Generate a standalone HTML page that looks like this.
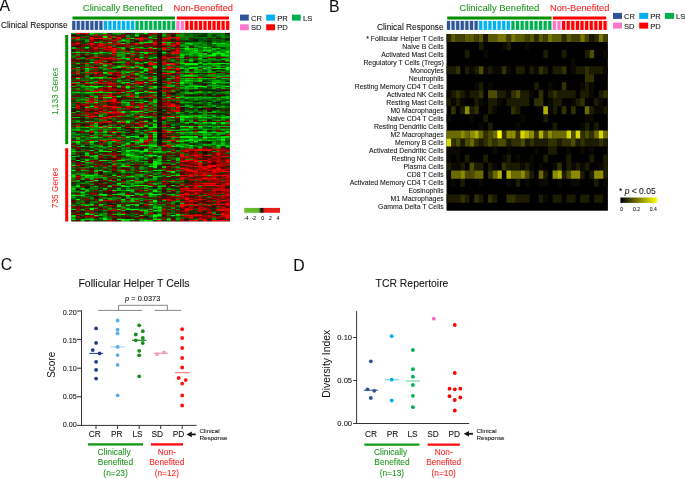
<!DOCTYPE html>
<html><head><meta charset="utf-8"><style>
html,body{margin:0;padding:0;background:#fff;width:685px;height:479px;overflow:hidden;}
svg{display:block;font-family:"Liberation Sans", sans-serif;will-change:transform;}
</style></head><body>
<svg width="685" height="479" viewBox="0 0 685 479">
<rect width="685" height="479" fill="#fff"/>
<text x="-0.6" y="10.6" font-size="15.8" fill="#111" stroke="#111" stroke-width="0.07" text-anchor="start" >A</text>
<text x="1.0" y="28.1" font-size="8.33" fill="#111" stroke="#111" stroke-width="0.07" text-anchor="start" >Clinical Response</text>
<text x="82.8" y="11.1" font-size="9.6" fill="#1E961E" stroke="#1E961E" stroke-width="0.07" text-anchor="start" textLength="80.0" lengthAdjust="spacingAndGlyphs">Clinically Benefited</text>
<text x="173.5" y="11.0" font-size="9.4" fill="#FF2222" stroke="#FF2222" stroke-width="0.07" text-anchor="start" textLength="59.5" lengthAdjust="spacingAndGlyphs">Non-Benefited</text>
<rect x="72.50" y="16.50" width="102.40" height="3.00" fill="#009000" />
<rect x="176.80" y="16.50" width="52.20" height="3.00" fill="#FF0000" />
<rect x="71.85" y="20.90" width="4.53" height="9.00" fill="#2E5597" opacity="0.2"/>
<rect x="72.20" y="20.90" width="3.10" height="9.00" fill="#2E5597" />
<rect x="76.38" y="20.90" width="4.53" height="9.00" fill="#2E5597" opacity="0.2"/>
<rect x="76.73" y="20.90" width="3.10" height="9.00" fill="#2E5597" />
<rect x="80.90" y="20.90" width="4.53" height="9.00" fill="#2E5597" opacity="0.2"/>
<rect x="81.25" y="20.90" width="3.10" height="9.00" fill="#2E5597" />
<rect x="85.43" y="20.90" width="4.53" height="9.00" fill="#2E5597" opacity="0.2"/>
<rect x="85.78" y="20.90" width="3.10" height="9.00" fill="#2E5597" />
<rect x="89.95" y="20.90" width="4.53" height="9.00" fill="#2E5597" opacity="0.2"/>
<rect x="90.30" y="20.90" width="3.10" height="9.00" fill="#2E5597" />
<rect x="94.48" y="20.90" width="4.53" height="9.00" fill="#2E5597" opacity="0.2"/>
<rect x="94.83" y="20.90" width="3.10" height="9.00" fill="#2E5597" />
<rect x="99.01" y="20.90" width="4.53" height="9.00" fill="#2E5597" opacity="0.2"/>
<rect x="99.36" y="20.90" width="3.10" height="9.00" fill="#2E5597" />
<rect x="103.53" y="20.90" width="4.53" height="9.00" fill="#00B0F0" opacity="0.2"/>
<rect x="103.88" y="20.90" width="3.10" height="9.00" fill="#00B0F0" />
<rect x="108.06" y="20.90" width="4.53" height="9.00" fill="#00B0F0" opacity="0.2"/>
<rect x="108.41" y="20.90" width="3.10" height="9.00" fill="#00B0F0" />
<rect x="112.58" y="20.90" width="4.53" height="9.00" fill="#00B0F0" opacity="0.2"/>
<rect x="112.93" y="20.90" width="3.10" height="9.00" fill="#00B0F0" />
<rect x="117.11" y="20.90" width="4.53" height="9.00" fill="#00B0F0" opacity="0.2"/>
<rect x="117.46" y="20.90" width="3.10" height="9.00" fill="#00B0F0" />
<rect x="121.64" y="20.90" width="4.53" height="9.00" fill="#00B0F0" opacity="0.2"/>
<rect x="121.99" y="20.90" width="3.10" height="9.00" fill="#00B0F0" />
<rect x="126.16" y="20.90" width="4.53" height="9.00" fill="#00B0F0" opacity="0.2"/>
<rect x="126.51" y="20.90" width="3.10" height="9.00" fill="#00B0F0" />
<rect x="130.69" y="20.90" width="4.53" height="9.00" fill="#00B0F0" opacity="0.2"/>
<rect x="131.04" y="20.90" width="3.10" height="9.00" fill="#00B0F0" />
<rect x="135.21" y="20.90" width="4.53" height="9.00" fill="#00B050" opacity="0.2"/>
<rect x="135.56" y="20.90" width="3.10" height="9.00" fill="#00B050" />
<rect x="139.74" y="20.90" width="4.53" height="9.00" fill="#00B050" opacity="0.2"/>
<rect x="140.09" y="20.90" width="3.10" height="9.00" fill="#00B050" />
<rect x="144.27" y="20.90" width="4.53" height="9.00" fill="#00B050" opacity="0.2"/>
<rect x="144.62" y="20.90" width="3.10" height="9.00" fill="#00B050" />
<rect x="148.79" y="20.90" width="4.53" height="9.00" fill="#00B050" opacity="0.2"/>
<rect x="149.14" y="20.90" width="3.10" height="9.00" fill="#00B050" />
<rect x="153.32" y="20.90" width="4.53" height="9.00" fill="#00B050" opacity="0.2"/>
<rect x="153.67" y="20.90" width="3.10" height="9.00" fill="#00B050" />
<rect x="157.84" y="20.90" width="4.53" height="9.00" fill="#00B050" opacity="0.2"/>
<rect x="158.19" y="20.90" width="3.10" height="9.00" fill="#00B050" />
<rect x="162.37" y="20.90" width="4.53" height="9.00" fill="#00B050" opacity="0.2"/>
<rect x="162.72" y="20.90" width="3.10" height="9.00" fill="#00B050" />
<rect x="166.90" y="20.90" width="4.53" height="9.00" fill="#00B050" opacity="0.2"/>
<rect x="167.25" y="20.90" width="3.10" height="9.00" fill="#00B050" />
<rect x="171.42" y="20.90" width="4.53" height="9.00" fill="#00B050" opacity="0.2"/>
<rect x="171.77" y="20.90" width="3.10" height="9.00" fill="#00B050" />
<rect x="175.95" y="20.90" width="4.53" height="9.00" fill="#FF77CC" opacity="0.2"/>
<rect x="176.30" y="20.90" width="3.10" height="9.00" fill="#FF77CC" />
<rect x="180.47" y="20.90" width="4.53" height="9.00" fill="#FF77CC" opacity="0.2"/>
<rect x="180.82" y="20.90" width="3.10" height="9.00" fill="#FF77CC" />
<rect x="185.00" y="20.90" width="4.53" height="9.00" fill="#FF0000" opacity="0.2"/>
<rect x="185.35" y="20.90" width="3.10" height="9.00" fill="#FF0000" />
<rect x="189.53" y="20.90" width="4.53" height="9.00" fill="#FF0000" opacity="0.2"/>
<rect x="189.88" y="20.90" width="3.10" height="9.00" fill="#FF0000" />
<rect x="194.05" y="20.90" width="4.53" height="9.00" fill="#FF0000" opacity="0.2"/>
<rect x="194.40" y="20.90" width="3.10" height="9.00" fill="#FF0000" />
<rect x="198.58" y="20.90" width="4.53" height="9.00" fill="#FF0000" opacity="0.2"/>
<rect x="198.93" y="20.90" width="3.10" height="9.00" fill="#FF0000" />
<rect x="203.10" y="20.90" width="4.53" height="9.00" fill="#FF0000" opacity="0.2"/>
<rect x="203.45" y="20.90" width="3.10" height="9.00" fill="#FF0000" />
<rect x="207.63" y="20.90" width="4.53" height="9.00" fill="#FF0000" opacity="0.2"/>
<rect x="207.98" y="20.90" width="3.10" height="9.00" fill="#FF0000" />
<rect x="212.16" y="20.90" width="4.53" height="9.00" fill="#FF0000" opacity="0.2"/>
<rect x="212.51" y="20.90" width="3.10" height="9.00" fill="#FF0000" />
<rect x="216.68" y="20.90" width="4.53" height="9.00" fill="#FF0000" opacity="0.2"/>
<rect x="217.03" y="20.90" width="3.10" height="9.00" fill="#FF0000" />
<rect x="221.21" y="20.90" width="4.53" height="9.00" fill="#FF0000" opacity="0.2"/>
<rect x="221.56" y="20.90" width="3.10" height="9.00" fill="#FF0000" />
<rect x="225.73" y="20.90" width="4.53" height="9.00" fill="#FF0000" opacity="0.2"/>
<rect x="226.08" y="20.90" width="3.10" height="9.00" fill="#FF0000" />
<rect x="65.20" y="35.00" width="3.00" height="109.20" fill="#009000" />
<rect x="65.20" y="148.20" width="3.00" height="73.30" fill="#FF0000" />
<text transform="translate(58.3,91.3) rotate(-90)" font-size="8.3" fill="#1E961E" text-anchor="middle">1,133 Genes</text>
<text transform="translate(58.2,187.9) rotate(-90)" font-size="8.3" fill="#FF2222" text-anchor="middle">735 Genes</text>
<rect x="71.3" y="32.9" width="158.50" height="188.40" fill="#000"/>
<path fill="#00bb00" d="M71.3 32.9h4.53v1.26h-4.53zM152.8 37.9h4.53v1.26h-4.53zM125.6 39.2h4.53v1.26h-4.53zM130.2 40.4h4.53v1.26h-4.53zM184.5 45.5h4.53v1.26h-4.53zM71.3 46.7h4.53v1.26h-4.53zM121.1 46.7h4.53v1.26h-4.53zM184.5 46.7h4.53v1.26h-4.53zM207.2 46.7h4.53v1.26h-4.53zM71.3 48.0h4.53v1.26h-4.53zM180.0 48.0h4.53v1.26h-4.53zM189.0 48.0h4.53v1.26h-4.53zM193.6 48.0h4.53v1.26h-4.53zM211.7 48.0h4.53v1.26h-4.53zM189.0 49.2h4.53v1.26h-4.53zM225.3 49.2h4.53v1.26h-4.53zM180.0 50.5h4.53v1.26h-4.53zM184.5 50.5h4.53v1.26h-4.53zM71.3 51.7h4.53v1.26h-4.53zM193.6 54.3h4.53v1.26h-4.53zM216.2 54.3h4.53v1.26h-4.53zM71.3 55.5h4.53v1.26h-4.53zM121.1 55.5h4.53v1.26h-4.53zM189.0 55.5h4.53v1.26h-4.53zM116.6 58.0h4.53v1.26h-4.53zM130.2 60.5h4.53v1.26h-4.53zM148.3 60.5h4.53v1.26h-4.53zM170.9 60.5h4.53v1.26h-4.53zM180.0 60.5h4.53v1.26h-4.53zM198.1 61.8h4.53v1.26h-4.53zM98.5 63.0h4.53v1.26h-4.53zM202.6 63.0h4.53v1.26h-4.53zM84.9 64.3h4.53v1.26h-4.53zM216.2 64.3h4.53v1.26h-4.53zM125.6 65.6h4.53v1.26h-4.53zM216.2 66.8h4.53v1.26h-4.53zM161.9 68.1h4.53v1.26h-4.53zM184.5 68.1h4.53v1.26h-4.53zM184.5 69.3h4.53v1.26h-4.53zM139.2 70.6h4.53v1.26h-4.53zM193.6 70.6h4.53v1.26h-4.53zM207.2 71.8h4.53v1.26h-4.53zM139.2 74.3h4.53v1.26h-4.53zM198.1 74.3h4.53v1.26h-4.53zM202.6 74.3h4.53v1.26h-4.53zM225.3 74.3h4.53v1.26h-4.53zM89.4 76.9h4.53v1.26h-4.53zM93.9 76.9h4.53v1.26h-4.53zM121.1 76.9h4.53v1.26h-4.53zM134.7 78.1h4.53v1.26h-4.53zM193.6 78.1h4.53v1.26h-4.53zM71.3 79.4h4.53v1.26h-4.53zM166.4 79.4h4.53v1.26h-4.53zM180.0 79.4h4.53v1.26h-4.53zM211.7 79.4h4.53v1.26h-4.53zM216.2 79.4h4.53v1.26h-4.53zM193.6 80.6h4.53v1.26h-4.53zM220.7 80.6h4.53v1.26h-4.53zM71.3 81.9h4.53v1.26h-4.53zM184.5 81.9h4.53v1.26h-4.53zM220.7 81.9h4.53v1.26h-4.53zM193.6 84.4h4.53v1.26h-4.53zM71.3 85.7h4.53v1.26h-4.53zM189.0 85.7h4.53v1.26h-4.53zM220.7 85.7h4.53v1.26h-4.53zM184.5 86.9h4.53v1.26h-4.53zM193.6 86.9h4.53v1.26h-4.53zM152.8 88.2h4.53v1.26h-4.53zM180.0 88.2h4.53v1.26h-4.53zM184.5 88.2h4.53v1.26h-4.53zM225.3 88.2h4.53v1.26h-4.53zM170.9 89.4h4.53v1.26h-4.53zM98.5 90.7h4.53v1.26h-4.53zM125.6 90.7h4.53v1.26h-4.53zM198.1 90.7h4.53v1.26h-4.53zM71.3 91.9h4.53v1.26h-4.53zM103.0 91.9h4.53v1.26h-4.53zM121.1 91.9h4.53v1.26h-4.53zM184.5 91.9h4.53v1.26h-4.53zM189.0 91.9h4.53v1.26h-4.53zM198.1 91.9h4.53v1.26h-4.53zM207.2 91.9h4.53v1.26h-4.53zM125.6 93.2h4.53v1.26h-4.53zM184.5 93.2h4.53v1.26h-4.53zM189.0 93.2h4.53v1.26h-4.53zM193.6 93.2h4.53v1.26h-4.53zM225.3 93.2h4.53v1.26h-4.53zM93.9 95.7h4.53v1.26h-4.53zM134.7 95.7h4.53v1.26h-4.53zM134.7 97.0h4.53v1.26h-4.53zM180.0 97.0h4.53v1.26h-4.53zM184.5 97.0h4.53v1.26h-4.53zM189.0 97.0h4.53v1.26h-4.53zM193.6 97.0h4.53v1.26h-4.53zM202.6 97.0h4.53v1.26h-4.53zM207.2 97.0h4.53v1.26h-4.53zM211.7 97.0h4.53v1.26h-4.53zM220.7 97.0h4.53v1.26h-4.53zM225.3 97.0h4.53v1.26h-4.53zM152.8 98.2h4.53v1.26h-4.53zM184.5 98.2h4.53v1.26h-4.53zM198.1 98.2h4.53v1.26h-4.53zM225.3 98.2h4.53v1.26h-4.53zM103.0 99.5h4.53v1.26h-4.53zM166.4 99.5h4.53v1.26h-4.53zM180.0 99.5h4.53v1.26h-4.53zM225.3 100.7h4.53v1.26h-4.53zM134.7 102.0h4.53v1.26h-4.53zM180.0 102.0h4.53v1.26h-4.53zM207.2 102.0h4.53v1.26h-4.53zM71.3 104.5h4.53v1.26h-4.53zM184.5 104.5h4.53v1.26h-4.53zM143.8 105.7h4.53v1.26h-4.53zM184.5 105.7h4.53v1.26h-4.53zM220.7 105.7h4.53v1.26h-4.53zM71.3 107.0h4.53v1.26h-4.53zM189.0 107.0h4.53v1.26h-4.53zM198.1 107.0h4.53v1.26h-4.53zM216.2 107.0h4.53v1.26h-4.53zM202.6 109.5h4.53v1.26h-4.53zM75.8 110.8h4.53v1.26h-4.53zM211.7 110.8h4.53v1.26h-4.53zM71.3 112.0h4.53v1.26h-4.53zM134.7 112.0h4.53v1.26h-4.53zM175.5 112.0h4.53v1.26h-4.53zM189.0 112.0h4.53v1.26h-4.53zM211.7 112.0h4.53v1.26h-4.53zM139.2 113.3h4.53v1.26h-4.53zM152.8 113.3h4.53v1.26h-4.53zM202.6 113.3h4.53v1.26h-4.53zM84.9 114.5h4.53v1.26h-4.53zM193.6 114.5h4.53v1.26h-4.53zM220.7 114.5h4.53v1.26h-4.53zM148.3 115.8h4.53v1.26h-4.53zM175.5 115.8h4.53v1.26h-4.53zM193.6 115.8h4.53v1.26h-4.53zM198.1 115.8h4.53v1.26h-4.53zM71.3 117.1h4.53v1.26h-4.53zM93.9 118.3h4.53v1.26h-4.53zM103.0 119.6h4.53v1.26h-4.53zM125.6 119.6h4.53v1.26h-4.53zM130.2 119.6h4.53v1.26h-4.53zM75.8 120.8h4.53v1.26h-4.53zM202.6 123.3h4.53v1.26h-4.53zM225.3 123.3h4.53v1.26h-4.53zM112.1 124.6h4.53v1.26h-4.53zM121.1 124.6h4.53v1.26h-4.53zM220.7 125.8h4.53v1.26h-4.53zM225.3 125.8h4.53v1.26h-4.53zM75.8 127.1h4.53v1.26h-4.53zM112.1 127.1h4.53v1.26h-4.53zM71.3 128.4h4.53v1.26h-4.53zM121.1 128.4h4.53v1.26h-4.53zM71.3 129.6h4.53v1.26h-4.53zM89.4 129.6h4.53v1.26h-4.53zM134.7 129.6h4.53v1.26h-4.53zM202.6 129.6h4.53v1.26h-4.53zM116.6 130.9h4.53v1.26h-4.53zM134.7 130.9h4.53v1.26h-4.53zM71.3 132.1h4.53v1.26h-4.53zM103.0 132.1h4.53v1.26h-4.53zM121.1 132.1h4.53v1.26h-4.53zM166.4 132.1h4.53v1.26h-4.53zM193.6 132.1h4.53v1.26h-4.53zM71.3 133.4h4.53v1.26h-4.53zM84.9 133.4h4.53v1.26h-4.53zM207.2 134.6h4.53v1.26h-4.53zM202.6 135.9h4.53v1.26h-4.53zM220.7 135.9h4.53v1.26h-4.53zM116.6 137.1h4.53v1.26h-4.53zM134.7 137.1h4.53v1.26h-4.53zM152.8 137.1h4.53v1.26h-4.53zM170.9 137.1h4.53v1.26h-4.53zM175.5 137.1h4.53v1.26h-4.53zM225.3 137.1h4.53v1.26h-4.53zM121.1 138.4h4.53v1.26h-4.53zM170.9 138.4h4.53v1.26h-4.53zM180.0 139.7h4.53v1.26h-4.53zM71.3 140.9h4.53v1.26h-4.53zM134.7 140.9h4.53v1.26h-4.53zM116.6 142.2h4.53v1.26h-4.53zM225.3 144.7h4.53v1.26h-4.53zM148.3 145.9h4.53v1.26h-4.53zM175.5 145.9h4.53v1.26h-4.53zM189.0 145.9h4.53v1.26h-4.53zM198.1 145.9h4.53v1.26h-4.53zM134.7 151.0h4.53v1.26h-4.53zM125.6 152.2h4.53v1.26h-4.53zM139.2 152.2h4.53v1.26h-4.53zM130.2 153.5h4.53v1.26h-4.53zM143.8 154.7h4.53v1.26h-4.53zM103.0 157.2h4.53v1.26h-4.53zM139.2 157.2h4.53v1.26h-4.53zM175.5 157.2h4.53v1.26h-4.53zM80.4 158.5h4.53v1.26h-4.53zM89.4 158.5h4.53v1.26h-4.53zM152.8 158.5h4.53v1.26h-4.53zM175.5 158.5h4.53v1.26h-4.53zM184.5 158.5h4.53v1.26h-4.53zM134.7 159.8h4.53v1.26h-4.53zM175.5 159.8h4.53v1.26h-4.53zM139.2 161.0h4.53v1.26h-4.53zM161.9 162.3h4.53v1.26h-4.53zM161.9 166.0h4.53v1.26h-4.53zM130.2 167.3h4.53v1.26h-4.53zM161.9 167.3h4.53v1.26h-4.53zM121.1 171.1h4.53v1.26h-4.53zM121.1 172.3h4.53v1.26h-4.53zM93.9 174.8h4.53v1.26h-4.53zM139.2 174.8h4.53v1.26h-4.53zM157.3 176.1h4.53v1.26h-4.53zM71.3 177.3h4.53v1.26h-4.53zM80.4 177.3h4.53v1.26h-4.53zM134.7 178.6h4.53v1.26h-4.53zM71.3 181.1h4.53v1.26h-4.53zM84.9 181.1h4.53v1.26h-4.53zM125.6 181.1h4.53v1.26h-4.53zM166.4 181.1h4.53v1.26h-4.53zM84.9 182.4h4.53v1.26h-4.53zM130.2 182.4h4.53v1.26h-4.53zM148.3 182.4h4.53v1.26h-4.53zM175.5 182.4h4.53v1.26h-4.53zM180.0 183.6h4.53v1.26h-4.53zM161.9 186.1h4.53v1.26h-4.53zM184.5 186.1h4.53v1.26h-4.53zM80.4 187.4h4.53v1.26h-4.53zM103.0 187.4h4.53v1.26h-4.53zM139.2 187.4h4.53v1.26h-4.53zM84.9 189.9h4.53v1.26h-4.53zM116.6 189.9h4.53v1.26h-4.53zM130.2 189.9h4.53v1.26h-4.53zM143.8 189.9h4.53v1.26h-4.53zM134.7 193.7h4.53v1.26h-4.53zM148.3 194.9h4.53v1.26h-4.53zM175.5 194.9h4.53v1.26h-4.53zM125.6 196.2h4.53v1.26h-4.53zM112.1 197.4h4.53v1.26h-4.53zM130.2 197.4h4.53v1.26h-4.53zM130.2 198.7h4.53v1.26h-4.53zM161.9 199.9h4.53v1.26h-4.53zM89.4 201.2h4.53v1.26h-4.53zM75.8 202.5h4.53v1.26h-4.53zM80.4 203.7h4.53v1.26h-4.53zM98.5 205.0h4.53v1.26h-4.53zM103.0 206.2h4.53v1.26h-4.53zM80.4 208.7h4.53v1.26h-4.53zM157.3 211.3h4.53v1.26h-4.53zM170.9 212.5h4.53v1.26h-4.53zM98.5 213.8h4.53v1.26h-4.53zM112.1 213.8h4.53v1.26h-4.53zM152.8 213.8h4.53v1.26h-4.53zM103.0 216.3h4.53v1.26h-4.53zM71.3 217.5h4.53v1.26h-4.53zM89.4 217.5h4.53v1.26h-4.53zM152.8 217.5h4.53v1.26h-4.53zM166.4 217.5h4.53v1.26h-4.53zM211.7 217.5h4.53v1.26h-4.53zM80.4 220.0h4.53v1.26h-4.53zM125.6 220.0h4.53v1.26h-4.53zM139.2 220.0h4.53v1.26h-4.53z"/>
<path fill="#ff0000" d="M75.8 32.9h4.53v1.26h-4.53zM93.9 34.2h4.53v1.26h-4.53zM107.5 35.4h4.53v1.26h-4.53zM112.1 35.4h4.53v1.26h-4.53zM75.8 36.7h4.53v1.26h-4.53zM89.4 36.7h4.53v1.26h-4.53zM116.6 36.7h4.53v1.26h-4.53zM75.8 37.9h4.53v1.26h-4.53zM93.9 37.9h4.53v1.26h-4.53zM98.5 37.9h4.53v1.26h-4.53zM103.0 37.9h4.53v1.26h-4.53zM116.6 37.9h4.53v1.26h-4.53zM125.6 37.9h4.53v1.26h-4.53zM134.7 37.9h4.53v1.26h-4.53zM139.2 37.9h4.53v1.26h-4.53zM161.9 37.9h4.53v1.26h-4.53zM166.4 37.9h4.53v1.26h-4.53zM175.5 37.9h4.53v1.26h-4.53zM139.2 39.2h4.53v1.26h-4.53zM175.5 41.7h4.53v1.26h-4.53zM75.8 42.9h4.53v1.26h-4.53zM89.4 42.9h4.53v1.26h-4.53zM107.5 42.9h4.53v1.26h-4.53zM116.6 42.9h4.53v1.26h-4.53zM134.7 42.9h4.53v1.26h-4.53zM152.8 42.9h4.53v1.26h-4.53zM161.9 42.9h4.53v1.26h-4.53zM89.4 44.2h4.53v1.26h-4.53zM93.9 44.2h4.53v1.26h-4.53zM98.5 44.2h4.53v1.26h-4.53zM103.0 44.2h4.53v1.26h-4.53zM112.1 44.2h4.53v1.26h-4.53zM161.9 44.2h4.53v1.26h-4.53zM170.9 44.2h4.53v1.26h-4.53zM175.5 44.2h4.53v1.26h-4.53zM98.5 45.5h4.53v1.26h-4.53zM107.5 45.5h4.53v1.26h-4.53zM170.9 45.5h4.53v1.26h-4.53zM107.5 46.7h4.53v1.26h-4.53zM93.9 48.0h4.53v1.26h-4.53zM112.1 48.0h4.53v1.26h-4.53zM148.3 48.0h4.53v1.26h-4.53zM161.9 48.0h4.53v1.26h-4.53zM103.0 49.2h4.53v1.26h-4.53zM107.5 49.2h4.53v1.26h-4.53zM112.1 49.2h4.53v1.26h-4.53zM121.1 49.2h4.53v1.26h-4.53zM161.9 49.2h4.53v1.26h-4.53zM175.5 49.2h4.53v1.26h-4.53zM112.1 50.5h4.53v1.26h-4.53zM125.6 50.5h4.53v1.26h-4.53zM175.5 50.5h4.53v1.26h-4.53zM112.1 51.7h4.53v1.26h-4.53zM170.9 51.7h4.53v1.26h-4.53zM170.9 53.0h4.53v1.26h-4.53zM112.1 54.3h4.53v1.26h-4.53zM75.8 55.5h4.53v1.26h-4.53zM161.9 55.5h4.53v1.26h-4.53zM170.9 56.8h4.53v1.26h-4.53zM107.5 58.0h4.53v1.26h-4.53zM134.7 58.0h4.53v1.26h-4.53zM98.5 59.3h4.53v1.26h-4.53zM112.1 59.3h4.53v1.26h-4.53zM116.6 59.3h4.53v1.26h-4.53zM134.7 59.3h4.53v1.26h-4.53zM139.2 59.3h4.53v1.26h-4.53zM175.5 59.3h4.53v1.26h-4.53zM93.9 60.5h4.53v1.26h-4.53zM98.5 61.8h4.53v1.26h-4.53zM84.9 63.0h4.53v1.26h-4.53zM148.3 63.0h4.53v1.26h-4.53zM166.4 63.0h4.53v1.26h-4.53zM170.9 63.0h4.53v1.26h-4.53zM148.3 64.3h4.53v1.26h-4.53zM152.8 64.3h4.53v1.26h-4.53zM161.9 64.3h4.53v1.26h-4.53zM170.9 64.3h4.53v1.26h-4.53zM89.4 66.8h4.53v1.26h-4.53zM93.9 66.8h4.53v1.26h-4.53zM121.1 66.8h4.53v1.26h-4.53zM134.7 66.8h4.53v1.26h-4.53zM166.4 66.8h4.53v1.26h-4.53zM148.3 68.1h4.53v1.26h-4.53zM166.4 68.1h4.53v1.26h-4.53zM175.5 68.1h4.53v1.26h-4.53zM175.5 69.3h4.53v1.26h-4.53zM84.9 71.8h4.53v1.26h-4.53zM107.5 73.1h4.53v1.26h-4.53zM161.9 73.1h4.53v1.26h-4.53zM166.4 73.1h4.53v1.26h-4.53zM125.6 75.6h4.53v1.26h-4.53zM75.8 76.9h4.53v1.26h-4.53zM148.3 76.9h4.53v1.26h-4.53zM75.8 79.4h4.53v1.26h-4.53zM175.5 79.4h4.53v1.26h-4.53zM148.3 80.6h4.53v1.26h-4.53zM161.9 80.6h4.53v1.26h-4.53zM93.9 81.9h4.53v1.26h-4.53zM84.9 83.1h4.53v1.26h-4.53zM98.5 83.1h4.53v1.26h-4.53zM107.5 83.1h4.53v1.26h-4.53zM134.7 83.1h4.53v1.26h-4.53zM148.3 83.1h4.53v1.26h-4.53zM166.4 83.1h4.53v1.26h-4.53zM175.5 83.1h4.53v1.26h-4.53zM89.4 84.4h4.53v1.26h-4.53zM112.1 84.4h4.53v1.26h-4.53zM148.3 86.9h4.53v1.26h-4.53zM161.9 86.9h4.53v1.26h-4.53zM166.4 86.9h4.53v1.26h-4.53zM175.5 88.2h4.53v1.26h-4.53zM98.5 89.4h4.53v1.26h-4.53zM161.9 89.4h4.53v1.26h-4.53zM148.3 90.7h4.53v1.26h-4.53zM116.6 91.9h4.53v1.26h-4.53zM98.5 94.4h4.53v1.26h-4.53zM148.3 94.4h4.53v1.26h-4.53zM89.4 95.7h4.53v1.26h-4.53zM112.1 95.7h4.53v1.26h-4.53zM130.2 95.7h4.53v1.26h-4.53zM84.9 98.2h4.53v1.26h-4.53zM89.4 98.2h4.53v1.26h-4.53zM93.9 98.2h4.53v1.26h-4.53zM103.0 98.2h4.53v1.26h-4.53zM112.1 98.2h4.53v1.26h-4.53zM161.9 98.2h4.53v1.26h-4.53zM170.9 98.2h4.53v1.26h-4.53zM175.5 98.2h4.53v1.26h-4.53zM112.1 99.5h4.53v1.26h-4.53zM103.0 100.7h4.53v1.26h-4.53zM112.1 100.7h4.53v1.26h-4.53zM116.6 102.0h4.53v1.26h-4.53zM84.9 103.2h4.53v1.26h-4.53zM98.5 103.2h4.53v1.26h-4.53zM139.2 103.2h4.53v1.26h-4.53zM161.9 103.2h4.53v1.26h-4.53zM166.4 103.2h4.53v1.26h-4.53zM170.9 103.2h4.53v1.26h-4.53zM103.0 104.5h4.53v1.26h-4.53zM170.9 104.5h4.53v1.26h-4.53zM84.9 105.7h4.53v1.26h-4.53zM103.0 105.7h4.53v1.26h-4.53zM112.1 105.7h4.53v1.26h-4.53zM125.6 105.7h4.53v1.26h-4.53zM139.2 105.7h4.53v1.26h-4.53zM166.4 105.7h4.53v1.26h-4.53zM170.9 105.7h4.53v1.26h-4.53zM93.9 107.0h4.53v1.26h-4.53zM112.1 107.0h4.53v1.26h-4.53zM116.6 107.0h4.53v1.26h-4.53zM139.2 107.0h4.53v1.26h-4.53zM175.5 107.0h4.53v1.26h-4.53zM75.8 108.3h4.53v1.26h-4.53zM89.4 108.3h4.53v1.26h-4.53zM98.5 108.3h4.53v1.26h-4.53zM125.6 108.3h4.53v1.26h-4.53zM148.3 109.5h4.53v1.26h-4.53zM175.5 109.5h4.53v1.26h-4.53zM103.0 112.0h4.53v1.26h-4.53zM107.5 112.0h4.53v1.26h-4.53zM116.6 112.0h4.53v1.26h-4.53zM84.9 113.3h4.53v1.26h-4.53zM93.9 113.3h4.53v1.26h-4.53zM98.5 113.3h4.53v1.26h-4.53zM89.4 115.8h4.53v1.26h-4.53zM93.9 115.8h4.53v1.26h-4.53zM107.5 115.8h4.53v1.26h-4.53zM112.1 115.8h4.53v1.26h-4.53zM166.4 115.8h4.53v1.26h-4.53zM103.0 117.1h4.53v1.26h-4.53zM161.9 117.1h4.53v1.26h-4.53zM98.5 118.3h4.53v1.26h-4.53zM161.9 118.3h4.53v1.26h-4.53zM107.5 120.8h4.53v1.26h-4.53zM139.2 120.8h4.53v1.26h-4.53zM93.9 122.1h4.53v1.26h-4.53zM134.7 123.3h4.53v1.26h-4.53zM139.2 124.6h4.53v1.26h-4.53zM75.8 125.8h4.53v1.26h-4.53zM89.4 125.8h4.53v1.26h-4.53zM161.9 129.6h4.53v1.26h-4.53zM112.1 130.9h4.53v1.26h-4.53zM148.3 130.9h4.53v1.26h-4.53zM166.4 130.9h4.53v1.26h-4.53zM112.1 133.4h4.53v1.26h-4.53zM170.9 135.9h4.53v1.26h-4.53zM112.1 138.4h4.53v1.26h-4.53zM148.3 138.4h4.53v1.26h-4.53zM98.5 139.7h4.53v1.26h-4.53zM112.1 139.7h4.53v1.26h-4.53zM116.6 139.7h4.53v1.26h-4.53zM166.4 139.7h4.53v1.26h-4.53zM143.8 140.9h4.53v1.26h-4.53zM84.9 142.2h4.53v1.26h-4.53zM148.3 142.2h4.53v1.26h-4.53zM161.9 144.7h4.53v1.26h-4.53zM189.0 148.5h4.53v1.26h-4.53zM198.1 148.5h4.53v1.26h-4.53zM202.6 148.5h4.53v1.26h-4.53zM216.2 148.5h4.53v1.26h-4.53zM198.1 149.7h4.53v1.26h-4.53zM207.2 149.7h4.53v1.26h-4.53zM216.2 152.2h4.53v1.26h-4.53zM180.0 153.5h4.53v1.26h-4.53zM198.1 153.5h4.53v1.26h-4.53zM216.2 153.5h4.53v1.26h-4.53zM180.0 154.7h4.53v1.26h-4.53zM193.6 154.7h4.53v1.26h-4.53zM207.2 154.7h4.53v1.26h-4.53zM225.3 156.0h4.53v1.26h-4.53zM198.1 157.2h4.53v1.26h-4.53zM211.7 157.2h4.53v1.26h-4.53zM207.2 158.5h4.53v1.26h-4.53zM184.5 159.8h4.53v1.26h-4.53zM180.0 161.0h4.53v1.26h-4.53zM193.6 161.0h4.53v1.26h-4.53zM207.2 161.0h4.53v1.26h-4.53zM216.2 161.0h4.53v1.26h-4.53zM225.3 161.0h4.53v1.26h-4.53zM198.1 162.3h4.53v1.26h-4.53zM220.7 162.3h4.53v1.26h-4.53zM198.1 163.5h4.53v1.26h-4.53zM207.2 164.8h4.53v1.26h-4.53zM211.7 164.8h4.53v1.26h-4.53zM207.2 166.0h4.53v1.26h-4.53zM211.7 166.0h4.53v1.26h-4.53zM180.0 167.3h4.53v1.26h-4.53zM198.1 167.3h4.53v1.26h-4.53zM202.6 167.3h4.53v1.26h-4.53zM207.2 167.3h4.53v1.26h-4.53zM216.2 167.3h4.53v1.26h-4.53zM180.0 168.5h4.53v1.26h-4.53zM184.5 168.5h4.53v1.26h-4.53zM193.6 168.5h4.53v1.26h-4.53zM202.6 168.5h4.53v1.26h-4.53zM211.7 168.5h4.53v1.26h-4.53zM216.2 168.5h4.53v1.26h-4.53zM220.7 168.5h4.53v1.26h-4.53zM225.3 168.5h4.53v1.26h-4.53zM184.5 169.8h4.53v1.26h-4.53zM207.2 169.8h4.53v1.26h-4.53zM216.2 169.8h4.53v1.26h-4.53zM189.0 171.1h4.53v1.26h-4.53zM193.6 171.1h4.53v1.26h-4.53zM211.7 171.1h4.53v1.26h-4.53zM220.7 171.1h4.53v1.26h-4.53zM225.3 171.1h4.53v1.26h-4.53zM198.1 172.3h4.53v1.26h-4.53zM202.6 172.3h4.53v1.26h-4.53zM193.6 173.6h4.53v1.26h-4.53zM180.0 174.8h4.53v1.26h-4.53zM189.0 174.8h4.53v1.26h-4.53zM220.7 174.8h4.53v1.26h-4.53zM180.0 177.3h4.53v1.26h-4.53zM184.5 177.3h4.53v1.26h-4.53zM202.6 177.3h4.53v1.26h-4.53zM211.7 177.3h4.53v1.26h-4.53zM225.3 177.3h4.53v1.26h-4.53zM180.0 178.6h4.53v1.26h-4.53zM189.0 178.6h4.53v1.26h-4.53zM193.6 178.6h4.53v1.26h-4.53zM198.1 178.6h4.53v1.26h-4.53zM202.6 178.6h4.53v1.26h-4.53zM207.2 178.6h4.53v1.26h-4.53zM211.7 178.6h4.53v1.26h-4.53zM216.2 178.6h4.53v1.26h-4.53zM193.6 182.4h4.53v1.26h-4.53zM198.1 182.4h4.53v1.26h-4.53zM202.6 182.4h4.53v1.26h-4.53zM207.2 182.4h4.53v1.26h-4.53zM211.7 182.4h4.53v1.26h-4.53zM225.3 182.4h4.53v1.26h-4.53zM202.6 183.6h4.53v1.26h-4.53zM207.2 183.6h4.53v1.26h-4.53zM211.7 183.6h4.53v1.26h-4.53zM220.7 183.6h4.53v1.26h-4.53zM225.3 183.6h4.53v1.26h-4.53zM189.0 184.9h4.53v1.26h-4.53zM202.6 184.9h4.53v1.26h-4.53zM207.2 184.9h4.53v1.26h-4.53zM211.7 184.9h4.53v1.26h-4.53zM216.2 184.9h4.53v1.26h-4.53zM193.6 186.1h4.53v1.26h-4.53zM220.7 186.1h4.53v1.26h-4.53zM184.5 187.4h4.53v1.26h-4.53zM189.0 187.4h4.53v1.26h-4.53zM193.6 187.4h4.53v1.26h-4.53zM207.2 187.4h4.53v1.26h-4.53zM180.0 188.6h4.53v1.26h-4.53zM184.5 188.6h4.53v1.26h-4.53zM211.7 188.6h4.53v1.26h-4.53zM216.2 188.6h4.53v1.26h-4.53zM220.7 188.6h4.53v1.26h-4.53zM225.3 188.6h4.53v1.26h-4.53zM189.0 189.9h4.53v1.26h-4.53zM193.6 189.9h4.53v1.26h-4.53zM198.1 189.9h4.53v1.26h-4.53zM220.7 189.9h4.53v1.26h-4.53zM180.0 191.2h4.53v1.26h-4.53zM184.5 192.4h4.53v1.26h-4.53zM211.7 192.4h4.53v1.26h-4.53zM220.7 192.4h4.53v1.26h-4.53zM180.0 193.7h4.53v1.26h-4.53zM184.5 193.7h4.53v1.26h-4.53zM202.6 194.9h4.53v1.26h-4.53zM225.3 194.9h4.53v1.26h-4.53zM180.0 196.2h4.53v1.26h-4.53zM198.1 196.2h4.53v1.26h-4.53zM184.5 197.4h4.53v1.26h-4.53zM189.0 197.4h4.53v1.26h-4.53zM220.7 197.4h4.53v1.26h-4.53zM184.5 198.7h4.53v1.26h-4.53zM189.0 199.9h4.53v1.26h-4.53zM220.7 199.9h4.53v1.26h-4.53zM184.5 201.2h4.53v1.26h-4.53zM216.2 201.2h4.53v1.26h-4.53zM180.0 203.7h4.53v1.26h-4.53zM189.0 203.7h4.53v1.26h-4.53zM202.6 203.7h4.53v1.26h-4.53zM220.7 203.7h4.53v1.26h-4.53zM180.0 205.0h4.53v1.26h-4.53zM193.6 205.0h4.53v1.26h-4.53zM207.2 205.0h4.53v1.26h-4.53zM180.0 206.2h4.53v1.26h-4.53zM216.2 206.2h4.53v1.26h-4.53zM184.5 207.5h4.53v1.26h-4.53zM225.3 207.5h4.53v1.26h-4.53zM189.0 208.7h4.53v1.26h-4.53zM184.5 210.0h4.53v1.26h-4.53zM220.7 212.5h4.53v1.26h-4.53zM220.7 213.8h4.53v1.26h-4.53zM180.0 215.0h4.53v1.26h-4.53zM193.6 215.0h4.53v1.26h-4.53zM225.3 215.0h4.53v1.26h-4.53zM189.0 216.3h4.53v1.26h-4.53zM207.2 216.3h4.53v1.26h-4.53zM211.7 216.3h4.53v1.26h-4.53zM220.7 216.3h4.53v1.26h-4.53zM225.3 216.3h4.53v1.26h-4.53zM189.0 217.5h4.53v1.26h-4.53zM216.2 217.5h4.53v1.26h-4.53zM225.3 217.5h4.53v1.26h-4.53zM202.6 218.8h4.53v1.26h-4.53zM193.6 220.0h4.53v1.26h-4.53zM202.6 220.0h4.53v1.26h-4.53zM211.7 220.0h4.53v1.26h-4.53zM216.2 220.0h4.53v1.26h-4.53zM220.7 220.0h4.53v1.26h-4.53z"/>
<path fill="#aa0000" d="M80.4 32.9h4.53v1.26h-4.53zM175.5 32.9h4.53v1.26h-4.53zM80.4 36.7h4.53v1.26h-4.53zM107.5 36.7h4.53v1.26h-4.53zM80.4 44.2h4.53v1.26h-4.53zM143.8 45.5h4.53v1.26h-4.53zM107.5 48.0h4.53v1.26h-4.53zM80.4 49.2h4.53v1.26h-4.53zM93.9 49.2h4.53v1.26h-4.53zM148.3 49.2h4.53v1.26h-4.53zM80.4 50.5h4.53v1.26h-4.53zM152.8 50.5h4.53v1.26h-4.53zM170.9 50.5h4.53v1.26h-4.53zM80.4 54.3h4.53v1.26h-4.53zM112.1 55.5h4.53v1.26h-4.53zM107.5 56.8h4.53v1.26h-4.53zM125.6 56.8h4.53v1.26h-4.53zM75.8 59.3h4.53v1.26h-4.53zM152.8 59.3h4.53v1.26h-4.53zM134.7 64.3h4.53v1.26h-4.53zM107.5 65.6h4.53v1.26h-4.53zM84.9 66.8h4.53v1.26h-4.53zM80.4 69.3h4.53v1.26h-4.53zM161.9 69.3h4.53v1.26h-4.53zM98.5 71.8h4.53v1.26h-4.53zM130.2 71.8h4.53v1.26h-4.53zM180.0 73.1h4.53v1.26h-4.53zM211.7 73.1h4.53v1.26h-4.53zM116.6 74.3h4.53v1.26h-4.53zM98.5 75.6h4.53v1.26h-4.53zM116.6 75.6h4.53v1.26h-4.53zM134.7 76.9h4.53v1.26h-4.53zM170.9 79.4h4.53v1.26h-4.53zM80.4 80.6h4.53v1.26h-4.53zM139.2 80.6h4.53v1.26h-4.53zM152.8 80.6h4.53v1.26h-4.53zM175.5 80.6h4.53v1.26h-4.53zM80.4 83.1h4.53v1.26h-4.53zM121.1 85.7h4.53v1.26h-4.53zM161.9 85.7h4.53v1.26h-4.53zM121.1 86.9h4.53v1.26h-4.53zM121.1 89.4h4.53v1.26h-4.53zM121.1 90.7h4.53v1.26h-4.53zM152.8 90.7h4.53v1.26h-4.53zM125.6 91.9h4.53v1.26h-4.53zM152.8 93.2h4.53v1.26h-4.53zM139.2 95.7h4.53v1.26h-4.53zM89.4 99.5h4.53v1.26h-4.53zM161.9 99.5h4.53v1.26h-4.53zM166.4 100.7h4.53v1.26h-4.53zM175.5 100.7h4.53v1.26h-4.53zM80.4 103.2h4.53v1.26h-4.53zM93.9 103.2h4.53v1.26h-4.53zM152.8 103.2h4.53v1.26h-4.53zM80.4 104.5h4.53v1.26h-4.53zM148.3 104.5h4.53v1.26h-4.53zM75.8 107.0h4.53v1.26h-4.53zM103.0 108.3h4.53v1.26h-4.53zM166.4 108.3h4.53v1.26h-4.53zM170.9 110.8h4.53v1.26h-4.53zM84.9 112.0h4.53v1.26h-4.53zM139.2 112.0h4.53v1.26h-4.53zM80.4 113.3h4.53v1.26h-4.53zM116.6 113.3h4.53v1.26h-4.53zM89.4 117.1h4.53v1.26h-4.53zM202.6 120.8h4.53v1.26h-4.53zM216.2 120.8h4.53v1.26h-4.53zM116.6 123.3h4.53v1.26h-4.53zM130.2 123.3h4.53v1.26h-4.53zM161.9 124.6h4.53v1.26h-4.53zM198.1 124.6h4.53v1.26h-4.53zM84.9 125.8h4.53v1.26h-4.53zM184.5 127.1h4.53v1.26h-4.53zM152.8 129.6h4.53v1.26h-4.53zM80.4 130.9h4.53v1.26h-4.53zM89.4 132.1h4.53v1.26h-4.53zM116.6 132.1h4.53v1.26h-4.53zM170.9 132.1h4.53v1.26h-4.53zM175.5 133.4h4.53v1.26h-4.53zM116.6 134.6h4.53v1.26h-4.53zM89.4 135.9h4.53v1.26h-4.53zM161.9 135.9h4.53v1.26h-4.53zM175.5 138.4h4.53v1.26h-4.53zM75.8 139.7h4.53v1.26h-4.53zM125.6 144.7h4.53v1.26h-4.53zM71.3 145.9h4.53v1.26h-4.53zM84.9 149.7h4.53v1.26h-4.53zM175.5 152.2h4.53v1.26h-4.53zM112.1 153.5h4.53v1.26h-4.53zM225.3 153.5h4.53v1.26h-4.53zM84.9 156.0h4.53v1.26h-4.53zM198.1 156.0h4.53v1.26h-4.53zM193.6 158.5h4.53v1.26h-4.53zM112.1 159.8h4.53v1.26h-4.53zM180.0 159.8h4.53v1.26h-4.53zM84.9 161.0h4.53v1.26h-4.53zM112.1 162.3h4.53v1.26h-4.53zM193.6 162.3h4.53v1.26h-4.53zM112.1 164.8h4.53v1.26h-4.53zM180.0 164.8h4.53v1.26h-4.53zM112.1 166.0h4.53v1.26h-4.53zM166.4 166.0h4.53v1.26h-4.53zM170.9 166.0h4.53v1.26h-4.53zM216.2 166.0h4.53v1.26h-4.53zM161.9 168.5h4.53v1.26h-4.53zM170.9 169.8h4.53v1.26h-4.53zM193.6 169.8h4.53v1.26h-4.53zM93.9 172.3h4.53v1.26h-4.53zM198.1 173.6h4.53v1.26h-4.53zM166.4 174.8h4.53v1.26h-4.53zM103.0 176.1h4.53v1.26h-4.53zM211.7 176.1h4.53v1.26h-4.53zM107.5 178.6h4.53v1.26h-4.53zM198.1 179.9h4.53v1.26h-4.53zM207.2 179.9h4.53v1.26h-4.53zM216.2 181.1h4.53v1.26h-4.53zM225.3 181.1h4.53v1.26h-4.53zM143.8 182.4h4.53v1.26h-4.53zM180.0 182.4h4.53v1.26h-4.53zM161.9 183.6h4.53v1.26h-4.53zM184.5 183.6h4.53v1.26h-4.53zM198.1 183.6h4.53v1.26h-4.53zM148.3 184.9h4.53v1.26h-4.53zM107.5 187.4h4.53v1.26h-4.53zM143.8 188.6h4.53v1.26h-4.53zM107.5 189.9h4.53v1.26h-4.53zM193.6 191.2h4.53v1.26h-4.53zM198.1 192.4h4.53v1.26h-4.53zM93.9 193.7h4.53v1.26h-4.53zM175.5 193.7h4.53v1.26h-4.53zM116.6 199.9h4.53v1.26h-4.53zM166.4 199.9h4.53v1.26h-4.53zM207.2 199.9h4.53v1.26h-4.53zM216.2 199.9h4.53v1.26h-4.53zM80.4 202.5h4.53v1.26h-4.53zM161.9 202.5h4.53v1.26h-4.53zM189.0 202.5h4.53v1.26h-4.53zM93.9 205.0h4.53v1.26h-4.53zM170.9 206.2h4.53v1.26h-4.53zM148.3 207.5h4.53v1.26h-4.53zM180.0 207.5h4.53v1.26h-4.53zM189.0 207.5h4.53v1.26h-4.53zM75.8 208.7h4.53v1.26h-4.53zM103.0 208.7h4.53v1.26h-4.53zM112.1 210.0h4.53v1.26h-4.53zM198.1 210.0h4.53v1.26h-4.53zM89.4 211.3h4.53v1.26h-4.53zM161.9 211.3h4.53v1.26h-4.53zM89.4 212.5h4.53v1.26h-4.53zM184.5 212.5h4.53v1.26h-4.53zM198.1 213.8h4.53v1.26h-4.53zM207.2 215.0h4.53v1.26h-4.53zM116.6 217.5h4.53v1.26h-4.53zM180.0 218.8h4.53v1.26h-4.53zM170.9 220.0h4.53v1.26h-4.53z"/>
<path fill="#ee0000" d="M84.9 32.9h4.53v1.26h-4.53zM175.5 36.7h4.53v1.26h-4.53zM148.3 39.2h4.53v1.26h-4.53zM152.8 41.7h4.53v1.26h-4.53zM98.5 42.9h4.53v1.26h-4.53zM84.9 44.2h4.53v1.26h-4.53zM125.6 45.5h4.53v1.26h-4.53zM93.9 46.7h4.53v1.26h-4.53zM175.5 53.0h4.53v1.26h-4.53zM175.5 55.5h4.53v1.26h-4.53zM103.0 58.0h4.53v1.26h-4.53zM143.8 59.3h4.53v1.26h-4.53zM93.9 61.8h4.53v1.26h-4.53zM166.4 65.6h4.53v1.26h-4.53zM107.5 68.1h4.53v1.26h-4.53zM134.7 70.6h4.53v1.26h-4.53zM93.9 71.8h4.53v1.26h-4.53zM107.5 71.8h4.53v1.26h-4.53zM116.6 71.8h4.53v1.26h-4.53zM75.8 74.3h4.53v1.26h-4.53zM84.9 74.3h4.53v1.26h-4.53zM107.5 76.9h4.53v1.26h-4.53zM116.6 76.9h4.53v1.26h-4.53zM175.5 76.9h4.53v1.26h-4.53zM112.1 79.4h4.53v1.26h-4.53zM166.4 81.9h4.53v1.26h-4.53zM139.2 83.1h4.53v1.26h-4.53zM125.6 84.4h4.53v1.26h-4.53zM98.5 88.2h4.53v1.26h-4.53zM75.8 89.4h4.53v1.26h-4.53zM84.9 89.4h4.53v1.26h-4.53zM107.5 89.4h4.53v1.26h-4.53zM112.1 89.4h4.53v1.26h-4.53zM89.4 90.7h4.53v1.26h-4.53zM93.9 90.7h4.53v1.26h-4.53zM112.1 93.2h4.53v1.26h-4.53zM107.5 94.4h4.53v1.26h-4.53zM107.5 95.7h4.53v1.26h-4.53zM107.5 100.7h4.53v1.26h-4.53zM75.8 102.0h4.53v1.26h-4.53zM134.7 104.5h4.53v1.26h-4.53zM175.5 104.5h4.53v1.26h-4.53zM75.8 105.7h4.53v1.26h-4.53zM93.9 105.7h4.53v1.26h-4.53zM130.2 105.7h4.53v1.26h-4.53zM84.9 109.5h4.53v1.26h-4.53zM170.9 109.5h4.53v1.26h-4.53zM175.5 110.8h4.53v1.26h-4.53zM93.9 112.0h4.53v1.26h-4.53zM166.4 112.0h4.53v1.26h-4.53zM139.2 114.5h4.53v1.26h-4.53zM121.1 122.1h4.53v1.26h-4.53zM103.0 127.1h4.53v1.26h-4.53zM152.8 130.9h4.53v1.26h-4.53zM98.5 134.6h4.53v1.26h-4.53zM121.1 137.1h4.53v1.26h-4.53zM170.9 139.7h4.53v1.26h-4.53zM98.5 143.4h4.53v1.26h-4.53zM116.6 143.4h4.53v1.26h-4.53zM130.2 143.4h4.53v1.26h-4.53zM184.5 149.7h4.53v1.26h-4.53zM193.6 149.7h4.53v1.26h-4.53zM202.6 149.7h4.53v1.26h-4.53zM216.2 149.7h4.53v1.26h-4.53zM184.5 151.0h4.53v1.26h-4.53zM193.6 152.2h4.53v1.26h-4.53zM216.2 154.7h4.53v1.26h-4.53zM180.0 157.2h4.53v1.26h-4.53zM193.6 159.8h4.53v1.26h-4.53zM202.6 159.8h4.53v1.26h-4.53zM225.3 159.8h4.53v1.26h-4.53zM207.2 162.3h4.53v1.26h-4.53zM225.3 162.3h4.53v1.26h-4.53zM193.6 166.0h4.53v1.26h-4.53zM184.5 167.3h4.53v1.26h-4.53zM189.0 169.8h4.53v1.26h-4.53zM211.7 169.8h4.53v1.26h-4.53zM193.6 172.3h4.53v1.26h-4.53zM211.7 172.3h4.53v1.26h-4.53zM216.2 172.3h4.53v1.26h-4.53zM202.6 173.6h4.53v1.26h-4.53zM202.6 174.8h4.53v1.26h-4.53zM211.7 174.8h4.53v1.26h-4.53zM216.2 174.8h4.53v1.26h-4.53zM225.3 174.8h4.53v1.26h-4.53zM189.0 176.1h4.53v1.26h-4.53zM207.2 177.3h4.53v1.26h-4.53zM220.7 181.1h4.53v1.26h-4.53zM198.1 184.9h4.53v1.26h-4.53zM198.1 187.4h4.53v1.26h-4.53zM202.6 187.4h4.53v1.26h-4.53zM220.7 187.4h4.53v1.26h-4.53zM189.0 191.2h4.53v1.26h-4.53zM202.6 192.4h4.53v1.26h-4.53zM216.2 192.4h4.53v1.26h-4.53zM225.3 193.7h4.53v1.26h-4.53zM180.0 197.4h4.53v1.26h-4.53zM207.2 197.4h4.53v1.26h-4.53zM198.1 198.7h4.53v1.26h-4.53zM189.0 201.2h4.53v1.26h-4.53zM193.6 201.2h4.53v1.26h-4.53zM225.3 202.5h4.53v1.26h-4.53zM225.3 203.7h4.53v1.26h-4.53zM184.5 205.0h4.53v1.26h-4.53zM189.0 206.2h4.53v1.26h-4.53zM198.1 206.2h4.53v1.26h-4.53zM202.6 207.5h4.53v1.26h-4.53zM216.2 208.7h4.53v1.26h-4.53zM220.7 208.7h4.53v1.26h-4.53zM225.3 208.7h4.53v1.26h-4.53zM216.2 210.0h4.53v1.26h-4.53zM220.7 210.0h4.53v1.26h-4.53zM225.3 210.0h4.53v1.26h-4.53zM198.1 211.3h4.53v1.26h-4.53zM225.3 213.8h4.53v1.26h-4.53zM189.0 215.0h4.53v1.26h-4.53zM198.1 215.0h4.53v1.26h-4.53zM184.5 216.3h4.53v1.26h-4.53zM198.1 217.5h4.53v1.26h-4.53z"/>
<path fill="#00ee00" d="M89.4 32.9h4.53v1.26h-4.53zM143.8 32.9h4.53v1.26h-4.53zM134.7 34.2h4.53v1.26h-4.53zM103.0 35.4h4.53v1.26h-4.53zM125.6 35.4h4.53v1.26h-4.53zM134.7 35.4h4.53v1.26h-4.53zM161.9 35.4h4.53v1.26h-4.53zM103.0 36.7h4.53v1.26h-4.53zM130.2 37.9h4.53v1.26h-4.53zM121.1 39.2h4.53v1.26h-4.53zM84.9 40.4h4.53v1.26h-4.53zM116.6 40.4h4.53v1.26h-4.53zM121.1 40.4h4.53v1.26h-4.53zM148.3 40.4h4.53v1.26h-4.53zM143.8 41.7h4.53v1.26h-4.53zM121.1 42.9h4.53v1.26h-4.53zM184.5 42.9h4.53v1.26h-4.53zM211.7 42.9h4.53v1.26h-4.53zM220.7 42.9h4.53v1.26h-4.53zM189.0 44.2h4.53v1.26h-4.53zM202.6 44.2h4.53v1.26h-4.53zM180.0 45.5h4.53v1.26h-4.53zM216.2 45.5h4.53v1.26h-4.53zM220.7 45.5h4.53v1.26h-4.53zM225.3 45.5h4.53v1.26h-4.53zM84.9 46.7h4.53v1.26h-4.53zM202.6 46.7h4.53v1.26h-4.53zM121.1 48.0h4.53v1.26h-4.53zM130.2 48.0h4.53v1.26h-4.53zM152.8 48.0h4.53v1.26h-4.53zM184.5 48.0h4.53v1.26h-4.53zM184.5 49.2h4.53v1.26h-4.53zM193.6 49.2h4.53v1.26h-4.53zM202.6 49.2h4.53v1.26h-4.53zM207.2 49.2h4.53v1.26h-4.53zM130.2 50.5h4.53v1.26h-4.53zM193.6 50.5h4.53v1.26h-4.53zM198.1 50.5h4.53v1.26h-4.53zM202.6 50.5h4.53v1.26h-4.53zM207.2 50.5h4.53v1.26h-4.53zM216.2 50.5h4.53v1.26h-4.53zM225.3 50.5h4.53v1.26h-4.53zM75.8 51.7h4.53v1.26h-4.53zM98.5 51.7h4.53v1.26h-4.53zM139.2 51.7h4.53v1.26h-4.53zM161.9 51.7h4.53v1.26h-4.53zM225.3 51.7h4.53v1.26h-4.53zM143.8 53.0h4.53v1.26h-4.53zM211.7 53.0h4.53v1.26h-4.53zM216.2 53.0h4.53v1.26h-4.53zM220.7 53.0h4.53v1.26h-4.53zM84.9 54.3h4.53v1.26h-4.53zM116.6 54.3h4.53v1.26h-4.53zM130.2 54.3h4.53v1.26h-4.53zM139.2 54.3h4.53v1.26h-4.53zM180.0 54.3h4.53v1.26h-4.53zM184.5 54.3h4.53v1.26h-4.53zM189.0 54.3h4.53v1.26h-4.53zM198.1 54.3h4.53v1.26h-4.53zM207.2 54.3h4.53v1.26h-4.53zM211.7 54.3h4.53v1.26h-4.53zM220.7 54.3h4.53v1.26h-4.53zM225.3 54.3h4.53v1.26h-4.53zM180.0 55.5h4.53v1.26h-4.53zM198.1 55.5h4.53v1.26h-4.53zM202.6 55.5h4.53v1.26h-4.53zM207.2 55.5h4.53v1.26h-4.53zM211.7 55.5h4.53v1.26h-4.53zM220.7 55.5h4.53v1.26h-4.53zM225.3 55.5h4.53v1.26h-4.53zM125.6 59.3h4.53v1.26h-4.53zM184.5 59.3h4.53v1.26h-4.53zM189.0 59.3h4.53v1.26h-4.53zM198.1 59.3h4.53v1.26h-4.53zM207.2 59.3h4.53v1.26h-4.53zM103.0 60.5h4.53v1.26h-4.53zM121.1 60.5h4.53v1.26h-4.53zM189.0 60.5h4.53v1.26h-4.53zM202.6 60.5h4.53v1.26h-4.53zM89.4 61.8h4.53v1.26h-4.53zM143.8 61.8h4.53v1.26h-4.53zM180.0 63.0h4.53v1.26h-4.53zM184.5 63.0h4.53v1.26h-4.53zM189.0 63.0h4.53v1.26h-4.53zM193.6 63.0h4.53v1.26h-4.53zM207.2 63.0h4.53v1.26h-4.53zM216.2 63.0h4.53v1.26h-4.53zM220.7 63.0h4.53v1.26h-4.53zM225.3 63.0h4.53v1.26h-4.53zM103.0 64.3h4.53v1.26h-4.53zM166.4 64.3h4.53v1.26h-4.53zM184.5 64.3h4.53v1.26h-4.53zM189.0 64.3h4.53v1.26h-4.53zM193.6 64.3h4.53v1.26h-4.53zM202.6 64.3h4.53v1.26h-4.53zM211.7 64.3h4.53v1.26h-4.53zM103.0 65.6h4.53v1.26h-4.53zM116.6 65.6h4.53v1.26h-4.53zM121.1 65.6h4.53v1.26h-4.53zM134.7 65.6h4.53v1.26h-4.53zM152.8 65.6h4.53v1.26h-4.53zM216.2 65.6h4.53v1.26h-4.53zM220.7 65.6h4.53v1.26h-4.53zM116.6 66.8h4.53v1.26h-4.53zM130.2 66.8h4.53v1.26h-4.53zM139.2 66.8h4.53v1.26h-4.53zM152.8 66.8h4.53v1.26h-4.53zM189.0 66.8h4.53v1.26h-4.53zM193.6 66.8h4.53v1.26h-4.53zM225.3 66.8h4.53v1.26h-4.53zM84.9 68.1h4.53v1.26h-4.53zM139.2 68.1h4.53v1.26h-4.53zM189.0 68.1h4.53v1.26h-4.53zM202.6 68.1h4.53v1.26h-4.53zM211.7 68.1h4.53v1.26h-4.53zM216.2 68.1h4.53v1.26h-4.53zM225.3 68.1h4.53v1.26h-4.53zM75.8 69.3h4.53v1.26h-4.53zM143.8 69.3h4.53v1.26h-4.53zM198.1 69.3h4.53v1.26h-4.53zM225.3 69.3h4.53v1.26h-4.53zM84.9 70.6h4.53v1.26h-4.53zM143.8 70.6h4.53v1.26h-4.53zM161.9 70.6h4.53v1.26h-4.53zM166.4 70.6h4.53v1.26h-4.53zM184.5 70.6h4.53v1.26h-4.53zM207.2 70.6h4.53v1.26h-4.53zM220.7 70.6h4.53v1.26h-4.53zM103.0 71.8h4.53v1.26h-4.53zM125.6 71.8h4.53v1.26h-4.53zM184.5 74.3h4.53v1.26h-4.53zM189.0 74.3h4.53v1.26h-4.53zM207.2 74.3h4.53v1.26h-4.53zM121.1 75.6h4.53v1.26h-4.53zM152.8 75.6h4.53v1.26h-4.53zM180.0 75.6h4.53v1.26h-4.53zM184.5 75.6h4.53v1.26h-4.53zM189.0 75.6h4.53v1.26h-4.53zM193.6 75.6h4.53v1.26h-4.53zM216.2 75.6h4.53v1.26h-4.53zM220.7 75.6h4.53v1.26h-4.53zM225.3 75.6h4.53v1.26h-4.53zM98.5 76.9h4.53v1.26h-4.53zM75.8 78.1h4.53v1.26h-4.53zM89.4 78.1h4.53v1.26h-4.53zM152.8 78.1h4.53v1.26h-4.53zM184.5 78.1h4.53v1.26h-4.53zM189.0 78.1h4.53v1.26h-4.53zM198.1 78.1h4.53v1.26h-4.53zM207.2 78.1h4.53v1.26h-4.53zM220.7 78.1h4.53v1.26h-4.53zM225.3 78.1h4.53v1.26h-4.53zM84.9 79.4h4.53v1.26h-4.53zM125.6 79.4h4.53v1.26h-4.53zM134.7 79.4h4.53v1.26h-4.53zM148.3 79.4h4.53v1.26h-4.53zM152.8 79.4h4.53v1.26h-4.53zM184.5 79.4h4.53v1.26h-4.53zM198.1 79.4h4.53v1.26h-4.53zM184.5 80.6h4.53v1.26h-4.53zM198.1 80.6h4.53v1.26h-4.53zM216.2 80.6h4.53v1.26h-4.53zM125.6 81.9h4.53v1.26h-4.53zM143.8 81.9h4.53v1.26h-4.53zM152.8 81.9h4.53v1.26h-4.53zM180.0 81.9h4.53v1.26h-4.53zM130.2 83.1h4.53v1.26h-4.53zM180.0 83.1h4.53v1.26h-4.53zM211.7 83.1h4.53v1.26h-4.53zM75.8 84.4h4.53v1.26h-4.53zM189.0 84.4h4.53v1.26h-4.53zM207.2 84.4h4.53v1.26h-4.53zM216.2 84.4h4.53v1.26h-4.53zM89.4 85.7h4.53v1.26h-4.53zM93.9 85.7h4.53v1.26h-4.53zM98.5 85.7h4.53v1.26h-4.53zM107.5 85.7h4.53v1.26h-4.53zM116.6 85.7h4.53v1.26h-4.53zM125.6 85.7h4.53v1.26h-4.53zM139.2 85.7h4.53v1.26h-4.53zM152.8 85.7h4.53v1.26h-4.53zM193.6 85.7h4.53v1.26h-4.53zM198.1 85.7h4.53v1.26h-4.53zM202.6 85.7h4.53v1.26h-4.53zM225.3 85.7h4.53v1.26h-4.53zM93.9 86.9h4.53v1.26h-4.53zM125.6 86.9h4.53v1.26h-4.53zM152.8 86.9h4.53v1.26h-4.53zM75.8 88.2h4.53v1.26h-4.53zM84.9 88.2h4.53v1.26h-4.53zM148.3 88.2h4.53v1.26h-4.53zM189.0 88.2h4.53v1.26h-4.53zM193.6 88.2h4.53v1.26h-4.53zM211.7 88.2h4.53v1.26h-4.53zM143.8 90.7h4.53v1.26h-4.53zM84.9 91.9h4.53v1.26h-4.53zM89.4 91.9h4.53v1.26h-4.53zM98.5 91.9h4.53v1.26h-4.53zM107.5 91.9h4.53v1.26h-4.53zM134.7 91.9h4.53v1.26h-4.53zM139.2 91.9h4.53v1.26h-4.53zM148.3 91.9h4.53v1.26h-4.53zM152.8 91.9h4.53v1.26h-4.53zM134.7 93.2h4.53v1.26h-4.53zM103.0 94.4h4.53v1.26h-4.53zM125.6 94.4h4.53v1.26h-4.53zM152.8 94.4h4.53v1.26h-4.53zM116.6 95.7h4.53v1.26h-4.53zM103.0 97.0h4.53v1.26h-4.53zM107.5 97.0h4.53v1.26h-4.53zM166.4 97.0h4.53v1.26h-4.53zM175.5 97.0h4.53v1.26h-4.53zM75.8 99.5h4.53v1.26h-4.53zM84.9 99.5h4.53v1.26h-4.53zM93.9 99.5h4.53v1.26h-4.53zM125.6 99.5h4.53v1.26h-4.53zM130.2 99.5h4.53v1.26h-4.53zM139.2 99.5h4.53v1.26h-4.53zM143.8 100.7h4.53v1.26h-4.53zM93.9 102.0h4.53v1.26h-4.53zM152.8 102.0h4.53v1.26h-4.53zM152.8 104.5h4.53v1.26h-4.53zM84.9 107.0h4.53v1.26h-4.53zM152.8 108.3h4.53v1.26h-4.53zM143.8 109.5h4.53v1.26h-4.53zM121.1 110.8h4.53v1.26h-4.53zM130.2 110.8h4.53v1.26h-4.53zM134.7 110.8h4.53v1.26h-4.53zM139.2 110.8h4.53v1.26h-4.53zM121.1 112.0h4.53v1.26h-4.53zM98.5 114.5h4.53v1.26h-4.53zM125.6 114.5h4.53v1.26h-4.53zM198.1 114.5h4.53v1.26h-4.53zM139.2 115.8h4.53v1.26h-4.53zM180.0 115.8h4.53v1.26h-4.53zM184.5 115.8h4.53v1.26h-4.53zM143.8 117.1h4.53v1.26h-4.53zM170.9 117.1h4.53v1.26h-4.53zM184.5 117.1h4.53v1.26h-4.53zM198.1 117.1h4.53v1.26h-4.53zM220.7 117.1h4.53v1.26h-4.53zM180.0 118.3h4.53v1.26h-4.53zM152.8 119.6h4.53v1.26h-4.53zM166.4 119.6h4.53v1.26h-4.53zM170.9 119.6h4.53v1.26h-4.53zM180.0 119.6h4.53v1.26h-4.53zM198.1 119.6h4.53v1.26h-4.53zM202.6 119.6h4.53v1.26h-4.53zM211.7 119.6h4.53v1.26h-4.53zM116.6 120.8h4.53v1.26h-4.53zM125.6 120.8h4.53v1.26h-4.53zM143.8 120.8h4.53v1.26h-4.53zM125.6 122.1h4.53v1.26h-4.53zM184.5 122.1h4.53v1.26h-4.53zM202.6 122.1h4.53v1.26h-4.53zM211.7 122.1h4.53v1.26h-4.53zM220.7 122.1h4.53v1.26h-4.53zM93.9 123.3h4.53v1.26h-4.53zM148.3 123.3h4.53v1.26h-4.53zM211.7 123.3h4.53v1.26h-4.53zM220.7 123.3h4.53v1.26h-4.53zM107.5 124.6h4.53v1.26h-4.53zM170.9 124.6h4.53v1.26h-4.53zM143.8 125.8h4.53v1.26h-4.53zM152.8 125.8h4.53v1.26h-4.53zM180.0 125.8h4.53v1.26h-4.53zM184.5 125.8h4.53v1.26h-4.53zM198.1 125.8h4.53v1.26h-4.53zM98.5 127.1h4.53v1.26h-4.53zM107.5 127.1h4.53v1.26h-4.53zM116.6 127.1h4.53v1.26h-4.53zM134.7 127.1h4.53v1.26h-4.53zM148.3 127.1h4.53v1.26h-4.53zM152.8 127.1h4.53v1.26h-4.53zM170.9 127.1h4.53v1.26h-4.53zM89.4 128.4h4.53v1.26h-4.53zM180.0 128.4h4.53v1.26h-4.53zM184.5 128.4h4.53v1.26h-4.53zM189.0 128.4h4.53v1.26h-4.53zM193.6 128.4h4.53v1.26h-4.53zM198.1 128.4h4.53v1.26h-4.53zM202.6 128.4h4.53v1.26h-4.53zM207.2 128.4h4.53v1.26h-4.53zM216.2 128.4h4.53v1.26h-4.53zM225.3 128.4h4.53v1.26h-4.53zM75.8 129.6h4.53v1.26h-4.53zM84.9 129.6h4.53v1.26h-4.53zM143.8 129.6h4.53v1.26h-4.53zM166.4 129.6h4.53v1.26h-4.53zM170.9 129.6h4.53v1.26h-4.53zM175.5 129.6h4.53v1.26h-4.53zM103.0 130.9h4.53v1.26h-4.53zM112.1 132.1h4.53v1.26h-4.53zM152.8 132.1h4.53v1.26h-4.53zM175.5 132.1h4.53v1.26h-4.53zM180.0 132.1h4.53v1.26h-4.53zM184.5 132.1h4.53v1.26h-4.53zM189.0 132.1h4.53v1.26h-4.53zM198.1 132.1h4.53v1.26h-4.53zM202.6 132.1h4.53v1.26h-4.53zM207.2 132.1h4.53v1.26h-4.53zM211.7 132.1h4.53v1.26h-4.53zM216.2 132.1h4.53v1.26h-4.53zM220.7 132.1h4.53v1.26h-4.53zM225.3 132.1h4.53v1.26h-4.53zM143.8 133.4h4.53v1.26h-4.53zM152.8 133.4h4.53v1.26h-4.53zM180.0 133.4h4.53v1.26h-4.53zM193.6 133.4h4.53v1.26h-4.53zM202.6 133.4h4.53v1.26h-4.53zM216.2 133.4h4.53v1.26h-4.53zM220.7 133.4h4.53v1.26h-4.53zM103.0 134.6h4.53v1.26h-4.53zM107.5 134.6h4.53v1.26h-4.53zM121.1 134.6h4.53v1.26h-4.53zM152.8 134.6h4.53v1.26h-4.53zM130.2 135.9h4.53v1.26h-4.53zM134.7 135.9h4.53v1.26h-4.53zM152.8 135.9h4.53v1.26h-4.53zM180.0 135.9h4.53v1.26h-4.53zM184.5 135.9h4.53v1.26h-4.53zM193.6 135.9h4.53v1.26h-4.53zM225.3 135.9h4.53v1.26h-4.53zM75.8 137.1h4.53v1.26h-4.53zM93.9 137.1h4.53v1.26h-4.53zM125.6 137.1h4.53v1.26h-4.53zM180.0 137.1h4.53v1.26h-4.53zM184.5 137.1h4.53v1.26h-4.53zM189.0 137.1h4.53v1.26h-4.53zM202.6 137.1h4.53v1.26h-4.53zM207.2 137.1h4.53v1.26h-4.53zM211.7 137.1h4.53v1.26h-4.53zM220.7 137.1h4.53v1.26h-4.53zM75.8 138.4h4.53v1.26h-4.53zM84.9 138.4h4.53v1.26h-4.53zM139.2 138.4h4.53v1.26h-4.53zM143.8 138.4h4.53v1.26h-4.53zM152.8 138.4h4.53v1.26h-4.53zM189.0 138.4h4.53v1.26h-4.53zM193.6 138.4h4.53v1.26h-4.53zM202.6 138.4h4.53v1.26h-4.53zM216.2 138.4h4.53v1.26h-4.53zM220.7 138.4h4.53v1.26h-4.53zM139.2 139.7h4.53v1.26h-4.53zM184.5 139.7h4.53v1.26h-4.53zM189.0 139.7h4.53v1.26h-4.53zM198.1 139.7h4.53v1.26h-4.53zM220.7 139.7h4.53v1.26h-4.53zM75.8 140.9h4.53v1.26h-4.53zM89.4 140.9h4.53v1.26h-4.53zM130.2 140.9h4.53v1.26h-4.53zM139.2 140.9h4.53v1.26h-4.53zM175.5 140.9h4.53v1.26h-4.53zM193.6 140.9h4.53v1.26h-4.53zM75.8 142.2h4.53v1.26h-4.53zM89.4 142.2h4.53v1.26h-4.53zM125.6 142.2h4.53v1.26h-4.53zM134.7 142.2h4.53v1.26h-4.53zM189.0 142.2h4.53v1.26h-4.53zM107.5 143.4h4.53v1.26h-4.53zM125.6 143.4h4.53v1.26h-4.53zM166.4 143.4h4.53v1.26h-4.53zM180.0 143.4h4.53v1.26h-4.53zM202.6 143.4h4.53v1.26h-4.53zM211.7 143.4h4.53v1.26h-4.53zM139.2 144.7h4.53v1.26h-4.53zM148.3 144.7h4.53v1.26h-4.53zM152.8 144.7h4.53v1.26h-4.53zM175.5 144.7h4.53v1.26h-4.53zM189.0 144.7h4.53v1.26h-4.53zM216.2 144.7h4.53v1.26h-4.53zM107.5 145.9h4.53v1.26h-4.53zM152.8 145.9h4.53v1.26h-4.53zM170.9 145.9h4.53v1.26h-4.53zM225.3 145.9h4.53v1.26h-4.53zM103.0 147.2h4.53v1.26h-4.53zM125.6 147.2h4.53v1.26h-4.53zM216.2 147.2h4.53v1.26h-4.53zM107.5 148.5h4.53v1.26h-4.53zM143.8 148.5h4.53v1.26h-4.53zM152.8 148.5h4.53v1.26h-4.53zM157.3 148.5h4.53v1.26h-4.53zM89.4 149.7h4.53v1.26h-4.53zM125.6 149.7h4.53v1.26h-4.53zM130.2 149.7h4.53v1.26h-4.53zM143.8 149.7h4.53v1.26h-4.53zM71.3 151.0h4.53v1.26h-4.53zM103.0 151.0h4.53v1.26h-4.53zM107.5 151.0h4.53v1.26h-4.53zM116.6 151.0h4.53v1.26h-4.53zM125.6 151.0h4.53v1.26h-4.53zM139.2 151.0h4.53v1.26h-4.53zM143.8 151.0h4.53v1.26h-4.53zM152.8 151.0h4.53v1.26h-4.53zM157.3 151.0h4.53v1.26h-4.53zM84.9 152.2h4.53v1.26h-4.53zM93.9 152.2h4.53v1.26h-4.53zM170.9 152.2h4.53v1.26h-4.53zM71.3 153.5h4.53v1.26h-4.53zM84.9 153.5h4.53v1.26h-4.53zM125.6 153.5h4.53v1.26h-4.53zM93.9 154.7h4.53v1.26h-4.53zM125.6 154.7h4.53v1.26h-4.53zM130.2 154.7h4.53v1.26h-4.53zM148.3 154.7h4.53v1.26h-4.53zM152.8 154.7h4.53v1.26h-4.53zM139.2 156.0h4.53v1.26h-4.53zM157.3 156.0h4.53v1.26h-4.53zM93.9 157.2h4.53v1.26h-4.53zM134.7 157.2h4.53v1.26h-4.53zM84.9 158.5h4.53v1.26h-4.53zM125.6 158.5h4.53v1.26h-4.53zM130.2 158.5h4.53v1.26h-4.53zM143.8 158.5h4.53v1.26h-4.53zM157.3 158.5h4.53v1.26h-4.53zM103.0 159.8h4.53v1.26h-4.53zM116.6 159.8h4.53v1.26h-4.53zM121.1 159.8h4.53v1.26h-4.53zM80.4 161.0h4.53v1.26h-4.53zM152.8 161.0h4.53v1.26h-4.53zM84.9 162.3h4.53v1.26h-4.53zM89.4 162.3h4.53v1.26h-4.53zM107.5 162.3h4.53v1.26h-4.53zM152.8 162.3h4.53v1.26h-4.53zM157.3 162.3h4.53v1.26h-4.53zM112.1 163.5h4.53v1.26h-4.53zM121.1 163.5h4.53v1.26h-4.53zM130.2 163.5h4.53v1.26h-4.53zM152.8 163.5h4.53v1.26h-4.53zM157.3 163.5h4.53v1.26h-4.53zM71.3 164.8h4.53v1.26h-4.53zM152.8 164.8h4.53v1.26h-4.53zM121.1 166.0h4.53v1.26h-4.53zM125.6 166.0h4.53v1.26h-4.53zM148.3 166.0h4.53v1.26h-4.53zM152.8 166.0h4.53v1.26h-4.53zM80.4 167.3h4.53v1.26h-4.53zM84.9 167.3h4.53v1.26h-4.53zM103.0 167.3h4.53v1.26h-4.53zM152.8 167.3h4.53v1.26h-4.53zM175.5 167.3h4.53v1.26h-4.53zM71.3 169.8h4.53v1.26h-4.53zM121.1 169.8h4.53v1.26h-4.53zM152.8 169.8h4.53v1.26h-4.53zM103.0 171.1h4.53v1.26h-4.53zM139.2 171.1h4.53v1.26h-4.53zM170.9 171.1h4.53v1.26h-4.53zM130.2 172.3h4.53v1.26h-4.53zM170.9 172.3h4.53v1.26h-4.53zM75.8 173.6h4.53v1.26h-4.53zM93.9 173.6h4.53v1.26h-4.53zM152.8 173.6h4.53v1.26h-4.53zM84.9 174.8h4.53v1.26h-4.53zM89.4 174.8h4.53v1.26h-4.53zM112.1 174.8h4.53v1.26h-4.53zM175.5 174.8h4.53v1.26h-4.53zM116.6 176.1h4.53v1.26h-4.53zM130.2 176.1h4.53v1.26h-4.53zM152.8 176.1h4.53v1.26h-4.53zM166.4 176.1h4.53v1.26h-4.53zM84.9 177.3h4.53v1.26h-4.53zM93.9 177.3h4.53v1.26h-4.53zM103.0 177.3h4.53v1.26h-4.53zM80.4 178.6h4.53v1.26h-4.53zM116.6 178.6h4.53v1.26h-4.53zM93.9 179.9h4.53v1.26h-4.53zM130.2 179.9h4.53v1.26h-4.53zM143.8 179.9h4.53v1.26h-4.53zM89.4 181.1h4.53v1.26h-4.53zM134.7 181.1h4.53v1.26h-4.53zM139.2 181.1h4.53v1.26h-4.53zM103.0 182.4h4.53v1.26h-4.53zM116.6 182.4h4.53v1.26h-4.53zM121.1 182.4h4.53v1.26h-4.53zM134.7 182.4h4.53v1.26h-4.53zM139.2 182.4h4.53v1.26h-4.53zM157.3 182.4h4.53v1.26h-4.53zM116.6 183.6h4.53v1.26h-4.53zM152.8 183.6h4.53v1.26h-4.53zM134.7 184.9h4.53v1.26h-4.53zM139.2 184.9h4.53v1.26h-4.53zM143.8 184.9h4.53v1.26h-4.53zM170.9 184.9h4.53v1.26h-4.53zM75.8 186.1h4.53v1.26h-4.53zM93.9 186.1h4.53v1.26h-4.53zM121.1 186.1h4.53v1.26h-4.53zM125.6 186.1h4.53v1.26h-4.53zM148.3 186.1h4.53v1.26h-4.53zM157.3 186.1h4.53v1.26h-4.53zM71.3 187.4h4.53v1.26h-4.53zM116.6 187.4h4.53v1.26h-4.53zM143.8 187.4h4.53v1.26h-4.53zM71.3 188.6h4.53v1.26h-4.53zM80.4 188.6h4.53v1.26h-4.53zM84.9 188.6h4.53v1.26h-4.53zM103.0 188.6h4.53v1.26h-4.53zM112.1 189.9h4.53v1.26h-4.53zM125.6 189.9h4.53v1.26h-4.53zM152.8 189.9h4.53v1.26h-4.53zM75.8 191.2h4.53v1.26h-4.53zM80.4 191.2h4.53v1.26h-4.53zM130.2 191.2h4.53v1.26h-4.53zM152.8 191.2h4.53v1.26h-4.53zM175.5 191.2h4.53v1.26h-4.53zM80.4 192.4h4.53v1.26h-4.53zM121.1 192.4h4.53v1.26h-4.53zM134.7 192.4h4.53v1.26h-4.53zM148.3 192.4h4.53v1.26h-4.53zM98.5 193.7h4.53v1.26h-4.53zM103.0 193.7h4.53v1.26h-4.53zM116.6 193.7h4.53v1.26h-4.53zM148.3 193.7h4.53v1.26h-4.53zM152.8 193.7h4.53v1.26h-4.53zM71.3 194.9h4.53v1.26h-4.53zM80.4 194.9h4.53v1.26h-4.53zM125.6 194.9h4.53v1.26h-4.53zM130.2 194.9h4.53v1.26h-4.53zM89.4 197.4h4.53v1.26h-4.53zM103.0 197.4h4.53v1.26h-4.53zM116.6 197.4h4.53v1.26h-4.53zM75.8 198.7h4.53v1.26h-4.53zM121.1 198.7h4.53v1.26h-4.53zM98.5 199.9h4.53v1.26h-4.53zM152.8 199.9h4.53v1.26h-4.53zM130.2 201.2h4.53v1.26h-4.53zM152.8 201.2h4.53v1.26h-4.53zM175.5 201.2h4.53v1.26h-4.53zM180.0 202.5h4.53v1.26h-4.53zM89.4 203.7h4.53v1.26h-4.53zM148.3 203.7h4.53v1.26h-4.53zM84.9 205.0h4.53v1.26h-4.53zM125.6 205.0h4.53v1.26h-4.53zM134.7 205.0h4.53v1.26h-4.53zM157.3 206.2h4.53v1.26h-4.53zM89.4 207.5h4.53v1.26h-4.53zM93.9 207.5h4.53v1.26h-4.53zM121.1 207.5h4.53v1.26h-4.53zM157.3 207.5h4.53v1.26h-4.53zM170.9 207.5h4.53v1.26h-4.53zM71.3 208.7h4.53v1.26h-4.53zM89.4 208.7h4.53v1.26h-4.53zM116.6 208.7h4.53v1.26h-4.53zM125.6 208.7h4.53v1.26h-4.53zM130.2 208.7h4.53v1.26h-4.53zM134.7 208.7h4.53v1.26h-4.53zM143.8 210.0h4.53v1.26h-4.53zM152.8 210.0h4.53v1.26h-4.53zM148.3 211.3h4.53v1.26h-4.53zM84.9 212.5h4.53v1.26h-4.53zM103.0 212.5h4.53v1.26h-4.53zM143.8 212.5h4.53v1.26h-4.53zM84.9 213.8h4.53v1.26h-4.53zM121.1 213.8h4.53v1.26h-4.53zM157.3 213.8h4.53v1.26h-4.53zM175.5 213.8h4.53v1.26h-4.53zM71.3 215.0h4.53v1.26h-4.53zM93.9 215.0h4.53v1.26h-4.53zM139.2 215.0h4.53v1.26h-4.53zM152.8 215.0h4.53v1.26h-4.53zM157.3 215.0h4.53v1.26h-4.53zM170.9 215.0h4.53v1.26h-4.53zM71.3 216.3h4.53v1.26h-4.53zM134.7 216.3h4.53v1.26h-4.53zM152.8 216.3h4.53v1.26h-4.53zM98.5 217.5h4.53v1.26h-4.53zM103.0 217.5h4.53v1.26h-4.53zM71.3 218.8h4.53v1.26h-4.53zM103.0 218.8h4.53v1.26h-4.53zM116.6 218.8h4.53v1.26h-4.53zM121.1 218.8h4.53v1.26h-4.53zM152.8 218.8h4.53v1.26h-4.53zM166.4 218.8h4.53v1.26h-4.53zM143.8 220.0h4.53v1.26h-4.53z"/>
<path fill="#00aa00" d="M93.9 32.9h4.53v1.26h-4.53zM84.9 35.4h4.53v1.26h-4.53zM175.5 35.4h4.53v1.26h-4.53zM98.5 40.4h4.53v1.26h-4.53zM198.1 42.9h4.53v1.26h-4.53zM225.3 42.9h4.53v1.26h-4.53zM184.5 44.2h4.53v1.26h-4.53zM193.6 44.2h4.53v1.26h-4.53zM112.1 45.5h4.53v1.26h-4.53zM80.4 51.7h4.53v1.26h-4.53zM103.0 51.7h4.53v1.26h-4.53zM116.6 51.7h4.53v1.26h-4.53zM121.1 51.7h4.53v1.26h-4.53zM189.0 51.7h4.53v1.26h-4.53zM107.5 53.0h4.53v1.26h-4.53zM180.0 53.0h4.53v1.26h-4.53zM193.6 53.0h4.53v1.26h-4.53zM193.6 55.5h4.53v1.26h-4.53zM121.1 56.8h4.53v1.26h-4.53zM220.7 58.0h4.53v1.26h-4.53zM112.1 61.8h4.53v1.26h-4.53zM134.7 63.0h4.53v1.26h-4.53zM139.2 63.0h4.53v1.26h-4.53zM207.2 64.3h4.53v1.26h-4.53zM225.3 64.3h4.53v1.26h-4.53zM84.9 65.6h4.53v1.26h-4.53zM175.5 65.6h4.53v1.26h-4.53zM184.5 65.6h4.53v1.26h-4.53zM98.5 66.8h4.53v1.26h-4.53zM112.1 66.8h4.53v1.26h-4.53zM180.0 66.8h4.53v1.26h-4.53zM89.4 69.3h4.53v1.26h-4.53zM125.6 70.6h4.53v1.26h-4.53zM198.1 70.6h4.53v1.26h-4.53zM121.1 71.8h4.53v1.26h-4.53zM121.1 73.1h4.53v1.26h-4.53zM216.2 74.3h4.53v1.26h-4.53zM103.0 75.6h4.53v1.26h-4.53zM216.2 76.9h4.53v1.26h-4.53zM170.9 78.1h4.53v1.26h-4.53zM80.4 79.4h4.53v1.26h-4.53zM116.6 79.4h4.53v1.26h-4.53zM193.6 79.4h4.53v1.26h-4.53zM103.0 80.6h4.53v1.26h-4.53zM121.1 83.1h4.53v1.26h-4.53zM189.0 83.1h4.53v1.26h-4.53zM80.4 84.4h4.53v1.26h-4.53zM134.7 84.4h4.53v1.26h-4.53zM143.8 84.4h4.53v1.26h-4.53zM80.4 85.7h4.53v1.26h-4.53zM148.3 85.7h4.53v1.26h-4.53zM166.4 85.7h4.53v1.26h-4.53zM170.9 85.7h4.53v1.26h-4.53zM211.7 85.7h4.53v1.26h-4.53zM180.0 86.9h4.53v1.26h-4.53zM202.6 86.9h4.53v1.26h-4.53zM211.7 86.9h4.53v1.26h-4.53zM125.6 88.2h4.53v1.26h-4.53zM139.2 88.2h4.53v1.26h-4.53zM134.7 89.4h4.53v1.26h-4.53zM193.6 91.9h4.53v1.26h-4.53zM84.9 93.2h4.53v1.26h-4.53zM202.6 93.2h4.53v1.26h-4.53zM89.4 94.4h4.53v1.26h-4.53zM180.0 95.7h4.53v1.26h-4.53zM225.3 95.7h4.53v1.26h-4.53zM84.9 97.0h4.53v1.26h-4.53zM198.1 97.0h4.53v1.26h-4.53zM80.4 98.2h4.53v1.26h-4.53zM193.6 98.2h4.53v1.26h-4.53zM202.6 98.2h4.53v1.26h-4.53zM207.2 98.2h4.53v1.26h-4.53zM216.2 98.2h4.53v1.26h-4.53zM80.4 99.5h4.53v1.26h-4.53zM134.7 99.5h4.53v1.26h-4.53zM193.6 99.5h4.53v1.26h-4.53zM216.2 99.5h4.53v1.26h-4.53zM84.9 102.0h4.53v1.26h-4.53zM184.5 102.0h4.53v1.26h-4.53zM220.7 102.0h4.53v1.26h-4.53zM89.4 103.2h4.53v1.26h-4.53zM198.1 103.2h4.53v1.26h-4.53zM121.1 104.5h4.53v1.26h-4.53zM189.0 104.5h4.53v1.26h-4.53zM211.7 104.5h4.53v1.26h-4.53zM180.0 105.7h4.53v1.26h-4.53zM211.7 105.7h4.53v1.26h-4.53zM93.9 108.3h4.53v1.26h-4.53zM143.8 108.3h4.53v1.26h-4.53zM148.3 110.8h4.53v1.26h-4.53zM152.8 110.8h4.53v1.26h-4.53zM184.5 110.8h4.53v1.26h-4.53zM198.1 112.0h4.53v1.26h-4.53zM207.2 112.0h4.53v1.26h-4.53zM103.0 113.3h4.53v1.26h-4.53zM130.2 113.3h4.53v1.26h-4.53zM80.4 114.5h4.53v1.26h-4.53zM130.2 114.5h4.53v1.26h-4.53zM116.6 115.8h4.53v1.26h-4.53zM139.2 117.1h4.53v1.26h-4.53zM148.3 117.1h4.53v1.26h-4.53zM189.0 117.1h4.53v1.26h-4.53zM216.2 117.1h4.53v1.26h-4.53zM107.5 118.3h4.53v1.26h-4.53zM220.7 118.3h4.53v1.26h-4.53zM71.3 119.6h4.53v1.26h-4.53zM184.5 119.6h4.53v1.26h-4.53zM189.0 119.6h4.53v1.26h-4.53zM89.4 120.8h4.53v1.26h-4.53zM189.0 120.8h4.53v1.26h-4.53zM189.0 122.1h4.53v1.26h-4.53zM225.3 122.1h4.53v1.26h-4.53zM161.9 123.3h4.53v1.26h-4.53zM184.5 123.3h4.53v1.26h-4.53zM193.6 123.3h4.53v1.26h-4.53zM71.3 124.6h4.53v1.26h-4.53zM80.4 127.1h4.53v1.26h-4.53zM130.2 127.1h4.53v1.26h-4.53zM211.7 127.1h4.53v1.26h-4.53zM98.5 132.1h4.53v1.26h-4.53zM125.6 132.1h4.53v1.26h-4.53zM148.3 132.1h4.53v1.26h-4.53zM80.4 133.4h4.53v1.26h-4.53zM103.0 133.4h4.53v1.26h-4.53zM130.2 133.4h4.53v1.26h-4.53zM134.7 134.6h4.53v1.26h-4.53zM143.8 134.6h4.53v1.26h-4.53zM80.4 135.9h4.53v1.26h-4.53zM93.9 135.9h4.53v1.26h-4.53zM180.0 138.4h4.53v1.26h-4.53zM211.7 138.4h4.53v1.26h-4.53zM225.3 138.4h4.53v1.26h-4.53zM80.4 139.7h4.53v1.26h-4.53zM193.6 139.7h4.53v1.26h-4.53zM107.5 140.9h4.53v1.26h-4.53zM161.9 140.9h4.53v1.26h-4.53zM193.6 142.2h4.53v1.26h-4.53zM225.3 142.2h4.53v1.26h-4.53zM121.1 143.4h4.53v1.26h-4.53zM175.5 143.4h4.53v1.26h-4.53zM198.1 143.4h4.53v1.26h-4.53zM216.2 143.4h4.53v1.26h-4.53zM184.5 144.7h4.53v1.26h-4.53zM202.6 144.7h4.53v1.26h-4.53zM211.7 147.2h4.53v1.26h-4.53zM148.3 148.5h4.53v1.26h-4.53zM148.3 151.0h4.53v1.26h-4.53zM121.1 152.2h4.53v1.26h-4.53zM180.0 152.2h4.53v1.26h-4.53zM225.3 152.2h4.53v1.26h-4.53zM103.0 154.7h4.53v1.26h-4.53zM130.2 156.0h4.53v1.26h-4.53zM130.2 157.2h4.53v1.26h-4.53zM166.4 157.2h4.53v1.26h-4.53zM170.9 158.5h4.53v1.26h-4.53zM130.2 161.0h4.53v1.26h-4.53zM143.8 161.0h4.53v1.26h-4.53zM157.3 161.0h4.53v1.26h-4.53zM198.1 161.0h4.53v1.26h-4.53zM80.4 163.5h4.53v1.26h-4.53zM93.9 163.5h4.53v1.26h-4.53zM71.3 167.3h4.53v1.26h-4.53zM93.9 167.3h4.53v1.26h-4.53zM143.8 167.3h4.53v1.26h-4.53zM107.5 168.5h4.53v1.26h-4.53zM130.2 168.5h4.53v1.26h-4.53zM93.9 169.8h4.53v1.26h-4.53zM125.6 172.3h4.53v1.26h-4.53zM71.3 173.6h4.53v1.26h-4.53zM84.9 173.6h4.53v1.26h-4.53zM143.8 173.6h4.53v1.26h-4.53zM89.4 176.1h4.53v1.26h-4.53zM139.2 176.1h4.53v1.26h-4.53zM112.1 177.3h4.53v1.26h-4.53zM130.2 177.3h4.53v1.26h-4.53zM134.7 177.3h4.53v1.26h-4.53zM175.5 178.6h4.53v1.26h-4.53zM75.8 179.9h4.53v1.26h-4.53zM107.5 184.9h4.53v1.26h-4.53zM116.6 184.9h4.53v1.26h-4.53zM130.2 184.9h4.53v1.26h-4.53zM130.2 186.1h4.53v1.26h-4.53zM75.8 187.4h4.53v1.26h-4.53zM98.5 187.4h4.53v1.26h-4.53zM125.6 188.6h4.53v1.26h-4.53zM84.9 193.7h4.53v1.26h-4.53zM166.4 193.7h4.53v1.26h-4.53zM121.1 194.9h4.53v1.26h-4.53zM170.9 194.9h4.53v1.26h-4.53zM71.3 196.2h4.53v1.26h-4.53zM80.4 196.2h4.53v1.26h-4.53zM152.8 196.2h4.53v1.26h-4.53zM207.2 196.2h4.53v1.26h-4.53zM71.3 197.4h4.53v1.26h-4.53zM107.5 198.7h4.53v1.26h-4.53zM134.7 198.7h4.53v1.26h-4.53zM121.1 199.9h4.53v1.26h-4.53zM139.2 199.9h4.53v1.26h-4.53zM93.9 201.2h4.53v1.26h-4.53zM152.8 202.5h4.53v1.26h-4.53zM116.6 203.7h4.53v1.26h-4.53zM89.4 205.0h4.53v1.26h-4.53zM152.8 205.0h4.53v1.26h-4.53zM166.4 206.2h4.53v1.26h-4.53zM84.9 207.5h4.53v1.26h-4.53zM93.9 212.5h4.53v1.26h-4.53zM98.5 215.0h4.53v1.26h-4.53zM139.2 218.8h4.53v1.26h-4.53zM175.5 218.8h4.53v1.26h-4.53z"/>
<path fill="#009900" d="M98.5 32.9h4.53v1.26h-4.53zM112.1 32.9h4.53v1.26h-4.53zM116.6 32.9h4.53v1.26h-4.53zM134.7 32.9h4.53v1.26h-4.53zM116.6 34.2h4.53v1.26h-4.53zM112.1 36.7h4.53v1.26h-4.53zM134.7 39.2h4.53v1.26h-4.53zM98.5 41.7h4.53v1.26h-4.53zM125.6 41.7h4.53v1.26h-4.53zM193.6 42.9h4.53v1.26h-4.53zM207.2 44.2h4.53v1.26h-4.53zM211.7 45.5h4.53v1.26h-4.53zM116.6 46.7h4.53v1.26h-4.53zM134.7 46.7h4.53v1.26h-4.53zM166.4 46.7h4.53v1.26h-4.53zM84.9 48.0h4.53v1.26h-4.53zM170.9 48.0h4.53v1.26h-4.53zM202.6 48.0h4.53v1.26h-4.53zM211.7 50.5h4.53v1.26h-4.53zM93.9 51.7h4.53v1.26h-4.53zM130.2 51.7h4.53v1.26h-4.53zM148.3 51.7h4.53v1.26h-4.53zM207.2 51.7h4.53v1.26h-4.53zM89.4 53.0h4.53v1.26h-4.53zM161.9 53.0h4.53v1.26h-4.53zM184.5 53.0h4.53v1.26h-4.53zM225.3 53.0h4.53v1.26h-4.53zM80.4 56.8h4.53v1.26h-4.53zM75.8 58.0h4.53v1.26h-4.53zM80.4 58.0h4.53v1.26h-4.53zM225.3 58.0h4.53v1.26h-4.53zM121.1 61.8h4.53v1.26h-4.53zM180.0 61.8h4.53v1.26h-4.53zM89.4 65.6h4.53v1.26h-4.53zM130.2 65.6h4.53v1.26h-4.53zM161.9 65.6h4.53v1.26h-4.53zM170.9 65.6h4.53v1.26h-4.53zM180.0 65.6h4.53v1.26h-4.53zM207.2 65.6h4.53v1.26h-4.53zM198.1 66.8h4.53v1.26h-4.53zM103.0 68.1h4.53v1.26h-4.53zM112.1 68.1h4.53v1.26h-4.53zM152.8 68.1h4.53v1.26h-4.53zM170.9 68.1h4.53v1.26h-4.53zM207.2 68.1h4.53v1.26h-4.53zM107.5 70.6h4.53v1.26h-4.53zM180.0 70.6h4.53v1.26h-4.53zM202.6 71.8h4.53v1.26h-4.53zM143.8 73.1h4.53v1.26h-4.53zM220.7 74.3h4.53v1.26h-4.53zM143.8 75.6h4.53v1.26h-4.53zM103.0 76.9h4.53v1.26h-4.53zM139.2 76.9h4.53v1.26h-4.53zM107.5 78.1h4.53v1.26h-4.53zM121.1 79.4h4.53v1.26h-4.53zM207.2 79.4h4.53v1.26h-4.53zM225.3 79.4h4.53v1.26h-4.53zM84.9 81.9h4.53v1.26h-4.53zM202.6 81.9h4.53v1.26h-4.53zM207.2 81.9h4.53v1.26h-4.53zM220.7 84.4h4.53v1.26h-4.53zM89.4 86.9h4.53v1.26h-4.53zM220.7 86.9h4.53v1.26h-4.53zM71.3 88.2h4.53v1.26h-4.53zM89.4 88.2h4.53v1.26h-4.53zM80.4 89.4h4.53v1.26h-4.53zM184.5 89.4h4.53v1.26h-4.53zM130.2 90.7h4.53v1.26h-4.53zM225.3 90.7h4.53v1.26h-4.53zM80.4 91.9h4.53v1.26h-4.53zM161.9 91.9h4.53v1.26h-4.53zM220.7 91.9h4.53v1.26h-4.53zM225.3 91.9h4.53v1.26h-4.53zM89.4 93.2h4.53v1.26h-4.53zM180.0 93.2h4.53v1.26h-4.53zM134.7 94.4h4.53v1.26h-4.53zM170.9 95.7h4.53v1.26h-4.53zM148.3 97.0h4.53v1.26h-4.53zM220.7 98.2h4.53v1.26h-4.53zM175.5 99.5h4.53v1.26h-4.53zM189.0 99.5h4.53v1.26h-4.53zM207.2 99.5h4.53v1.26h-4.53zM211.7 99.5h4.53v1.26h-4.53zM80.4 102.0h4.53v1.26h-4.53zM189.0 102.0h4.53v1.26h-4.53zM198.1 102.0h4.53v1.26h-4.53zM225.3 102.0h4.53v1.26h-4.53zM193.6 103.2h4.53v1.26h-4.53zM207.2 103.2h4.53v1.26h-4.53zM143.8 104.5h4.53v1.26h-4.53zM207.2 104.5h4.53v1.26h-4.53zM152.8 105.7h4.53v1.26h-4.53zM189.0 105.7h4.53v1.26h-4.53zM198.1 105.7h4.53v1.26h-4.53zM202.6 105.7h4.53v1.26h-4.53zM116.6 108.3h4.53v1.26h-4.53zM170.9 108.3h4.53v1.26h-4.53zM216.2 109.5h4.53v1.26h-4.53zM107.5 110.8h4.53v1.26h-4.53zM202.6 112.0h4.53v1.26h-4.53zM166.4 113.3h4.53v1.26h-4.53zM103.0 114.5h4.53v1.26h-4.53zM189.0 114.5h4.53v1.26h-4.53zM125.6 115.8h4.53v1.26h-4.53zM202.6 115.8h4.53v1.26h-4.53zM220.7 115.8h4.53v1.26h-4.53zM84.9 117.1h4.53v1.26h-4.53zM152.8 117.1h4.53v1.26h-4.53zM166.4 117.1h4.53v1.26h-4.53zM189.0 118.3h4.53v1.26h-4.53zM207.2 118.3h4.53v1.26h-4.53zM225.3 118.3h4.53v1.26h-4.53zM75.8 119.6h4.53v1.26h-4.53zM112.1 119.6h4.53v1.26h-4.53zM161.9 120.8h4.53v1.26h-4.53zM180.0 120.8h4.53v1.26h-4.53zM216.2 122.1h4.53v1.26h-4.53zM166.4 123.3h4.53v1.26h-4.53zM193.6 125.8h4.53v1.26h-4.53zM202.6 125.8h4.53v1.26h-4.53zM93.9 127.1h4.53v1.26h-4.53zM98.5 128.4h4.53v1.26h-4.53zM107.5 128.4h4.53v1.26h-4.53zM80.4 129.6h4.53v1.26h-4.53zM103.0 129.6h4.53v1.26h-4.53zM139.2 129.6h4.53v1.26h-4.53zM211.7 130.9h4.53v1.26h-4.53zM184.5 133.4h4.53v1.26h-4.53zM198.1 133.4h4.53v1.26h-4.53zM216.2 134.6h4.53v1.26h-4.53zM211.7 135.9h4.53v1.26h-4.53zM71.3 137.1h4.53v1.26h-4.53zM130.2 138.4h4.53v1.26h-4.53zM184.5 138.4h4.53v1.26h-4.53zM211.7 139.7h4.53v1.26h-4.53zM220.7 140.9h4.53v1.26h-4.53zM71.3 142.2h4.53v1.26h-4.53zM103.0 142.2h4.53v1.26h-4.53zM166.4 142.2h4.53v1.26h-4.53zM80.4 144.7h4.53v1.26h-4.53zM93.9 144.7h4.53v1.26h-4.53zM98.5 144.7h4.53v1.26h-4.53zM180.0 144.7h4.53v1.26h-4.53zM193.6 144.7h4.53v1.26h-4.53zM207.2 144.7h4.53v1.26h-4.53zM89.4 145.9h4.53v1.26h-4.53zM134.7 145.9h4.53v1.26h-4.53zM89.4 147.2h4.53v1.26h-4.53zM112.1 147.2h4.53v1.26h-4.53zM121.1 147.2h4.53v1.26h-4.53zM180.0 147.2h4.53v1.26h-4.53zM80.4 148.5h4.53v1.26h-4.53zM98.5 148.5h4.53v1.26h-4.53zM121.1 148.5h4.53v1.26h-4.53zM130.2 148.5h4.53v1.26h-4.53zM71.3 149.7h4.53v1.26h-4.53zM175.5 149.7h4.53v1.26h-4.53zM211.7 151.0h4.53v1.26h-4.53zM71.3 152.2h4.53v1.26h-4.53zM134.7 153.5h4.53v1.26h-4.53zM139.2 153.5h4.53v1.26h-4.53zM148.3 153.5h4.53v1.26h-4.53zM75.8 156.0h4.53v1.26h-4.53zM112.1 156.0h4.53v1.26h-4.53zM170.9 157.2h4.53v1.26h-4.53zM139.2 158.5h4.53v1.26h-4.53zM107.5 159.8h4.53v1.26h-4.53zM103.0 162.3h4.53v1.26h-4.53zM116.6 162.3h4.53v1.26h-4.53zM143.8 162.3h4.53v1.26h-4.53zM71.3 163.5h4.53v1.26h-4.53zM116.6 163.5h4.53v1.26h-4.53zM116.6 167.3h4.53v1.26h-4.53zM84.9 169.8h4.53v1.26h-4.53zM116.6 169.8h4.53v1.26h-4.53zM161.9 169.8h4.53v1.26h-4.53zM175.5 169.8h4.53v1.26h-4.53zM107.5 171.1h4.53v1.26h-4.53zM80.4 172.3h4.53v1.26h-4.53zM112.1 173.6h4.53v1.26h-4.53zM98.5 174.8h4.53v1.26h-4.53zM93.9 176.1h4.53v1.26h-4.53zM71.3 178.6h4.53v1.26h-4.53zM107.5 179.9h4.53v1.26h-4.53zM116.6 179.9h4.53v1.26h-4.53zM75.8 181.1h4.53v1.26h-4.53zM112.1 181.1h4.53v1.26h-4.53zM143.8 181.1h4.53v1.26h-4.53zM175.5 181.1h4.53v1.26h-4.53zM180.0 181.1h4.53v1.26h-4.53zM75.8 183.6h4.53v1.26h-4.53zM161.9 184.9h4.53v1.26h-4.53zM143.8 186.1h4.53v1.26h-4.53zM125.6 187.4h4.53v1.26h-4.53zM93.9 188.6h4.53v1.26h-4.53zM157.3 188.6h4.53v1.26h-4.53zM170.9 188.6h4.53v1.26h-4.53zM71.3 189.9h4.53v1.26h-4.53zM98.5 189.9h4.53v1.26h-4.53zM121.1 189.9h4.53v1.26h-4.53zM116.6 192.4h4.53v1.26h-4.53zM161.9 192.4h4.53v1.26h-4.53zM80.4 193.7h4.53v1.26h-4.53zM98.5 194.9h4.53v1.26h-4.53zM139.2 194.9h4.53v1.26h-4.53zM152.8 194.9h4.53v1.26h-4.53zM112.1 196.2h4.53v1.26h-4.53zM134.7 197.4h4.53v1.26h-4.53zM148.3 198.7h4.53v1.26h-4.53zM125.6 201.2h4.53v1.26h-4.53zM157.3 201.2h4.53v1.26h-4.53zM170.9 201.2h4.53v1.26h-4.53zM125.6 203.7h4.53v1.26h-4.53zM71.3 205.0h4.53v1.26h-4.53zM175.5 206.2h4.53v1.26h-4.53zM112.1 207.5h4.53v1.26h-4.53zM103.0 210.0h4.53v1.26h-4.53zM75.8 211.3h4.53v1.26h-4.53zM152.8 211.3h4.53v1.26h-4.53zM116.6 212.5h4.53v1.26h-4.53zM216.2 213.8h4.53v1.26h-4.53zM157.3 216.3h4.53v1.26h-4.53zM107.5 217.5h4.53v1.26h-4.53z"/>
<path fill="#00dd00" d="M103.0 32.9h4.53v1.26h-4.53zM161.9 34.2h4.53v1.26h-4.53zM75.8 39.2h4.53v1.26h-4.53zM125.6 40.4h4.53v1.26h-4.53zM148.3 41.7h4.53v1.26h-4.53zM166.4 41.7h4.53v1.26h-4.53zM139.2 42.9h4.53v1.26h-4.53zM189.0 42.9h4.53v1.26h-4.53zM180.0 44.2h4.53v1.26h-4.53zM216.2 44.2h4.53v1.26h-4.53zM220.7 44.2h4.53v1.26h-4.53zM225.3 44.2h4.53v1.26h-4.53zM130.2 45.5h4.53v1.26h-4.53zM166.4 49.2h4.53v1.26h-4.53zM211.7 49.2h4.53v1.26h-4.53zM220.7 49.2h4.53v1.26h-4.53zM189.0 50.5h4.53v1.26h-4.53zM143.8 51.7h4.53v1.26h-4.53zM193.6 51.7h4.53v1.26h-4.53zM216.2 51.7h4.53v1.26h-4.53zM93.9 53.0h4.53v1.26h-4.53zM121.1 54.3h4.53v1.26h-4.53zM139.2 56.8h4.53v1.26h-4.53zM152.8 56.8h4.53v1.26h-4.53zM125.6 58.0h4.53v1.26h-4.53zM148.3 58.0h4.53v1.26h-4.53zM198.1 58.0h4.53v1.26h-4.53zM170.9 59.3h4.53v1.26h-4.53zM180.0 59.3h4.53v1.26h-4.53zM211.7 59.3h4.53v1.26h-4.53zM216.2 59.3h4.53v1.26h-4.53zM220.7 59.3h4.53v1.26h-4.53zM225.3 59.3h4.53v1.26h-4.53zM225.3 60.5h4.53v1.26h-4.53zM134.7 61.8h4.53v1.26h-4.53zM198.1 63.0h4.53v1.26h-4.53zM198.1 65.6h4.53v1.26h-4.53zM207.2 66.8h4.53v1.26h-4.53zM143.8 68.1h4.53v1.26h-4.53zM180.0 68.1h4.53v1.26h-4.53zM220.7 68.1h4.53v1.26h-4.53zM84.9 69.3h4.53v1.26h-4.53zM103.0 69.3h4.53v1.26h-4.53zM193.6 69.3h4.53v1.26h-4.53zM130.2 70.6h4.53v1.26h-4.53zM139.2 71.8h4.53v1.26h-4.53zM103.0 73.1h4.53v1.26h-4.53zM152.8 73.1h4.53v1.26h-4.53zM193.6 74.3h4.53v1.26h-4.53zM211.7 74.3h4.53v1.26h-4.53zM139.2 75.6h4.53v1.26h-4.53zM170.9 75.6h4.53v1.26h-4.53zM180.0 78.1h4.53v1.26h-4.53zM93.9 80.6h4.53v1.26h-4.53zM116.6 80.6h4.53v1.26h-4.53zM130.2 80.6h4.53v1.26h-4.53zM121.1 81.9h4.53v1.26h-4.53zM166.4 84.4h4.53v1.26h-4.53zM170.9 84.4h4.53v1.26h-4.53zM84.9 85.7h4.53v1.26h-4.53zM220.7 88.2h4.53v1.26h-4.53zM89.4 89.4h4.53v1.26h-4.53zM130.2 89.4h4.53v1.26h-4.53zM75.8 91.9h4.53v1.26h-4.53zM93.9 91.9h4.53v1.26h-4.53zM121.1 102.0h4.53v1.26h-4.53zM125.6 102.0h4.53v1.26h-4.53zM89.4 105.7h4.53v1.26h-4.53zM134.7 107.0h4.53v1.26h-4.53zM189.0 115.8h4.53v1.26h-4.53zM211.7 115.8h4.53v1.26h-4.53zM225.3 115.8h4.53v1.26h-4.53zM180.0 117.1h4.53v1.26h-4.53zM202.6 117.1h4.53v1.26h-4.53zM134.7 118.3h4.53v1.26h-4.53zM216.2 119.6h4.53v1.26h-4.53zM220.7 119.6h4.53v1.26h-4.53zM84.9 120.8h4.53v1.26h-4.53zM152.8 120.8h4.53v1.26h-4.53zM193.6 122.1h4.53v1.26h-4.53zM152.8 123.3h4.53v1.26h-4.53zM198.1 123.3h4.53v1.26h-4.53zM93.9 124.6h4.53v1.26h-4.53zM143.8 124.6h4.53v1.26h-4.53zM152.8 124.6h4.53v1.26h-4.53zM189.0 125.8h4.53v1.26h-4.53zM207.2 125.8h4.53v1.26h-4.53zM216.2 125.8h4.53v1.26h-4.53zM189.0 127.1h4.53v1.26h-4.53zM75.8 128.4h4.53v1.26h-4.53zM93.9 128.4h4.53v1.26h-4.53zM211.7 128.4h4.53v1.26h-4.53zM220.7 128.4h4.53v1.26h-4.53zM184.5 129.6h4.53v1.26h-4.53zM84.9 130.9h4.53v1.26h-4.53zM198.1 130.9h4.53v1.26h-4.53zM202.6 130.9h4.53v1.26h-4.53zM93.9 132.1h4.53v1.26h-4.53zM139.2 132.1h4.53v1.26h-4.53zM189.0 133.4h4.53v1.26h-4.53zM207.2 133.4h4.53v1.26h-4.53zM89.4 134.6h4.53v1.26h-4.53zM143.8 135.9h4.53v1.26h-4.53zM189.0 135.9h4.53v1.26h-4.53zM139.2 137.1h4.53v1.26h-4.53zM193.6 137.1h4.53v1.26h-4.53zM216.2 137.1h4.53v1.26h-4.53zM152.8 139.7h4.53v1.26h-4.53zM207.2 139.7h4.53v1.26h-4.53zM93.9 140.9h4.53v1.26h-4.53zM112.1 140.9h4.53v1.26h-4.53zM139.2 142.2h4.53v1.26h-4.53zM211.7 142.2h4.53v1.26h-4.53zM75.8 143.4h4.53v1.26h-4.53zM184.5 143.4h4.53v1.26h-4.53zM207.2 143.4h4.53v1.26h-4.53zM143.8 144.7h4.53v1.26h-4.53zM116.6 145.9h4.53v1.26h-4.53zM180.0 145.9h4.53v1.26h-4.53zM148.3 147.2h4.53v1.26h-4.53zM184.5 147.2h4.53v1.26h-4.53zM189.0 147.2h4.53v1.26h-4.53zM71.3 148.5h4.53v1.26h-4.53zM93.9 148.5h4.53v1.26h-4.53zM98.5 149.7h4.53v1.26h-4.53zM98.5 151.0h4.53v1.26h-4.53zM157.3 152.2h4.53v1.26h-4.53zM98.5 153.5h4.53v1.26h-4.53zM121.1 153.5h4.53v1.26h-4.53zM71.3 156.0h4.53v1.26h-4.53zM134.7 156.0h4.53v1.26h-4.53zM148.3 156.0h4.53v1.26h-4.53zM143.8 157.2h4.53v1.26h-4.53zM71.3 158.5h4.53v1.26h-4.53zM93.9 158.5h4.53v1.26h-4.53zM121.1 158.5h4.53v1.26h-4.53zM189.0 158.5h4.53v1.26h-4.53zM75.8 159.8h4.53v1.26h-4.53zM84.9 159.8h4.53v1.26h-4.53zM98.5 159.8h4.53v1.26h-4.53zM175.5 162.3h4.53v1.26h-4.53zM143.8 163.5h4.53v1.26h-4.53zM139.2 168.5h4.53v1.26h-4.53zM80.4 173.6h4.53v1.26h-4.53zM134.7 173.6h4.53v1.26h-4.53zM139.2 173.6h4.53v1.26h-4.53zM71.3 174.8h4.53v1.26h-4.53zM148.3 174.8h4.53v1.26h-4.53zM71.3 176.1h4.53v1.26h-4.53zM98.5 177.3h4.53v1.26h-4.53zM143.8 178.6h4.53v1.26h-4.53zM170.9 181.1h4.53v1.26h-4.53zM125.6 182.4h4.53v1.26h-4.53zM152.8 182.4h4.53v1.26h-4.53zM121.1 184.9h4.53v1.26h-4.53zM89.4 187.4h4.53v1.26h-4.53zM116.6 188.6h4.53v1.26h-4.53zM130.2 188.6h4.53v1.26h-4.53zM148.3 188.6h4.53v1.26h-4.53zM84.9 191.2h4.53v1.26h-4.53zM157.3 191.2h4.53v1.26h-4.53zM143.8 192.4h4.53v1.26h-4.53zM112.1 193.7h4.53v1.26h-4.53zM139.2 193.7h4.53v1.26h-4.53zM157.3 193.7h4.53v1.26h-4.53zM103.0 194.9h4.53v1.26h-4.53zM84.9 196.2h4.53v1.26h-4.53zM148.3 196.2h4.53v1.26h-4.53zM107.5 197.4h4.53v1.26h-4.53zM125.6 197.4h4.53v1.26h-4.53zM98.5 198.7h4.53v1.26h-4.53zM134.7 201.2h4.53v1.26h-4.53zM170.9 202.5h4.53v1.26h-4.53zM98.5 203.7h4.53v1.26h-4.53zM130.2 203.7h4.53v1.26h-4.53zM116.6 205.0h4.53v1.26h-4.53zM116.6 206.2h4.53v1.26h-4.53zM125.6 207.5h4.53v1.26h-4.53zM121.1 210.0h4.53v1.26h-4.53zM139.2 210.0h4.53v1.26h-4.53zM157.3 210.0h4.53v1.26h-4.53zM143.8 211.3h4.53v1.26h-4.53zM89.4 213.8h4.53v1.26h-4.53zM130.2 218.8h4.53v1.26h-4.53zM157.3 218.8h4.53v1.26h-4.53zM121.1 220.0h4.53v1.26h-4.53zM148.3 220.0h4.53v1.26h-4.53z"/>
<path fill="#223300" d="M107.5 32.9h4.53v1.26h-4.53zM180.0 42.9h4.53v1.26h-4.53zM170.9 46.7h4.53v1.26h-4.53zM84.9 49.2h4.53v1.26h-4.53zM84.9 56.8h4.53v1.26h-4.53zM71.3 58.0h4.53v1.26h-4.53zM143.8 60.5h4.53v1.26h-4.53zM116.6 63.0h4.53v1.26h-4.53zM130.2 63.0h4.53v1.26h-4.53zM220.7 66.8h4.53v1.26h-4.53zM198.1 73.1h4.53v1.26h-4.53zM103.0 74.3h4.53v1.26h-4.53zM180.0 76.9h4.53v1.26h-4.53zM71.3 78.1h4.53v1.26h-4.53zM148.3 81.9h4.53v1.26h-4.53zM225.3 83.1h4.53v1.26h-4.53zM152.8 84.4h4.53v1.26h-4.53zM170.9 100.7h4.53v1.26h-4.53zM75.8 103.2h4.53v1.26h-4.53zM121.1 105.7h4.53v1.26h-4.53zM170.9 112.0h4.53v1.26h-4.53zM75.8 113.3h4.53v1.26h-4.53zM216.2 113.3h4.53v1.26h-4.53zM93.9 114.5h4.53v1.26h-4.53zM134.7 114.5h4.53v1.26h-4.53zM207.2 115.8h4.53v1.26h-4.53zM175.5 122.1h4.53v1.26h-4.53zM180.0 123.3h4.53v1.26h-4.53zM143.8 128.4h4.53v1.26h-4.53zM112.1 129.6h4.53v1.26h-4.53zM84.9 132.1h4.53v1.26h-4.53zM166.4 134.6h4.53v1.26h-4.53zM112.1 135.9h4.53v1.26h-4.53zM198.1 140.9h4.53v1.26h-4.53zM225.3 140.9h4.53v1.26h-4.53zM202.6 145.9h4.53v1.26h-4.53zM98.5 152.2h4.53v1.26h-4.53zM139.2 159.8h4.53v1.26h-4.53zM130.2 162.3h4.53v1.26h-4.53zM139.2 164.8h4.53v1.26h-4.53zM175.5 164.8h4.53v1.26h-4.53zM143.8 166.0h4.53v1.26h-4.53zM175.5 172.3h4.53v1.26h-4.53zM130.2 173.6h4.53v1.26h-4.53zM189.0 177.3h4.53v1.26h-4.53zM98.5 179.9h4.53v1.26h-4.53zM166.4 179.9h4.53v1.26h-4.53zM189.0 181.1h4.53v1.26h-4.53zM184.5 182.4h4.53v1.26h-4.53zM161.9 188.6h4.53v1.26h-4.53zM103.0 189.9h4.53v1.26h-4.53zM71.3 192.4h4.53v1.26h-4.53zM84.9 192.4h4.53v1.26h-4.53zM143.8 194.9h4.53v1.26h-4.53zM134.7 196.2h4.53v1.26h-4.53zM116.6 198.7h4.53v1.26h-4.53zM71.3 202.5h4.53v1.26h-4.53zM84.9 202.5h4.53v1.26h-4.53zM152.8 208.7h4.53v1.26h-4.53zM166.4 210.0h4.53v1.26h-4.53zM139.2 212.5h4.53v1.26h-4.53zM202.6 213.8h4.53v1.26h-4.53zM121.1 215.0h4.53v1.26h-4.53zM193.6 217.5h4.53v1.26h-4.53zM93.9 220.0h4.53v1.26h-4.53z"/>
<path fill="#008800" d="M121.1 32.9h4.53v1.26h-4.53zM180.0 32.9h4.53v1.26h-4.53zM207.2 32.9h4.53v1.26h-4.53zM211.7 32.9h4.53v1.26h-4.53zM220.7 32.9h4.53v1.26h-4.53zM98.5 34.2h4.53v1.26h-4.53zM125.6 34.2h4.53v1.26h-4.53zM180.0 34.2h4.53v1.26h-4.53zM184.5 34.2h4.53v1.26h-4.53zM189.0 34.2h4.53v1.26h-4.53zM193.6 34.2h4.53v1.26h-4.53zM198.1 34.2h4.53v1.26h-4.53zM207.2 34.2h4.53v1.26h-4.53zM216.2 34.2h4.53v1.26h-4.53zM220.7 34.2h4.53v1.26h-4.53zM148.3 35.4h4.53v1.26h-4.53zM180.0 35.4h4.53v1.26h-4.53zM189.0 35.4h4.53v1.26h-4.53zM207.2 35.4h4.53v1.26h-4.53zM216.2 35.4h4.53v1.26h-4.53zM220.7 35.4h4.53v1.26h-4.53zM71.3 36.7h4.53v1.26h-4.53zM180.0 36.7h4.53v1.26h-4.53zM198.1 36.7h4.53v1.26h-4.53zM202.6 36.7h4.53v1.26h-4.53zM207.2 36.7h4.53v1.26h-4.53zM211.7 36.7h4.53v1.26h-4.53zM220.7 36.7h4.53v1.26h-4.53zM184.5 37.9h4.53v1.26h-4.53zM80.4 39.2h4.53v1.26h-4.53zM180.0 39.2h4.53v1.26h-4.53zM184.5 39.2h4.53v1.26h-4.53zM198.1 39.2h4.53v1.26h-4.53zM202.6 39.2h4.53v1.26h-4.53zM207.2 39.2h4.53v1.26h-4.53zM211.7 39.2h4.53v1.26h-4.53zM216.2 39.2h4.53v1.26h-4.53zM225.3 40.4h4.53v1.26h-4.53zM184.5 41.7h4.53v1.26h-4.53zM193.6 41.7h4.53v1.26h-4.53zM198.1 41.7h4.53v1.26h-4.53zM220.7 41.7h4.53v1.26h-4.53zM225.3 41.7h4.53v1.26h-4.53zM202.6 45.5h4.53v1.26h-4.53zM198.1 46.7h4.53v1.26h-4.53zM225.3 46.7h4.53v1.26h-4.53zM98.5 48.0h4.53v1.26h-4.53zM139.2 48.0h4.53v1.26h-4.53zM143.8 48.0h4.53v1.26h-4.53zM207.2 48.0h4.53v1.26h-4.53zM225.3 48.0h4.53v1.26h-4.53zM107.5 51.7h4.53v1.26h-4.53zM184.5 51.7h4.53v1.26h-4.53zM198.1 51.7h4.53v1.26h-4.53zM211.7 51.7h4.53v1.26h-4.53zM170.9 54.3h4.53v1.26h-4.53zM139.2 55.5h4.53v1.26h-4.53zM148.3 55.5h4.53v1.26h-4.53zM198.1 56.8h4.53v1.26h-4.53zM202.6 56.8h4.53v1.26h-4.53zM139.2 58.0h4.53v1.26h-4.53zM207.2 58.0h4.53v1.26h-4.53zM211.7 58.0h4.53v1.26h-4.53zM84.9 59.3h4.53v1.26h-4.53zM216.2 60.5h4.53v1.26h-4.53zM180.0 64.3h4.53v1.26h-4.53zM71.3 65.6h4.53v1.26h-4.53zM139.2 65.6h4.53v1.26h-4.53zM202.6 65.6h4.53v1.26h-4.53zM225.3 65.6h4.53v1.26h-4.53zM202.6 66.8h4.53v1.26h-4.53zM98.5 68.1h4.53v1.26h-4.53zM71.3 69.3h4.53v1.26h-4.53zM202.6 69.3h4.53v1.26h-4.53zM211.7 70.6h4.53v1.26h-4.53zM225.3 70.6h4.53v1.26h-4.53zM80.4 71.8h4.53v1.26h-4.53zM180.0 71.8h4.53v1.26h-4.53zM189.0 71.8h4.53v1.26h-4.53zM198.1 71.8h4.53v1.26h-4.53zM211.7 71.8h4.53v1.26h-4.53zM220.7 73.1h4.53v1.26h-4.53zM202.6 75.6h4.53v1.26h-4.53zM84.9 76.9h4.53v1.26h-4.53zM152.8 76.9h4.53v1.26h-4.53zM116.6 78.1h4.53v1.26h-4.53zM139.2 78.1h4.53v1.26h-4.53zM202.6 79.4h4.53v1.26h-4.53zM220.7 79.4h4.53v1.26h-4.53zM189.0 81.9h4.53v1.26h-4.53zM184.5 83.1h4.53v1.26h-4.53zM220.7 83.1h4.53v1.26h-4.53zM198.1 84.4h4.53v1.26h-4.53zM134.7 85.7h4.53v1.26h-4.53zM80.4 86.9h4.53v1.26h-4.53zM198.1 88.2h4.53v1.26h-4.53zM207.2 88.2h4.53v1.26h-4.53zM175.5 89.4h4.53v1.26h-4.53zM193.6 90.7h4.53v1.26h-4.53zM112.1 91.9h4.53v1.26h-4.53zM180.0 91.9h4.53v1.26h-4.53zM216.2 91.9h4.53v1.26h-4.53zM71.3 93.2h4.53v1.26h-4.53zM80.4 93.2h4.53v1.26h-4.53zM198.1 93.2h4.53v1.26h-4.53zM220.7 93.2h4.53v1.26h-4.53zM93.9 94.4h4.53v1.26h-4.53zM180.0 94.4h4.53v1.26h-4.53zM198.1 95.7h4.53v1.26h-4.53zM220.7 95.7h4.53v1.26h-4.53zM216.2 97.0h4.53v1.26h-4.53zM75.8 98.2h4.53v1.26h-4.53zM189.0 98.2h4.53v1.26h-4.53zM71.3 99.5h4.53v1.26h-4.53zM121.1 99.5h4.53v1.26h-4.53zM170.9 99.5h4.53v1.26h-4.53zM198.1 99.5h4.53v1.26h-4.53zM121.1 100.7h4.53v1.26h-4.53zM180.0 100.7h4.53v1.26h-4.53zM211.7 100.7h4.53v1.26h-4.53zM148.3 102.0h4.53v1.26h-4.53zM180.0 103.2h4.53v1.26h-4.53zM220.7 103.2h4.53v1.26h-4.53zM134.7 105.7h4.53v1.26h-4.53zM207.2 105.7h4.53v1.26h-4.53zM220.7 107.0h4.53v1.26h-4.53zM189.0 109.5h4.53v1.26h-4.53zM202.6 110.8h4.53v1.26h-4.53zM216.2 110.8h4.53v1.26h-4.53zM180.0 112.0h4.53v1.26h-4.53zM170.9 114.5h4.53v1.26h-4.53zM184.5 114.5h4.53v1.26h-4.53zM211.7 117.1h4.53v1.26h-4.53zM152.8 118.3h4.53v1.26h-4.53zM193.6 118.3h4.53v1.26h-4.53zM198.1 118.3h4.53v1.26h-4.53zM202.6 118.3h4.53v1.26h-4.53zM143.8 119.6h4.53v1.26h-4.53zM80.4 122.1h4.53v1.26h-4.53zM161.9 122.1h4.53v1.26h-4.53zM180.0 122.1h4.53v1.26h-4.53zM198.1 122.1h4.53v1.26h-4.53zM170.9 123.3h4.53v1.26h-4.53zM175.5 123.3h4.53v1.26h-4.53zM207.2 123.3h4.53v1.26h-4.53zM202.6 124.6h4.53v1.26h-4.53zM211.7 125.8h4.53v1.26h-4.53zM161.9 127.1h4.53v1.26h-4.53zM216.2 127.1h4.53v1.26h-4.53zM93.9 129.6h4.53v1.26h-4.53zM107.5 129.6h4.53v1.26h-4.53zM148.3 129.6h4.53v1.26h-4.53zM225.3 129.6h4.53v1.26h-4.53zM93.9 130.9h4.53v1.26h-4.53zM189.0 130.9h4.53v1.26h-4.53zM211.7 133.4h4.53v1.26h-4.53zM71.3 134.6h4.53v1.26h-4.53zM75.8 134.6h4.53v1.26h-4.53zM93.9 134.6h4.53v1.26h-4.53zM198.1 134.6h4.53v1.26h-4.53zM216.2 135.9h4.53v1.26h-4.53zM84.9 137.1h4.53v1.26h-4.53zM89.4 138.4h4.53v1.26h-4.53zM98.5 138.4h4.53v1.26h-4.53zM116.6 138.4h4.53v1.26h-4.53zM207.2 138.4h4.53v1.26h-4.53zM202.6 139.7h4.53v1.26h-4.53zM216.2 139.7h4.53v1.26h-4.53zM80.4 140.9h4.53v1.26h-4.53zM121.1 140.9h4.53v1.26h-4.53zM152.8 140.9h4.53v1.26h-4.53zM184.5 140.9h4.53v1.26h-4.53zM211.7 140.9h4.53v1.26h-4.53zM152.8 142.2h4.53v1.26h-4.53zM216.2 142.2h4.53v1.26h-4.53zM80.4 143.4h4.53v1.26h-4.53zM134.7 148.5h4.53v1.26h-4.53zM121.1 149.7h4.53v1.26h-4.53zM157.3 149.7h4.53v1.26h-4.53zM75.8 151.0h4.53v1.26h-4.53zM161.9 151.0h4.53v1.26h-4.53zM143.8 153.5h4.53v1.26h-4.53zM207.2 153.5h4.53v1.26h-4.53zM107.5 154.7h4.53v1.26h-4.53zM134.7 154.7h4.53v1.26h-4.53zM170.9 154.7h4.53v1.26h-4.53zM125.6 156.0h4.53v1.26h-4.53zM152.8 159.8h4.53v1.26h-4.53zM71.3 162.3h4.53v1.26h-4.53zM84.9 163.5h4.53v1.26h-4.53zM148.3 164.8h4.53v1.26h-4.53zM107.5 166.0h4.53v1.26h-4.53zM175.5 166.0h4.53v1.26h-4.53zM170.9 167.3h4.53v1.26h-4.53zM103.0 172.3h4.53v1.26h-4.53zM107.5 172.3h4.53v1.26h-4.53zM116.6 172.3h4.53v1.26h-4.53zM152.8 172.3h4.53v1.26h-4.53zM161.9 174.8h4.53v1.26h-4.53zM152.8 179.9h4.53v1.26h-4.53zM170.9 182.4h4.53v1.26h-4.53zM112.1 183.6h4.53v1.26h-4.53zM157.3 184.9h4.53v1.26h-4.53zM89.4 186.1h4.53v1.26h-4.53zM198.1 186.1h4.53v1.26h-4.53zM148.3 191.2h4.53v1.26h-4.53zM98.5 192.4h4.53v1.26h-4.53zM139.2 192.4h4.53v1.26h-4.53zM175.5 192.4h4.53v1.26h-4.53zM216.2 194.9h4.53v1.26h-4.53zM89.4 196.2h4.53v1.26h-4.53zM175.5 199.9h4.53v1.26h-4.53zM89.4 202.5h4.53v1.26h-4.53zM93.9 202.5h4.53v1.26h-4.53zM143.8 202.5h4.53v1.26h-4.53zM161.9 203.7h4.53v1.26h-4.53zM161.9 207.5h4.53v1.26h-4.53zM139.2 208.7h4.53v1.26h-4.53zM175.5 208.7h4.53v1.26h-4.53zM71.3 212.5h4.53v1.26h-4.53zM157.3 212.5h4.53v1.26h-4.53zM180.0 213.8h4.53v1.26h-4.53zM103.0 215.0h4.53v1.26h-4.53zM84.9 217.5h4.53v1.26h-4.53zM107.5 218.8h4.53v1.26h-4.53zM211.7 218.8h4.53v1.26h-4.53zM89.4 220.0h4.53v1.26h-4.53z"/>
<path fill="#440000" d="M125.6 32.9h4.53v1.26h-4.53zM139.2 35.4h4.53v1.26h-4.53zM157.3 35.4h4.53v1.26h-4.53zM121.1 36.7h4.53v1.26h-4.53zM207.2 37.9h4.53v1.26h-4.53zM121.1 41.7h4.53v1.26h-4.53zM157.3 42.9h4.53v1.26h-4.53zM71.3 45.5h4.53v1.26h-4.53zM166.4 50.5h4.53v1.26h-4.53zM80.4 55.5h4.53v1.26h-4.53zM157.3 56.8h4.53v1.26h-4.53zM121.1 59.3h4.53v1.26h-4.53zM193.6 60.5h4.53v1.26h-4.53zM166.4 61.8h4.53v1.26h-4.53zM211.7 61.8h4.53v1.26h-4.53zM80.4 64.3h4.53v1.26h-4.53zM112.1 64.3h4.53v1.26h-4.53zM211.7 69.3h4.53v1.26h-4.53zM143.8 71.8h4.53v1.26h-4.53zM157.3 73.1h4.53v1.26h-4.53zM207.2 76.9h4.53v1.26h-4.53zM161.9 81.9h4.53v1.26h-4.53zM116.6 88.2h4.53v1.26h-4.53zM157.3 89.4h4.53v1.26h-4.53zM216.2 90.7h4.53v1.26h-4.53zM157.3 94.4h4.53v1.26h-4.53zM170.9 97.0h4.53v1.26h-4.53zM157.3 100.7h4.53v1.26h-4.53zM157.3 103.2h4.53v1.26h-4.53zM157.3 104.5h4.53v1.26h-4.53zM198.1 104.5h4.53v1.26h-4.53zM80.4 105.7h4.53v1.26h-4.53zM157.3 110.8h4.53v1.26h-4.53zM161.9 114.5h4.53v1.26h-4.53zM166.4 114.5h4.53v1.26h-4.53zM75.8 115.8h4.53v1.26h-4.53zM211.7 120.8h4.53v1.26h-4.53zM121.1 123.3h4.53v1.26h-4.53zM139.2 128.4h4.53v1.26h-4.53zM103.0 144.7h4.53v1.26h-4.53zM84.9 147.2h4.53v1.26h-4.53zM103.0 152.2h4.53v1.26h-4.53zM89.4 153.5h4.53v1.26h-4.53zM202.6 153.5h4.53v1.26h-4.53zM71.3 154.7h4.53v1.26h-4.53zM152.8 157.2h4.53v1.26h-4.53zM75.8 158.5h4.53v1.26h-4.53zM107.5 158.5h4.53v1.26h-4.53zM202.6 158.5h4.53v1.26h-4.53zM148.3 162.3h4.53v1.26h-4.53zM130.2 164.8h4.53v1.26h-4.53zM193.6 164.8h4.53v1.26h-4.53zM80.4 166.0h4.53v1.26h-4.53zM157.3 167.3h4.53v1.26h-4.53zM98.5 172.3h4.53v1.26h-4.53zM98.5 173.6h4.53v1.26h-4.53zM121.1 179.9h4.53v1.26h-4.53zM98.5 181.1h4.53v1.26h-4.53zM166.4 183.6h4.53v1.26h-4.53zM170.9 183.6h4.53v1.26h-4.53zM103.0 186.1h4.53v1.26h-4.53zM180.0 186.1h4.53v1.26h-4.53zM98.5 188.6h4.53v1.26h-4.53zM161.9 191.2h4.53v1.26h-4.53zM112.1 192.4h4.53v1.26h-4.53zM161.9 194.9h4.53v1.26h-4.53zM189.0 196.2h4.53v1.26h-4.53zM71.3 199.9h4.53v1.26h-4.53zM89.4 206.2h4.53v1.26h-4.53zM225.3 206.2h4.53v1.26h-4.53zM98.5 207.5h4.53v1.26h-4.53zM180.0 208.7h4.53v1.26h-4.53zM125.6 211.3h4.53v1.26h-4.53zM125.6 212.5h4.53v1.26h-4.53zM152.8 212.5h4.53v1.26h-4.53zM207.2 213.8h4.53v1.26h-4.53zM134.7 215.0h4.53v1.26h-4.53zM93.9 217.5h4.53v1.26h-4.53zM184.5 218.8h4.53v1.26h-4.53z"/>
<path fill="#114400" d="M130.2 32.9h4.53v1.26h-4.53zM84.9 36.7h4.53v1.26h-4.53zM148.3 54.3h4.53v1.26h-4.53zM180.0 85.7h4.53v1.26h-4.53zM180.0 90.7h4.53v1.26h-4.53zM211.7 90.7h4.53v1.26h-4.53zM220.7 104.5h4.53v1.26h-4.53zM84.9 128.4h4.53v1.26h-4.53zM71.3 147.2h4.53v1.26h-4.53zM93.9 147.2h4.53v1.26h-4.53zM93.9 151.0h4.53v1.26h-4.53zM80.4 152.2h4.53v1.26h-4.53zM116.6 161.0h4.53v1.26h-4.53zM139.2 162.3h4.53v1.26h-4.53zM75.8 166.0h4.53v1.26h-4.53zM103.0 169.8h4.53v1.26h-4.53zM75.8 171.1h4.53v1.26h-4.53zM152.8 186.1h4.53v1.26h-4.53zM103.0 211.3h4.53v1.26h-4.53zM125.6 215.0h4.53v1.26h-4.53zM134.7 218.8h4.53v1.26h-4.53z"/>
<path fill="#007700" d="M139.2 32.9h4.53v1.26h-4.53zM216.2 32.9h4.53v1.26h-4.53zM75.8 34.2h4.53v1.26h-4.53zM184.5 35.4h4.53v1.26h-4.53zM193.6 35.4h4.53v1.26h-4.53zM225.3 35.4h4.53v1.26h-4.53zM125.6 36.7h4.53v1.26h-4.53zM184.5 36.7h4.53v1.26h-4.53zM225.3 36.7h4.53v1.26h-4.53zM71.3 39.2h4.53v1.26h-4.53zM189.0 39.2h4.53v1.26h-4.53zM220.7 39.2h4.53v1.26h-4.53zM198.1 40.4h4.53v1.26h-4.53zM211.7 40.4h4.53v1.26h-4.53zM216.2 40.4h4.53v1.26h-4.53zM220.7 40.4h4.53v1.26h-4.53zM170.9 41.7h4.53v1.26h-4.53zM180.0 41.7h4.53v1.26h-4.53zM189.0 41.7h4.53v1.26h-4.53zM202.6 41.7h4.53v1.26h-4.53zM211.7 41.7h4.53v1.26h-4.53zM202.6 42.9h4.53v1.26h-4.53zM198.1 44.2h4.53v1.26h-4.53zM211.7 44.2h4.53v1.26h-4.53zM198.1 48.0h4.53v1.26h-4.53zM198.1 49.2h4.53v1.26h-4.53zM116.6 50.5h4.53v1.26h-4.53zM152.8 51.7h4.53v1.26h-4.53zM180.0 51.7h4.53v1.26h-4.53zM220.7 51.7h4.53v1.26h-4.53zM71.3 54.3h4.53v1.26h-4.53zM175.5 54.3h4.53v1.26h-4.53zM216.2 55.5h4.53v1.26h-4.53zM148.3 56.8h4.53v1.26h-4.53zM225.3 56.8h4.53v1.26h-4.53zM180.0 58.0h4.53v1.26h-4.53zM189.0 58.0h4.53v1.26h-4.53zM193.6 59.3h4.53v1.26h-4.53zM198.1 60.5h4.53v1.26h-4.53zM207.2 60.5h4.53v1.26h-4.53zM71.3 61.8h4.53v1.26h-4.53zM207.2 61.8h4.53v1.26h-4.53zM121.1 63.0h4.53v1.26h-4.53zM80.4 65.6h4.53v1.26h-4.53zM107.5 69.3h4.53v1.26h-4.53zM152.8 70.6h4.53v1.26h-4.53zM225.3 71.8h4.53v1.26h-4.53zM84.9 73.1h4.53v1.26h-4.53zM89.4 73.1h4.53v1.26h-4.53zM216.2 73.1h4.53v1.26h-4.53zM71.3 74.3h4.53v1.26h-4.53zM175.5 74.3h4.53v1.26h-4.53zM148.3 75.6h4.53v1.26h-4.53zM166.4 75.6h4.53v1.26h-4.53zM89.4 79.4h4.53v1.26h-4.53zM161.9 83.1h4.53v1.26h-4.53zM184.5 84.4h4.53v1.26h-4.53zM130.2 85.7h4.53v1.26h-4.53zM207.2 85.7h4.53v1.26h-4.53zM216.2 85.7h4.53v1.26h-4.53zM116.6 86.9h4.53v1.26h-4.53zM175.5 86.9h4.53v1.26h-4.53zM189.0 86.9h4.53v1.26h-4.53zM184.5 90.7h4.53v1.26h-4.53zM207.2 90.7h4.53v1.26h-4.53zM175.5 93.2h4.53v1.26h-4.53zM211.7 93.2h4.53v1.26h-4.53zM216.2 93.2h4.53v1.26h-4.53zM71.3 94.4h4.53v1.26h-4.53zM175.5 94.4h4.53v1.26h-4.53zM211.7 94.4h4.53v1.26h-4.53zM71.3 97.0h4.53v1.26h-4.53zM75.8 97.0h4.53v1.26h-4.53zM161.9 97.0h4.53v1.26h-4.53zM220.7 99.5h4.53v1.26h-4.53zM184.5 100.7h4.53v1.26h-4.53zM184.5 103.2h4.53v1.26h-4.53zM216.2 103.2h4.53v1.26h-4.53zM89.4 104.5h4.53v1.26h-4.53zM130.2 104.5h4.53v1.26h-4.53zM225.3 105.7h4.53v1.26h-4.53zM225.3 107.0h4.53v1.26h-4.53zM193.6 108.3h4.53v1.26h-4.53zM184.5 109.5h4.53v1.26h-4.53zM193.6 109.5h4.53v1.26h-4.53zM125.6 110.8h4.53v1.26h-4.53zM189.0 110.8h4.53v1.26h-4.53zM193.6 110.8h4.53v1.26h-4.53zM130.2 112.0h4.53v1.26h-4.53zM216.2 112.0h4.53v1.26h-4.53zM220.7 112.0h4.53v1.26h-4.53zM225.3 113.3h4.53v1.26h-4.53zM121.1 118.3h4.53v1.26h-4.53zM184.5 118.3h4.53v1.26h-4.53zM93.9 119.6h4.53v1.26h-4.53zM71.3 122.1h4.53v1.26h-4.53zM75.8 122.1h4.53v1.26h-4.53zM125.6 123.3h4.53v1.26h-4.53zM216.2 123.3h4.53v1.26h-4.53zM130.2 124.6h4.53v1.26h-4.53zM175.5 124.6h4.53v1.26h-4.53zM180.0 124.6h4.53v1.26h-4.53zM211.7 124.6h4.53v1.26h-4.53zM220.7 124.6h4.53v1.26h-4.53zM180.0 127.1h4.53v1.26h-4.53zM152.8 128.4h4.53v1.26h-4.53zM116.6 129.6h4.53v1.26h-4.53zM189.0 129.6h4.53v1.26h-4.53zM211.7 129.6h4.53v1.26h-4.53zM134.7 132.1h4.53v1.26h-4.53zM98.5 133.4h4.53v1.26h-4.53zM121.1 133.4h4.53v1.26h-4.53zM170.9 133.4h4.53v1.26h-4.53zM80.4 134.6h4.53v1.26h-4.53zM112.1 134.6h4.53v1.26h-4.53zM184.5 134.6h4.53v1.26h-4.53zM189.0 134.6h4.53v1.26h-4.53zM211.7 134.6h4.53v1.26h-4.53zM71.3 135.9h4.53v1.26h-4.53zM107.5 137.1h4.53v1.26h-4.53zM112.1 137.1h4.53v1.26h-4.53zM198.1 137.1h4.53v1.26h-4.53zM80.4 138.4h4.53v1.26h-4.53zM93.9 138.4h4.53v1.26h-4.53zM134.7 138.4h4.53v1.26h-4.53zM125.6 139.7h4.53v1.26h-4.53zM148.3 140.9h4.53v1.26h-4.53zM189.0 140.9h4.53v1.26h-4.53zM170.9 142.2h4.53v1.26h-4.53zM180.0 142.2h4.53v1.26h-4.53zM225.3 143.4h4.53v1.26h-4.53zM71.3 144.7h4.53v1.26h-4.53zM75.8 145.9h4.53v1.26h-4.53zM84.9 145.9h4.53v1.26h-4.53zM161.9 145.9h4.53v1.26h-4.53zM193.6 145.9h4.53v1.26h-4.53zM207.2 145.9h4.53v1.26h-4.53zM225.3 147.2h4.53v1.26h-4.53zM125.6 148.5h4.53v1.26h-4.53zM112.1 149.7h4.53v1.26h-4.53zM139.2 149.7h4.53v1.26h-4.53zM121.1 151.0h4.53v1.26h-4.53zM216.2 151.0h4.53v1.26h-4.53zM134.7 152.2h4.53v1.26h-4.53zM89.4 154.7h4.53v1.26h-4.53zM157.3 154.7h4.53v1.26h-4.53zM71.3 157.2h4.53v1.26h-4.53zM134.7 161.0h4.53v1.26h-4.53zM84.9 164.8h4.53v1.26h-4.53zM116.6 166.0h4.53v1.26h-4.53zM71.3 168.5h4.53v1.26h-4.53zM143.8 169.8h4.53v1.26h-4.53zM71.3 172.3h4.53v1.26h-4.53zM143.8 172.3h4.53v1.26h-4.53zM89.4 173.6h4.53v1.26h-4.53zM157.3 173.6h4.53v1.26h-4.53zM98.5 176.1h4.53v1.26h-4.53zM107.5 176.1h4.53v1.26h-4.53zM134.7 176.1h4.53v1.26h-4.53zM170.9 178.6h4.53v1.26h-4.53zM193.6 179.9h4.53v1.26h-4.53zM75.8 182.4h4.53v1.26h-4.53zM125.6 183.6h4.53v1.26h-4.53zM89.4 188.6h4.53v1.26h-4.53zM175.5 188.6h4.53v1.26h-4.53zM198.1 194.9h4.53v1.26h-4.53zM103.0 203.7h4.53v1.26h-4.53zM152.8 203.7h4.53v1.26h-4.53zM207.2 203.7h4.53v1.26h-4.53zM148.3 206.2h4.53v1.26h-4.53zM107.5 208.7h4.53v1.26h-4.53zM166.4 208.7h4.53v1.26h-4.53zM80.4 210.0h4.53v1.26h-4.53zM116.6 211.3h4.53v1.26h-4.53zM170.9 211.3h4.53v1.26h-4.53zM211.7 211.3h4.53v1.26h-4.53zM98.5 212.5h4.53v1.26h-4.53zM134.7 213.8h4.53v1.26h-4.53zM116.6 215.0h4.53v1.26h-4.53zM130.2 215.0h4.53v1.26h-4.53zM148.3 215.0h4.53v1.26h-4.53zM148.3 216.3h4.53v1.26h-4.53zM161.9 217.5h4.53v1.26h-4.53zM93.9 218.8h4.53v1.26h-4.53zM166.4 220.0h4.53v1.26h-4.53z"/>
<path fill="#770000" d="M148.3 32.9h4.53v1.26h-4.53zM84.9 34.2h4.53v1.26h-4.53zM71.3 35.4h4.53v1.26h-4.53zM98.5 39.2h4.53v1.26h-4.53zM170.9 40.4h4.53v1.26h-4.53zM148.3 42.9h4.53v1.26h-4.53zM112.1 46.7h4.53v1.26h-4.53zM143.8 49.2h4.53v1.26h-4.53zM103.0 50.5h4.53v1.26h-4.53zM125.6 54.3h4.53v1.26h-4.53zM75.8 56.8h4.53v1.26h-4.53zM103.0 56.8h4.53v1.26h-4.53zM107.5 60.5h4.53v1.26h-4.53zM139.2 60.5h4.53v1.26h-4.53zM112.1 63.0h4.53v1.26h-4.53zM125.6 63.0h4.53v1.26h-4.53zM143.8 66.8h4.53v1.26h-4.53zM152.8 71.8h4.53v1.26h-4.53zM161.9 71.8h4.53v1.26h-4.53zM71.3 73.1h4.53v1.26h-4.53zM116.6 73.1h4.53v1.26h-4.53zM89.4 74.3h4.53v1.26h-4.53zM170.9 74.3h4.53v1.26h-4.53zM80.4 75.6h4.53v1.26h-4.53zM112.1 75.6h4.53v1.26h-4.53zM125.6 76.9h4.53v1.26h-4.53zM184.5 76.9h4.53v1.26h-4.53zM225.3 76.9h4.53v1.26h-4.53zM75.8 80.6h4.53v1.26h-4.53zM84.9 84.4h4.53v1.26h-4.53zM103.0 88.2h4.53v1.26h-4.53zM143.8 88.2h4.53v1.26h-4.53zM98.5 93.2h4.53v1.26h-4.53zM75.8 94.4h4.53v1.26h-4.53zM84.9 94.4h4.53v1.26h-4.53zM75.8 95.7h4.53v1.26h-4.53zM98.5 98.2h4.53v1.26h-4.53zM130.2 98.2h4.53v1.26h-4.53zM134.7 103.2h4.53v1.26h-4.53zM161.9 104.5h4.53v1.26h-4.53zM161.9 107.0h4.53v1.26h-4.53zM207.2 108.3h4.53v1.26h-4.53zM89.4 109.5h4.53v1.26h-4.53zM112.1 109.5h4.53v1.26h-4.53zM220.7 109.5h4.53v1.26h-4.53zM225.3 109.5h4.53v1.26h-4.53zM143.8 110.8h4.53v1.26h-4.53zM112.1 114.5h4.53v1.26h-4.53zM148.3 114.5h4.53v1.26h-4.53zM98.5 117.1h4.53v1.26h-4.53zM134.7 119.6h4.53v1.26h-4.53zM193.6 119.6h4.53v1.26h-4.53zM98.5 123.3h4.53v1.26h-4.53zM148.3 124.6h4.53v1.26h-4.53zM116.6 125.8h4.53v1.26h-4.53zM134.7 125.8h4.53v1.26h-4.53zM220.7 127.1h4.53v1.26h-4.53zM75.8 130.9h4.53v1.26h-4.53zM80.4 132.1h4.53v1.26h-4.53zM193.6 134.6h4.53v1.26h-4.53zM71.3 139.7h4.53v1.26h-4.53zM84.9 139.7h4.53v1.26h-4.53zM170.9 140.9h4.53v1.26h-4.53zM116.6 147.2h4.53v1.26h-4.53zM139.2 147.2h4.53v1.26h-4.53zM75.8 148.5h4.53v1.26h-4.53zM161.9 148.5h4.53v1.26h-4.53zM161.9 149.7h4.53v1.26h-4.53zM225.3 149.7h4.53v1.26h-4.53zM89.4 151.0h4.53v1.26h-4.53zM184.5 152.2h4.53v1.26h-4.53zM207.2 152.2h4.53v1.26h-4.53zM170.9 153.5h4.53v1.26h-4.53zM170.9 156.0h4.53v1.26h-4.53zM216.2 156.0h4.53v1.26h-4.53zM84.9 157.2h4.53v1.26h-4.53zM116.6 157.2h4.53v1.26h-4.53zM166.4 158.5h4.53v1.26h-4.53zM189.0 161.0h4.53v1.26h-4.53zM80.4 162.3h4.53v1.26h-4.53zM211.7 162.3h4.53v1.26h-4.53zM184.5 163.5h4.53v1.26h-4.53zM80.4 164.8h4.53v1.26h-4.53zM170.9 164.8h4.53v1.26h-4.53zM211.7 167.3h4.53v1.26h-4.53zM125.6 169.8h4.53v1.26h-4.53zM139.2 169.8h4.53v1.26h-4.53zM198.1 171.1h4.53v1.26h-4.53zM139.2 172.3h4.53v1.26h-4.53zM166.4 172.3h4.53v1.26h-4.53zM116.6 174.8h4.53v1.26h-4.53zM184.5 176.1h4.53v1.26h-4.53zM112.1 178.6h4.53v1.26h-4.53zM112.1 179.9h4.53v1.26h-4.53zM175.5 179.9h4.53v1.26h-4.53zM211.7 179.9h4.53v1.26h-4.53zM152.8 181.1h4.53v1.26h-4.53zM89.4 182.4h4.53v1.26h-4.53zM80.4 183.6h4.53v1.26h-4.53zM121.1 183.6h4.53v1.26h-4.53zM175.5 183.6h4.53v1.26h-4.53zM89.4 184.9h4.53v1.26h-4.53zM184.5 184.9h4.53v1.26h-4.53zM211.7 186.1h4.53v1.26h-4.53zM161.9 187.4h4.53v1.26h-4.53zM225.3 187.4h4.53v1.26h-4.53zM93.9 189.9h4.53v1.26h-4.53zM166.4 189.9h4.53v1.26h-4.53zM216.2 193.7h4.53v1.26h-4.53zM134.7 194.9h4.53v1.26h-4.53zM207.2 194.9h4.53v1.26h-4.53zM116.6 202.5h4.53v1.26h-4.53zM121.1 202.5h4.53v1.26h-4.53zM166.4 203.7h4.53v1.26h-4.53zM166.4 205.0h4.53v1.26h-4.53zM75.8 206.2h4.53v1.26h-4.53zM202.6 206.2h4.53v1.26h-4.53zM166.4 207.5h4.53v1.26h-4.53zM93.9 208.7h4.53v1.26h-4.53zM93.9 210.0h4.53v1.26h-4.53zM148.3 210.0h4.53v1.26h-4.53zM121.1 211.3h4.53v1.26h-4.53zM220.7 211.3h4.53v1.26h-4.53zM202.6 212.5h4.53v1.26h-4.53zM93.9 213.8h4.53v1.26h-4.53zM139.2 213.8h4.53v1.26h-4.53zM89.4 215.0h4.53v1.26h-4.53zM107.5 215.0h4.53v1.26h-4.53zM80.4 216.3h4.53v1.26h-4.53zM161.9 216.3h4.53v1.26h-4.53zM166.4 216.3h4.53v1.26h-4.53z"/>
<path fill="#bb0000" d="M152.8 32.9h4.53v1.26h-4.53zM121.1 35.4h4.53v1.26h-4.53zM139.2 36.7h4.53v1.26h-4.53zM89.4 40.4h4.53v1.26h-4.53zM152.8 40.4h4.53v1.26h-4.53zM143.8 42.9h4.53v1.26h-4.53zM166.4 45.5h4.53v1.26h-4.53zM161.9 46.7h4.53v1.26h-4.53zM103.0 48.0h4.53v1.26h-4.53zM116.6 48.0h4.53v1.26h-4.53zM89.4 49.2h4.53v1.26h-4.53zM139.2 49.2h4.53v1.26h-4.53zM107.5 50.5h4.53v1.26h-4.53zM148.3 53.0h4.53v1.26h-4.53zM143.8 55.5h4.53v1.26h-4.53zM98.5 56.8h4.53v1.26h-4.53zM161.9 56.8h4.53v1.26h-4.53zM166.4 56.8h4.53v1.26h-4.53zM98.5 60.5h4.53v1.26h-4.53zM93.9 63.0h4.53v1.26h-4.53zM152.8 63.0h4.53v1.26h-4.53zM125.6 64.3h4.53v1.26h-4.53zM148.3 66.8h4.53v1.26h-4.53zM125.6 69.3h4.53v1.26h-4.53zM166.4 69.3h4.53v1.26h-4.53zM175.5 71.8h4.53v1.26h-4.53zM130.2 74.3h4.53v1.26h-4.53zM175.5 78.1h4.53v1.26h-4.53zM98.5 80.6h4.53v1.26h-4.53zM107.5 80.6h4.53v1.26h-4.53zM134.7 80.6h4.53v1.26h-4.53zM107.5 81.9h4.53v1.26h-4.53zM134.7 81.9h4.53v1.26h-4.53zM139.2 81.9h4.53v1.26h-4.53zM75.8 83.1h4.53v1.26h-4.53zM125.6 83.1h4.53v1.26h-4.53zM107.5 88.2h4.53v1.26h-4.53zM116.6 89.4h4.53v1.26h-4.53zM161.9 90.7h4.53v1.26h-4.53zM103.0 95.7h4.53v1.26h-4.53zM175.5 95.7h4.53v1.26h-4.53zM152.8 97.0h4.53v1.26h-4.53zM130.2 103.2h4.53v1.26h-4.53zM166.4 104.5h4.53v1.26h-4.53zM175.5 105.7h4.53v1.26h-4.53zM112.1 110.8h4.53v1.26h-4.53zM71.3 113.3h4.53v1.26h-4.53zM75.8 114.5h4.53v1.26h-4.53zM139.2 118.3h4.53v1.26h-4.53zM103.0 120.8h4.53v1.26h-4.53zM84.9 122.1h4.53v1.26h-4.53zM98.5 122.1h4.53v1.26h-4.53zM103.0 122.1h4.53v1.26h-4.53zM161.9 125.8h4.53v1.26h-4.53zM125.6 127.1h4.53v1.26h-4.53zM112.1 128.4h4.53v1.26h-4.53zM216.2 129.6h4.53v1.26h-4.53zM107.5 130.9h4.53v1.26h-4.53zM166.4 133.4h4.53v1.26h-4.53zM148.3 139.7h4.53v1.26h-4.53zM98.5 142.2h4.53v1.26h-4.53zM143.8 143.4h4.53v1.26h-4.53zM75.8 147.2h4.53v1.26h-4.53zM184.5 148.5h4.53v1.26h-4.53zM170.9 149.7h4.53v1.26h-4.53zM180.0 149.7h4.53v1.26h-4.53zM220.7 149.7h4.53v1.26h-4.53zM225.3 151.0h4.53v1.26h-4.53zM166.4 152.2h4.53v1.26h-4.53zM103.0 153.5h4.53v1.26h-4.53zM107.5 153.5h4.53v1.26h-4.53zM211.7 156.0h4.53v1.26h-4.53zM184.5 157.2h4.53v1.26h-4.53zM193.6 157.2h4.53v1.26h-4.53zM220.7 157.2h4.53v1.26h-4.53zM116.6 158.5h4.53v1.26h-4.53zM216.2 158.5h4.53v1.26h-4.53zM216.2 159.8h4.53v1.26h-4.53zM89.4 161.0h4.53v1.26h-4.53zM98.5 163.5h4.53v1.26h-4.53zM134.7 163.5h4.53v1.26h-4.53zM166.4 163.5h4.53v1.26h-4.53zM180.0 163.5h4.53v1.26h-4.53zM216.2 163.5h4.53v1.26h-4.53zM220.7 163.5h4.53v1.26h-4.53zM220.7 164.8h4.53v1.26h-4.53zM80.4 168.5h4.53v1.26h-4.53zM148.3 168.5h4.53v1.26h-4.53zM175.5 168.5h4.53v1.26h-4.53zM207.2 168.5h4.53v1.26h-4.53zM166.4 169.8h4.53v1.26h-4.53zM198.1 169.8h4.53v1.26h-4.53zM84.9 172.3h4.53v1.26h-4.53zM225.3 173.6h4.53v1.26h-4.53zM198.1 177.3h4.53v1.26h-4.53zM75.8 178.6h4.53v1.26h-4.53zM93.9 178.6h4.53v1.26h-4.53zM161.9 178.6h4.53v1.26h-4.53zM134.7 179.9h4.53v1.26h-4.53zM121.1 181.1h4.53v1.26h-4.53zM112.1 184.9h4.53v1.26h-4.53zM220.7 184.9h4.53v1.26h-4.53zM225.3 184.9h4.53v1.26h-4.53zM80.4 186.1h4.53v1.26h-4.53zM112.1 187.4h4.53v1.26h-4.53zM198.1 188.6h4.53v1.26h-4.53zM216.2 189.9h4.53v1.26h-4.53zM225.3 192.4h4.53v1.26h-4.53zM207.2 193.7h4.53v1.26h-4.53zM107.5 194.9h4.53v1.26h-4.53zM220.7 194.9h4.53v1.26h-4.53zM116.6 196.2h4.53v1.26h-4.53zM184.5 196.2h4.53v1.26h-4.53zM216.2 196.2h4.53v1.26h-4.53zM220.7 196.2h4.53v1.26h-4.53zM198.1 197.4h4.53v1.26h-4.53zM193.6 198.7h4.53v1.26h-4.53zM225.3 198.7h4.53v1.26h-4.53zM170.9 199.9h4.53v1.26h-4.53zM225.3 199.9h4.53v1.26h-4.53zM148.3 202.5h4.53v1.26h-4.53zM143.8 203.7h4.53v1.26h-4.53zM170.9 205.0h4.53v1.26h-4.53zM139.2 206.2h4.53v1.26h-4.53zM75.8 207.5h4.53v1.26h-4.53zM193.6 207.5h4.53v1.26h-4.53zM161.9 208.7h4.53v1.26h-4.53zM139.2 211.3h4.53v1.26h-4.53zM184.5 211.3h4.53v1.26h-4.53zM225.3 211.3h4.53v1.26h-4.53zM112.1 212.5h4.53v1.26h-4.53zM175.5 212.5h4.53v1.26h-4.53zM225.3 212.5h4.53v1.26h-4.53zM89.4 216.3h4.53v1.26h-4.53zM139.2 217.5h4.53v1.26h-4.53zM180.0 220.0h4.53v1.26h-4.53z"/>
<path fill="#330000" d="M157.3 32.9h4.53v1.26h-4.53zM225.3 32.9h4.53v1.26h-4.53zM71.3 34.2h4.53v1.26h-4.53zM157.3 39.2h4.53v1.26h-4.53zM157.3 50.5h4.53v1.26h-4.53zM202.6 58.0h4.53v1.26h-4.53zM157.3 60.5h4.53v1.26h-4.53zM152.8 74.3h4.53v1.26h-4.53zM157.3 84.4h4.53v1.26h-4.53zM225.3 89.4h4.53v1.26h-4.53zM157.3 102.0h4.53v1.26h-4.53zM180.0 107.0h4.53v1.26h-4.53zM157.3 108.3h4.53v1.26h-4.53zM71.3 110.8h4.53v1.26h-4.53zM157.3 113.3h4.53v1.26h-4.53zM211.7 113.3h4.53v1.26h-4.53zM157.3 119.6h4.53v1.26h-4.53zM130.2 132.1h4.53v1.26h-4.53zM157.3 135.9h4.53v1.26h-4.53zM207.2 142.2h4.53v1.26h-4.53zM84.9 144.7h4.53v1.26h-4.53zM116.6 149.7h4.53v1.26h-4.53zM161.9 158.5h4.53v1.26h-4.53zM75.8 161.0h4.53v1.26h-4.53zM161.9 161.0h4.53v1.26h-4.53zM161.9 171.1h4.53v1.26h-4.53zM98.5 178.6h4.53v1.26h-4.53zM84.9 186.1h4.53v1.26h-4.53zM75.8 188.6h4.53v1.26h-4.53zM107.5 191.2h4.53v1.26h-4.53zM170.9 192.4h4.53v1.26h-4.53zM93.9 196.2h4.53v1.26h-4.53zM112.1 203.7h4.53v1.26h-4.53zM71.3 210.0h4.53v1.26h-4.53zM161.9 215.0h4.53v1.26h-4.53zM143.8 216.3h4.53v1.26h-4.53zM170.9 217.5h4.53v1.26h-4.53zM84.9 220.0h4.53v1.26h-4.53z"/>
<path fill="#227700" d="M161.9 32.9h4.53v1.26h-4.53zM116.6 53.0h4.53v1.26h-4.53zM152.8 54.3h4.53v1.26h-4.53zM93.9 59.3h4.53v1.26h-4.53zM116.6 60.5h4.53v1.26h-4.53zM166.4 71.8h4.53v1.26h-4.53zM103.0 78.1h4.53v1.26h-4.53zM89.4 83.1h4.53v1.26h-4.53zM93.9 83.1h4.53v1.26h-4.53zM98.5 100.7h4.53v1.26h-4.53zM103.0 103.2h4.53v1.26h-4.53zM161.9 115.8h4.53v1.26h-4.53zM166.4 118.3h4.53v1.26h-4.53zM161.9 128.4h4.53v1.26h-4.53zM93.9 145.9h4.53v1.26h-4.53zM121.1 162.3h4.53v1.26h-4.53zM139.2 166.0h4.53v1.26h-4.53zM130.2 169.8h4.53v1.26h-4.53zM148.3 171.1h4.53v1.26h-4.53zM166.4 173.6h4.53v1.26h-4.53zM125.6 179.9h4.53v1.26h-4.53zM134.7 183.6h4.53v1.26h-4.53zM134.7 187.4h4.53v1.26h-4.53zM157.3 192.4h4.53v1.26h-4.53zM112.1 198.7h4.53v1.26h-4.53zM112.1 202.5h4.53v1.26h-4.53zM166.4 202.5h4.53v1.26h-4.53zM130.2 210.0h4.53v1.26h-4.53zM166.4 215.0h4.53v1.26h-4.53z"/>
<path fill="#224400" d="M166.4 32.9h4.53v1.26h-4.53zM130.2 49.2h4.53v1.26h-4.53zM89.4 55.5h4.53v1.26h-4.53zM75.8 61.8h4.53v1.26h-4.53zM189.0 61.8h4.53v1.26h-4.53zM116.6 64.3h4.53v1.26h-4.53zM103.0 70.6h4.53v1.26h-4.53zM134.7 71.8h4.53v1.26h-4.53zM93.9 79.4h4.53v1.26h-4.53zM112.1 80.6h4.53v1.26h-4.53zM198.1 83.1h4.53v1.26h-4.53zM103.0 85.7h4.53v1.26h-4.53zM134.7 86.9h4.53v1.26h-4.53zM134.7 90.7h4.53v1.26h-4.53zM148.3 93.2h4.53v1.26h-4.53zM161.9 95.7h4.53v1.26h-4.53zM89.4 97.0h4.53v1.26h-4.53zM112.1 117.1h4.53v1.26h-4.53zM216.2 118.3h4.53v1.26h-4.53zM225.3 119.6h4.53v1.26h-4.53zM93.9 120.8h4.53v1.26h-4.53zM152.8 122.1h4.53v1.26h-4.53zM189.0 124.6h4.53v1.26h-4.53zM225.3 127.1h4.53v1.26h-4.53zM148.3 133.4h4.53v1.26h-4.53zM84.9 134.6h4.53v1.26h-4.53zM180.0 134.6h4.53v1.26h-4.53zM193.6 143.4h4.53v1.26h-4.53zM143.8 145.9h4.53v1.26h-4.53zM193.6 147.2h4.53v1.26h-4.53zM152.8 149.7h4.53v1.26h-4.53zM166.4 156.0h4.53v1.26h-4.53zM125.6 157.2h4.53v1.26h-4.53zM170.9 162.3h4.53v1.26h-4.53zM193.6 167.3h4.53v1.26h-4.53zM157.3 168.5h4.53v1.26h-4.53zM71.3 171.1h4.53v1.26h-4.53zM143.8 176.1h4.53v1.26h-4.53zM98.5 182.4h4.53v1.26h-4.53zM84.9 183.6h4.53v1.26h-4.53zM170.9 187.4h4.53v1.26h-4.53zM75.8 189.9h4.53v1.26h-4.53zM157.3 197.4h4.53v1.26h-4.53zM103.0 201.2h4.53v1.26h-4.53zM139.2 203.7h4.53v1.26h-4.53zM130.2 205.0h4.53v1.26h-4.53zM134.7 206.2h4.53v1.26h-4.53zM93.9 211.3h4.53v1.26h-4.53zM80.4 213.8h4.53v1.26h-4.53zM75.8 217.5h4.53v1.26h-4.53z"/>
<path fill="#660000" d="M170.9 32.9h4.53v1.26h-4.53zM80.4 34.2h4.53v1.26h-4.53zM89.4 35.4h4.53v1.26h-4.53zM134.7 36.7h4.53v1.26h-4.53zM130.2 39.2h4.53v1.26h-4.53zM71.3 41.7h4.53v1.26h-4.53zM93.9 42.9h4.53v1.26h-4.53zM175.5 45.5h4.53v1.26h-4.53zM89.4 48.0h4.53v1.26h-4.53zM98.5 49.2h4.53v1.26h-4.53zM202.6 51.7h4.53v1.26h-4.53zM166.4 55.5h4.53v1.26h-4.53zM116.6 56.8h4.53v1.26h-4.53zM220.7 56.8h4.53v1.26h-4.53zM184.5 58.0h4.53v1.26h-4.53zM112.1 60.5h4.53v1.26h-4.53zM225.3 61.8h4.53v1.26h-4.53zM130.2 64.3h4.53v1.26h-4.53zM112.1 69.3h4.53v1.26h-4.53zM116.6 69.3h4.53v1.26h-4.53zM189.0 69.3h4.53v1.26h-4.53zM175.5 70.6h4.53v1.26h-4.53zM112.1 73.1h4.53v1.26h-4.53zM175.5 73.1h4.53v1.26h-4.53zM225.3 73.1h4.53v1.26h-4.53zM71.3 76.9h4.53v1.26h-4.53zM112.1 76.9h4.53v1.26h-4.53zM166.4 76.9h4.53v1.26h-4.53zM193.6 76.9h4.53v1.26h-4.53zM202.6 84.4h4.53v1.26h-4.53zM71.3 86.9h4.53v1.26h-4.53zM216.2 88.2h4.53v1.26h-4.53zM198.1 89.4h4.53v1.26h-4.53zM107.5 90.7h4.53v1.26h-4.53zM130.2 91.9h4.53v1.26h-4.53zM166.4 91.9h4.53v1.26h-4.53zM166.4 93.2h4.53v1.26h-4.53zM184.5 94.4h4.53v1.26h-4.53zM130.2 100.7h4.53v1.26h-4.53zM161.9 102.0h4.53v1.26h-4.53zM143.8 107.0h4.53v1.26h-4.53zM98.5 109.5h4.53v1.26h-4.53zM107.5 109.5h4.53v1.26h-4.53zM198.1 109.5h4.53v1.26h-4.53zM207.2 109.5h4.53v1.26h-4.53zM84.9 110.8h4.53v1.26h-4.53zM193.6 113.3h4.53v1.26h-4.53zM71.3 115.8h4.53v1.26h-4.53zM80.4 115.8h4.53v1.26h-4.53zM143.8 118.3h4.53v1.26h-4.53zM80.4 120.8h4.53v1.26h-4.53zM193.6 120.8h4.53v1.26h-4.53zM189.0 123.3h4.53v1.26h-4.53zM71.3 125.8h4.53v1.26h-4.53zM193.6 127.1h4.53v1.26h-4.53zM130.2 128.4h4.53v1.26h-4.53zM170.9 130.9h4.53v1.26h-4.53zM161.9 137.1h4.53v1.26h-4.53zM75.8 144.7h4.53v1.26h-4.53zM130.2 147.2h4.53v1.26h-4.53zM93.9 149.7h4.53v1.26h-4.53zM211.7 149.7h4.53v1.26h-4.53zM93.9 153.5h4.53v1.26h-4.53zM175.5 154.7h4.53v1.26h-4.53zM80.4 156.0h4.53v1.26h-4.53zM107.5 157.2h4.53v1.26h-4.53zM220.7 158.5h4.53v1.26h-4.53zM93.9 159.8h4.53v1.26h-4.53zM103.0 161.0h4.53v1.26h-4.53zM211.7 161.0h4.53v1.26h-4.53zM184.5 162.3h4.53v1.26h-4.53zM75.8 163.5h4.53v1.26h-4.53zM202.6 163.5h4.53v1.26h-4.53zM93.9 164.8h4.53v1.26h-4.53zM134.7 166.0h4.53v1.26h-4.53zM112.1 167.3h4.53v1.26h-4.53zM166.4 167.3h4.53v1.26h-4.53zM125.6 168.5h4.53v1.26h-4.53zM225.3 169.8h4.53v1.26h-4.53zM180.0 172.3h4.53v1.26h-4.53zM189.0 172.3h4.53v1.26h-4.53zM116.6 173.6h4.53v1.26h-4.53zM148.3 173.6h4.53v1.26h-4.53zM170.9 173.6h4.53v1.26h-4.53zM75.8 174.8h4.53v1.26h-4.53zM170.9 176.1h4.53v1.26h-4.53zM71.3 182.4h4.53v1.26h-4.53zM103.0 183.6h4.53v1.26h-4.53zM202.6 186.1h4.53v1.26h-4.53zM148.3 189.9h4.53v1.26h-4.53zM134.7 191.2h4.53v1.26h-4.53zM216.2 191.2h4.53v1.26h-4.53zM107.5 192.4h4.53v1.26h-4.53zM189.0 192.4h4.53v1.26h-4.53zM198.1 193.7h4.53v1.26h-4.53zM170.9 198.7h4.53v1.26h-4.53zM189.0 198.7h4.53v1.26h-4.53zM211.7 198.7h4.53v1.26h-4.53zM84.9 201.2h4.53v1.26h-4.53zM139.2 201.2h4.53v1.26h-4.53zM198.1 201.2h4.53v1.26h-4.53zM220.7 201.2h4.53v1.26h-4.53zM130.2 202.5h4.53v1.26h-4.53zM184.5 202.5h4.53v1.26h-4.53zM93.9 206.2h4.53v1.26h-4.53zM184.5 206.2h4.53v1.26h-4.53zM84.9 208.7h4.53v1.26h-4.53zM180.0 210.0h4.53v1.26h-4.53zM193.6 210.0h4.53v1.26h-4.53zM107.5 211.3h4.53v1.26h-4.53zM130.2 211.3h4.53v1.26h-4.53zM134.7 217.5h4.53v1.26h-4.53zM170.9 218.8h4.53v1.26h-4.53zM75.8 220.0h4.53v1.26h-4.53zM116.6 220.0h4.53v1.26h-4.53zM184.5 220.0h4.53v1.26h-4.53zM207.2 220.0h4.53v1.26h-4.53z"/>
<path fill="#006600" d="M184.5 32.9h4.53v1.26h-4.53zM189.0 32.9h4.53v1.26h-4.53zM112.1 34.2h4.53v1.26h-4.53zM225.3 34.2h4.53v1.26h-4.53zM80.4 35.4h4.53v1.26h-4.53zM189.0 36.7h4.53v1.26h-4.53zM193.6 36.7h4.53v1.26h-4.53zM80.4 37.9h4.53v1.26h-4.53zM121.1 37.9h4.53v1.26h-4.53zM180.0 37.9h4.53v1.26h-4.53zM193.6 37.9h4.53v1.26h-4.53zM216.2 41.7h4.53v1.26h-4.53zM207.2 45.5h4.53v1.26h-4.53zM75.8 48.0h4.53v1.26h-4.53zM216.2 49.2h4.53v1.26h-4.53zM152.8 55.5h4.53v1.26h-4.53zM130.2 56.8h4.53v1.26h-4.53zM175.5 60.5h4.53v1.26h-4.53zM84.9 61.8h4.53v1.26h-4.53zM71.3 64.3h4.53v1.26h-4.53zM148.3 65.6h4.53v1.26h-4.53zM189.0 65.6h4.53v1.26h-4.53zM193.6 65.6h4.53v1.26h-4.53zM89.4 68.1h4.53v1.26h-4.53zM93.9 70.6h4.53v1.26h-4.53zM202.6 70.6h4.53v1.26h-4.53zM80.4 74.3h4.53v1.26h-4.53zM198.1 75.6h4.53v1.26h-4.53zM161.9 79.4h4.53v1.26h-4.53zM207.2 80.6h4.53v1.26h-4.53zM116.6 81.9h4.53v1.26h-4.53zM161.9 84.4h4.53v1.26h-4.53zM225.3 84.4h4.53v1.26h-4.53zM80.4 88.2h4.53v1.26h-4.53zM202.6 88.2h4.53v1.26h-4.53zM216.2 89.4h4.53v1.26h-4.53zM75.8 90.7h4.53v1.26h-4.53zM202.6 91.9h4.53v1.26h-4.53zM211.7 91.9h4.53v1.26h-4.53zM143.8 93.2h4.53v1.26h-4.53zM80.4 94.4h4.53v1.26h-4.53zM170.9 94.4h4.53v1.26h-4.53zM202.6 95.7h4.53v1.26h-4.53zM116.6 97.0h4.53v1.26h-4.53zM125.6 97.0h4.53v1.26h-4.53zM107.5 98.2h4.53v1.26h-4.53zM139.2 98.2h4.53v1.26h-4.53zM211.7 98.2h4.53v1.26h-4.53zM98.5 99.5h4.53v1.26h-4.53zM143.8 99.5h4.53v1.26h-4.53zM75.8 100.7h4.53v1.26h-4.53zM202.6 100.7h4.53v1.26h-4.53zM193.6 102.0h4.53v1.26h-4.53zM189.0 103.2h4.53v1.26h-4.53zM225.3 103.2h4.53v1.26h-4.53zM193.6 105.7h4.53v1.26h-4.53zM193.6 107.0h4.53v1.26h-4.53zM184.5 108.3h4.53v1.26h-4.53zM220.7 108.3h4.53v1.26h-4.53zM198.1 110.8h4.53v1.26h-4.53zM220.7 110.8h4.53v1.26h-4.53zM80.4 112.0h4.53v1.26h-4.53zM125.6 112.0h4.53v1.26h-4.53zM180.0 113.3h4.53v1.26h-4.53zM71.3 114.5h4.53v1.26h-4.53zM130.2 117.1h4.53v1.26h-4.53zM211.7 118.3h4.53v1.26h-4.53zM84.9 123.3h4.53v1.26h-4.53zM207.2 124.6h4.53v1.26h-4.53zM80.4 125.8h4.53v1.26h-4.53zM80.4 128.4h4.53v1.26h-4.53zM121.1 129.6h4.53v1.26h-4.53zM175.5 134.6h4.53v1.26h-4.53zM207.2 135.9h4.53v1.26h-4.53zM80.4 137.1h4.53v1.26h-4.53zM225.3 139.7h4.53v1.26h-4.53zM198.1 142.2h4.53v1.26h-4.53zM93.9 143.4h4.53v1.26h-4.53zM89.4 144.7h4.53v1.26h-4.53zM107.5 144.7h4.53v1.26h-4.53zM198.1 144.7h4.53v1.26h-4.53zM211.7 144.7h4.53v1.26h-4.53zM103.0 145.9h4.53v1.26h-4.53zM121.1 145.9h4.53v1.26h-4.53zM130.2 145.9h4.53v1.26h-4.53zM139.2 145.9h4.53v1.26h-4.53zM184.5 145.9h4.53v1.26h-4.53zM75.8 154.7h4.53v1.26h-4.53zM184.5 154.7h4.53v1.26h-4.53zM98.5 167.3h4.53v1.26h-4.53zM143.8 168.5h4.53v1.26h-4.53zM84.9 171.1h4.53v1.26h-4.53zM125.6 171.1h4.53v1.26h-4.53zM112.1 172.3h4.53v1.26h-4.53zM220.7 172.3h4.53v1.26h-4.53zM107.5 173.6h4.53v1.26h-4.53zM121.1 173.6h4.53v1.26h-4.53zM125.6 177.3h4.53v1.26h-4.53zM157.3 178.6h4.53v1.26h-4.53zM148.3 179.9h4.53v1.26h-4.53zM125.6 184.9h4.53v1.26h-4.53zM93.9 187.4h4.53v1.26h-4.53zM166.4 187.4h4.53v1.26h-4.53zM207.2 189.9h4.53v1.26h-4.53zM93.9 191.2h4.53v1.26h-4.53zM121.1 191.2h4.53v1.26h-4.53zM75.8 197.4h4.53v1.26h-4.53zM139.2 198.7h4.53v1.26h-4.53zM211.7 199.9h4.53v1.26h-4.53zM161.9 201.2h4.53v1.26h-4.53zM103.0 202.5h4.53v1.26h-4.53zM161.9 205.0h4.53v1.26h-4.53zM189.0 205.0h4.53v1.26h-4.53zM134.7 207.5h4.53v1.26h-4.53zM139.2 207.5h4.53v1.26h-4.53zM170.9 210.0h4.53v1.26h-4.53zM84.9 211.3h4.53v1.26h-4.53zM112.1 211.3h4.53v1.26h-4.53zM193.6 211.3h4.53v1.26h-4.53zM125.6 213.8h4.53v1.26h-4.53zM80.4 215.0h4.53v1.26h-4.53zM143.8 215.0h4.53v1.26h-4.53zM175.5 216.3h4.53v1.26h-4.53zM143.8 218.8h4.53v1.26h-4.53z"/>
<path fill="#003300" d="M193.6 32.9h4.53v1.26h-4.53zM198.1 35.4h4.53v1.26h-4.53zM202.6 35.4h4.53v1.26h-4.53zM198.1 37.9h4.53v1.26h-4.53zM225.3 37.9h4.53v1.26h-4.53zM184.5 40.4h4.53v1.26h-4.53zM193.6 40.4h4.53v1.26h-4.53zM207.2 42.9h4.53v1.26h-4.53zM71.3 66.8h4.53v1.26h-4.53zM116.6 68.1h4.53v1.26h-4.53zM80.4 70.6h4.53v1.26h-4.53zM157.3 74.3h4.53v1.26h-4.53zM202.6 76.9h4.53v1.26h-4.53zM193.6 83.1h4.53v1.26h-4.53zM157.3 86.9h4.53v1.26h-4.53zM180.0 89.4h4.53v1.26h-4.53zM157.3 99.5h4.53v1.26h-4.53zM148.3 112.0h4.53v1.26h-4.53zM207.2 127.1h4.53v1.26h-4.53zM157.3 132.1h4.53v1.26h-4.53zM130.2 142.2h4.53v1.26h-4.53zM80.4 153.5h4.53v1.26h-4.53zM161.9 156.0h4.53v1.26h-4.53zM175.5 156.0h4.53v1.26h-4.53zM180.0 166.0h4.53v1.26h-4.53zM225.3 186.1h4.53v1.26h-4.53zM84.9 194.9h4.53v1.26h-4.53zM180.0 199.9h4.53v1.26h-4.53zM189.0 212.5h4.53v1.26h-4.53zM75.8 215.0h4.53v1.26h-4.53zM207.2 218.8h4.53v1.26h-4.53z"/>
<path fill="#005500" d="M198.1 32.9h4.53v1.26h-4.53zM202.6 34.2h4.53v1.26h-4.53zM211.7 34.2h4.53v1.26h-4.53zM130.2 35.4h4.53v1.26h-4.53zM130.2 36.7h4.53v1.26h-4.53zM202.6 37.9h4.53v1.26h-4.53zM211.7 37.9h4.53v1.26h-4.53zM220.7 37.9h4.53v1.26h-4.53zM202.6 40.4h4.53v1.26h-4.53zM84.9 41.7h4.53v1.26h-4.53zM207.2 41.7h4.53v1.26h-4.53zM84.9 45.5h4.53v1.26h-4.53zM152.8 45.5h4.53v1.26h-4.53zM80.4 46.7h4.53v1.26h-4.53zM193.6 46.7h4.53v1.26h-4.53zM216.2 46.7h4.53v1.26h-4.53zM220.7 46.7h4.53v1.26h-4.53zM157.3 48.0h4.53v1.26h-4.53zM157.3 49.2h4.53v1.26h-4.53zM180.0 49.2h4.53v1.26h-4.53zM139.2 50.5h4.53v1.26h-4.53zM89.4 51.7h4.53v1.26h-4.53zM103.0 53.0h4.53v1.26h-4.53zM166.4 53.0h4.53v1.26h-4.53zM161.9 54.3h4.53v1.26h-4.53zM139.2 61.8h4.53v1.26h-4.53zM220.7 61.8h4.53v1.26h-4.53zM89.4 63.0h4.53v1.26h-4.53zM198.1 64.3h4.53v1.26h-4.53zM184.5 66.8h4.53v1.26h-4.53zM80.4 68.1h4.53v1.26h-4.53zM71.3 70.6h4.53v1.26h-4.53zM161.9 74.3h4.53v1.26h-4.53zM207.2 83.1h4.53v1.26h-4.53zM216.2 83.1h4.53v1.26h-4.53zM121.1 84.4h4.53v1.26h-4.53zM75.8 85.7h4.53v1.26h-4.53zM139.2 86.9h4.53v1.26h-4.53zM198.1 86.9h4.53v1.26h-4.53zM152.8 89.4h4.53v1.26h-4.53zM202.6 90.7h4.53v1.26h-4.53zM220.7 90.7h4.53v1.26h-4.53zM207.2 93.2h4.53v1.26h-4.53zM139.2 94.4h4.53v1.26h-4.53zM143.8 94.4h4.53v1.26h-4.53zM202.6 94.4h4.53v1.26h-4.53zM225.3 94.4h4.53v1.26h-4.53zM80.4 95.7h4.53v1.26h-4.53zM184.5 95.7h4.53v1.26h-4.53zM189.0 95.7h4.53v1.26h-4.53zM193.6 95.7h4.53v1.26h-4.53zM207.2 95.7h4.53v1.26h-4.53zM180.0 98.2h4.53v1.26h-4.53zM202.6 99.5h4.53v1.26h-4.53zM225.3 99.5h4.53v1.26h-4.53zM189.0 100.7h4.53v1.26h-4.53zM220.7 100.7h4.53v1.26h-4.53zM202.6 102.0h4.53v1.26h-4.53zM202.6 103.2h4.53v1.26h-4.53zM211.7 103.2h4.53v1.26h-4.53zM202.6 104.5h4.53v1.26h-4.53zM216.2 104.5h4.53v1.26h-4.53zM216.2 105.7h4.53v1.26h-4.53zM207.2 107.0h4.53v1.26h-4.53zM211.7 109.5h4.53v1.26h-4.53zM225.3 110.8h4.53v1.26h-4.53zM89.4 112.0h4.53v1.26h-4.53zM225.3 112.0h4.53v1.26h-4.53zM184.5 113.3h4.53v1.26h-4.53zM189.0 113.3h4.53v1.26h-4.53zM216.2 114.5h4.53v1.26h-4.53zM130.2 118.3h4.53v1.26h-4.53zM148.3 118.3h4.53v1.26h-4.53zM80.4 119.6h4.53v1.26h-4.53zM139.2 119.6h4.53v1.26h-4.53zM198.1 120.8h4.53v1.26h-4.53zM103.0 124.6h4.53v1.26h-4.53zM116.6 124.6h4.53v1.26h-4.53zM202.6 127.1h4.53v1.26h-4.53zM184.5 130.9h4.53v1.26h-4.53zM121.1 135.9h4.53v1.26h-4.53zM130.2 137.1h4.53v1.26h-4.53zM125.6 140.9h4.53v1.26h-4.53zM84.9 148.5h4.53v1.26h-4.53zM166.4 149.7h4.53v1.26h-4.53zM84.9 151.0h4.53v1.26h-4.53zM152.8 153.5h4.53v1.26h-4.53zM152.8 156.0h4.53v1.26h-4.53zM89.4 157.2h4.53v1.26h-4.53zM225.3 157.2h4.53v1.26h-4.53zM157.3 164.8h4.53v1.26h-4.53zM98.5 166.0h4.53v1.26h-4.53zM89.4 167.3h4.53v1.26h-4.53zM130.2 171.1h4.53v1.26h-4.53zM184.5 173.6h4.53v1.26h-4.53zM161.9 176.1h4.53v1.26h-4.53zM139.2 177.3h4.53v1.26h-4.53zM157.3 177.3h4.53v1.26h-4.53zM125.6 178.6h4.53v1.26h-4.53zM198.1 181.1h4.53v1.26h-4.53zM202.6 181.1h4.53v1.26h-4.53zM71.3 183.6h4.53v1.26h-4.53zM112.1 188.6h4.53v1.26h-4.53zM98.5 191.2h4.53v1.26h-4.53zM125.6 191.2h4.53v1.26h-4.53zM139.2 191.2h4.53v1.26h-4.53zM202.6 193.7h4.53v1.26h-4.53zM89.4 194.9h4.53v1.26h-4.53zM189.0 194.9h4.53v1.26h-4.53zM103.0 196.2h4.53v1.26h-4.53zM202.6 196.2h4.53v1.26h-4.53zM157.3 205.0h4.53v1.26h-4.53zM71.3 207.5h4.53v1.26h-4.53zM130.2 207.5h4.53v1.26h-4.53zM193.6 208.7h4.53v1.26h-4.53zM175.5 211.3h4.53v1.26h-4.53zM189.0 211.3h4.53v1.26h-4.53zM130.2 213.8h4.53v1.26h-4.53zM116.6 216.3h4.53v1.26h-4.53zM112.1 217.5h4.53v1.26h-4.53zM143.8 217.5h4.53v1.26h-4.53zM184.5 217.5h4.53v1.26h-4.53zM75.8 218.8h4.53v1.26h-4.53zM98.5 218.8h4.53v1.26h-4.53zM189.0 218.8h4.53v1.26h-4.53zM98.5 220.0h4.53v1.26h-4.53z"/>
<path fill="#004400" d="M202.6 32.9h4.53v1.26h-4.53zM211.7 35.4h4.53v1.26h-4.53zM216.2 36.7h4.53v1.26h-4.53zM71.3 40.4h4.53v1.26h-4.53zM189.0 40.4h4.53v1.26h-4.53zM80.4 41.7h4.53v1.26h-4.53zM103.0 41.7h4.53v1.26h-4.53zM157.3 41.7h4.53v1.26h-4.53zM80.4 42.9h4.53v1.26h-4.53zM220.7 48.0h4.53v1.26h-4.53zM207.2 53.0h4.53v1.26h-4.53zM189.0 56.8h4.53v1.26h-4.53zM89.4 60.5h4.53v1.26h-4.53zM170.9 61.8h4.53v1.26h-4.53zM216.2 61.8h4.53v1.26h-4.53zM157.3 64.3h4.53v1.26h-4.53zM220.7 64.3h4.53v1.26h-4.53zM139.2 69.3h4.53v1.26h-4.53zM216.2 69.3h4.53v1.26h-4.53zM216.2 78.1h4.53v1.26h-4.53zM225.3 80.6h4.53v1.26h-4.53zM98.5 84.4h4.53v1.26h-4.53zM157.3 85.7h4.53v1.26h-4.53zM98.5 86.9h4.53v1.26h-4.53zM112.1 90.7h4.53v1.26h-4.53zM112.1 94.4h4.53v1.26h-4.53zM80.4 100.7h4.53v1.26h-4.53zM198.1 100.7h4.53v1.26h-4.53zM211.7 102.0h4.53v1.26h-4.53zM225.3 104.5h4.53v1.26h-4.53zM225.3 108.3h4.53v1.26h-4.53zM157.3 112.0h4.53v1.26h-4.53zM193.6 112.0h4.53v1.26h-4.53zM198.1 113.3h4.53v1.26h-4.53zM220.7 113.3h4.53v1.26h-4.53zM103.0 115.8h4.53v1.26h-4.53zM80.4 117.1h4.53v1.26h-4.53zM175.5 118.3h4.53v1.26h-4.53zM170.9 122.1h4.53v1.26h-4.53zM148.3 125.8h4.53v1.26h-4.53zM157.3 127.1h4.53v1.26h-4.53zM175.5 128.4h4.53v1.26h-4.53zM116.6 133.4h4.53v1.26h-4.53zM130.2 134.6h4.53v1.26h-4.53zM202.6 140.9h4.53v1.26h-4.53zM220.7 145.9h4.53v1.26h-4.53zM175.5 147.2h4.53v1.26h-4.53zM198.1 151.0h4.53v1.26h-4.53zM143.8 152.2h4.53v1.26h-4.53zM80.4 154.7h4.53v1.26h-4.53zM198.1 158.5h4.53v1.26h-4.53zM103.0 163.5h4.53v1.26h-4.53zM143.8 164.8h4.53v1.26h-4.53zM175.5 177.3h4.53v1.26h-4.53zM107.5 181.1h4.53v1.26h-4.53zM84.9 184.9h4.53v1.26h-4.53zM207.2 186.1h4.53v1.26h-4.53zM148.3 187.4h4.53v1.26h-4.53zM139.2 188.6h4.53v1.26h-4.53zM175.5 189.9h4.53v1.26h-4.53zM107.5 193.7h4.53v1.26h-4.53zM71.3 198.7h4.53v1.26h-4.53zM75.8 203.7h4.53v1.26h-4.53zM143.8 207.5h4.53v1.26h-4.53zM98.5 210.0h4.53v1.26h-4.53zM98.5 216.3h4.53v1.26h-4.53zM121.1 217.5h4.53v1.26h-4.53z"/>
<path fill="#00cc00" d="M89.4 34.2h4.53v1.26h-4.53zM175.5 34.2h4.53v1.26h-4.53zM152.8 35.4h4.53v1.26h-4.53zM148.3 36.7h4.53v1.26h-4.53zM84.9 39.2h4.53v1.26h-4.53zM93.9 41.7h4.53v1.26h-4.53zM107.5 41.7h4.53v1.26h-4.53zM139.2 41.7h4.53v1.26h-4.53zM161.9 41.7h4.53v1.26h-4.53zM216.2 42.9h4.53v1.26h-4.53zM166.4 44.2h4.53v1.26h-4.53zM193.6 45.5h4.53v1.26h-4.53zM198.1 45.5h4.53v1.26h-4.53zM139.2 46.7h4.53v1.26h-4.53zM148.3 46.7h4.53v1.26h-4.53zM216.2 48.0h4.53v1.26h-4.53zM220.7 50.5h4.53v1.26h-4.53zM84.9 51.7h4.53v1.26h-4.53zM125.6 53.0h4.53v1.26h-4.53zM189.0 53.0h4.53v1.26h-4.53zM198.1 53.0h4.53v1.26h-4.53zM202.6 53.0h4.53v1.26h-4.53zM75.8 54.3h4.53v1.26h-4.53zM202.6 54.3h4.53v1.26h-4.53zM93.9 55.5h4.53v1.26h-4.53zM116.6 55.5h4.53v1.26h-4.53zM180.0 56.8h4.53v1.26h-4.53zM121.1 58.0h4.53v1.26h-4.53zM89.4 59.3h4.53v1.26h-4.53zM202.6 59.3h4.53v1.26h-4.53zM116.6 61.8h4.53v1.26h-4.53zM152.8 61.8h4.53v1.26h-4.53zM75.8 63.0h4.53v1.26h-4.53zM211.7 63.0h4.53v1.26h-4.53zM211.7 65.6h4.53v1.26h-4.53zM75.8 66.8h4.53v1.26h-4.53zM193.6 68.1h4.53v1.26h-4.53zM207.2 69.3h4.53v1.26h-4.53zM112.1 70.6h4.53v1.26h-4.53zM121.1 70.6h4.53v1.26h-4.53zM170.9 70.6h4.53v1.26h-4.53zM216.2 70.6h4.53v1.26h-4.53zM170.9 71.8h4.53v1.26h-4.53zM184.5 71.8h4.53v1.26h-4.53zM193.6 71.8h4.53v1.26h-4.53zM134.7 73.1h4.53v1.26h-4.53zM107.5 74.3h4.53v1.26h-4.53zM134.7 74.3h4.53v1.26h-4.53zM180.0 74.3h4.53v1.26h-4.53zM84.9 75.6h4.53v1.26h-4.53zM207.2 75.6h4.53v1.26h-4.53zM211.7 75.6h4.53v1.26h-4.53zM143.8 76.9h4.53v1.26h-4.53zM98.5 78.1h4.53v1.26h-4.53zM143.8 78.1h4.53v1.26h-4.53zM166.4 78.1h4.53v1.26h-4.53zM202.6 78.1h4.53v1.26h-4.53zM211.7 78.1h4.53v1.26h-4.53zM139.2 79.4h4.53v1.26h-4.53zM189.0 79.4h4.53v1.26h-4.53zM180.0 80.6h4.53v1.26h-4.53zM189.0 80.6h4.53v1.26h-4.53zM211.7 80.6h4.53v1.26h-4.53zM75.8 81.9h4.53v1.26h-4.53zM89.4 81.9h4.53v1.26h-4.53zM170.9 81.9h4.53v1.26h-4.53zM211.7 81.9h4.53v1.26h-4.53zM216.2 81.9h4.53v1.26h-4.53zM225.3 81.9h4.53v1.26h-4.53zM180.0 84.4h4.53v1.26h-4.53zM211.7 84.4h4.53v1.26h-4.53zM184.5 85.7h4.53v1.26h-4.53zM216.2 86.9h4.53v1.26h-4.53zM121.1 94.4h4.53v1.26h-4.53zM161.9 94.4h4.53v1.26h-4.53zM93.9 97.0h4.53v1.26h-4.53zM152.8 99.5h4.53v1.26h-4.53zM152.8 100.7h4.53v1.26h-4.53zM139.2 102.0h4.53v1.26h-4.53zM125.6 103.2h4.53v1.26h-4.53zM148.3 103.2h4.53v1.26h-4.53zM125.6 104.5h4.53v1.26h-4.53zM121.1 108.3h4.53v1.26h-4.53zM161.9 109.5h4.53v1.26h-4.53zM143.8 112.0h4.53v1.26h-4.53zM175.5 113.3h4.53v1.26h-4.53zM180.0 114.5h4.53v1.26h-4.53zM202.6 114.5h4.53v1.26h-4.53zM207.2 114.5h4.53v1.26h-4.53zM211.7 114.5h4.53v1.26h-4.53zM98.5 115.8h4.53v1.26h-4.53zM75.8 117.1h4.53v1.26h-4.53zM207.2 117.1h4.53v1.26h-4.53zM225.3 117.1h4.53v1.26h-4.53zM98.5 119.6h4.53v1.26h-4.53zM207.2 122.1h4.53v1.26h-4.53zM89.4 124.6h4.53v1.26h-4.53zM93.9 125.8h4.53v1.26h-4.53zM103.0 125.8h4.53v1.26h-4.53zM84.9 127.1h4.53v1.26h-4.53zM139.2 127.1h4.53v1.26h-4.53zM198.1 127.1h4.53v1.26h-4.53zM103.0 128.4h4.53v1.26h-4.53zM116.6 128.4h4.53v1.26h-4.53zM148.3 128.4h4.53v1.26h-4.53zM180.0 129.6h4.53v1.26h-4.53zM220.7 129.6h4.53v1.26h-4.53zM225.3 130.9h4.53v1.26h-4.53zM75.8 133.4h4.53v1.26h-4.53zM93.9 133.4h4.53v1.26h-4.53zM139.2 133.4h4.53v1.26h-4.53zM202.6 134.6h4.53v1.26h-4.53zM125.6 135.9h4.53v1.26h-4.53zM89.4 137.1h4.53v1.26h-4.53zM98.5 137.1h4.53v1.26h-4.53zM143.8 137.1h4.53v1.26h-4.53zM103.0 138.4h4.53v1.26h-4.53zM107.5 138.4h4.53v1.26h-4.53zM198.1 138.4h4.53v1.26h-4.53zM166.4 140.9h4.53v1.26h-4.53zM180.0 140.9h4.53v1.26h-4.53zM107.5 142.2h4.53v1.26h-4.53zM220.7 142.2h4.53v1.26h-4.53zM89.4 143.4h4.53v1.26h-4.53zM134.7 143.4h4.53v1.26h-4.53zM148.3 143.4h4.53v1.26h-4.53zM152.8 143.4h4.53v1.26h-4.53zM220.7 143.4h4.53v1.26h-4.53zM121.1 144.7h4.53v1.26h-4.53zM220.7 144.7h4.53v1.26h-4.53zM80.4 145.9h4.53v1.26h-4.53zM98.5 145.9h4.53v1.26h-4.53zM216.2 145.9h4.53v1.26h-4.53zM157.3 147.2h4.53v1.26h-4.53zM198.1 147.2h4.53v1.26h-4.53zM134.7 149.7h4.53v1.26h-4.53zM166.4 151.0h4.53v1.26h-4.53zM130.2 152.2h4.53v1.26h-4.53zM152.8 152.2h4.53v1.26h-4.53zM161.9 152.2h4.53v1.26h-4.53zM84.9 154.7h4.53v1.26h-4.53zM89.4 156.0h4.53v1.26h-4.53zM93.9 156.0h4.53v1.26h-4.53zM157.3 157.2h4.53v1.26h-4.53zM134.7 158.5h4.53v1.26h-4.53zM157.3 159.8h4.53v1.26h-4.53zM166.4 159.8h4.53v1.26h-4.53zM125.6 162.3h4.53v1.26h-4.53zM166.4 162.3h4.53v1.26h-4.53zM148.3 163.5h4.53v1.26h-4.53zM170.9 163.5h4.53v1.26h-4.53zM121.1 164.8h4.53v1.26h-4.53zM89.4 166.0h4.53v1.26h-4.53zM139.2 167.3h4.53v1.26h-4.53zM80.4 169.8h4.53v1.26h-4.53zM98.5 169.8h4.53v1.26h-4.53zM157.3 169.8h4.53v1.26h-4.53zM93.9 171.1h4.53v1.26h-4.53zM143.8 171.1h4.53v1.26h-4.53zM166.4 171.1h4.53v1.26h-4.53zM157.3 172.3h4.53v1.26h-4.53zM175.5 173.6h4.53v1.26h-4.53zM80.4 174.8h4.53v1.26h-4.53zM170.9 174.8h4.53v1.26h-4.53zM207.2 174.8h4.53v1.26h-4.53zM84.9 176.1h4.53v1.26h-4.53zM125.6 176.1h4.53v1.26h-4.53zM89.4 177.3h4.53v1.26h-4.53zM121.1 177.3h4.53v1.26h-4.53zM152.8 177.3h4.53v1.26h-4.53zM89.4 178.6h4.53v1.26h-4.53zM103.0 178.6h4.53v1.26h-4.53zM148.3 178.6h4.53v1.26h-4.53zM152.8 178.6h4.53v1.26h-4.53zM80.4 182.4h4.53v1.26h-4.53zM89.4 183.6h4.53v1.26h-4.53zM130.2 183.6h4.53v1.26h-4.53zM75.8 184.9h4.53v1.26h-4.53zM71.3 186.1h4.53v1.26h-4.53zM107.5 186.1h4.53v1.26h-4.53zM157.3 187.4h4.53v1.26h-4.53zM152.8 188.6h4.53v1.26h-4.53zM166.4 188.6h4.53v1.26h-4.53zM71.3 191.2h4.53v1.26h-4.53zM166.4 191.2h4.53v1.26h-4.53zM121.1 193.7h4.53v1.26h-4.53zM170.9 193.7h4.53v1.26h-4.53zM75.8 194.9h4.53v1.26h-4.53zM139.2 197.4h4.53v1.26h-4.53zM130.2 199.9h4.53v1.26h-4.53zM80.4 201.2h4.53v1.26h-4.53zM121.1 201.2h4.53v1.26h-4.53zM148.3 201.2h4.53v1.26h-4.53zM139.2 202.5h4.53v1.26h-4.53zM134.7 203.7h4.53v1.26h-4.53zM121.1 206.2h4.53v1.26h-4.53zM152.8 206.2h4.53v1.26h-4.53zM107.5 207.5h4.53v1.26h-4.53zM152.8 207.5h4.53v1.26h-4.53zM148.3 208.7h4.53v1.26h-4.53zM157.3 208.7h4.53v1.26h-4.53zM166.4 212.5h4.53v1.26h-4.53zM211.7 212.5h4.53v1.26h-4.53zM116.6 213.8h4.53v1.26h-4.53zM175.5 215.0h4.53v1.26h-4.53zM175.5 217.5h4.53v1.26h-4.53zM80.4 218.8h4.53v1.26h-4.53zM84.9 218.8h4.53v1.26h-4.53zM89.4 218.8h4.53v1.26h-4.53zM125.6 218.8h4.53v1.26h-4.53z"/>
<path fill="#dd0000" d="M103.0 34.2h4.53v1.26h-4.53zM148.3 34.2h4.53v1.26h-4.53zM166.4 34.2h4.53v1.26h-4.53zM93.9 35.4h4.53v1.26h-4.53zM98.5 35.4h4.53v1.26h-4.53zM89.4 37.9h4.53v1.26h-4.53zM89.4 39.2h4.53v1.26h-4.53zM112.1 39.2h4.53v1.26h-4.53zM116.6 39.2h4.53v1.26h-4.53zM166.4 39.2h4.53v1.26h-4.53zM175.5 39.2h4.53v1.26h-4.53zM112.1 40.4h4.53v1.26h-4.53zM161.9 40.4h4.53v1.26h-4.53zM175.5 42.9h4.53v1.26h-4.53zM125.6 44.2h4.53v1.26h-4.53zM134.7 44.2h4.53v1.26h-4.53zM103.0 46.7h4.53v1.26h-4.53zM134.7 48.0h4.53v1.26h-4.53zM175.5 51.7h4.53v1.26h-4.53zM130.2 53.0h4.53v1.26h-4.53zM93.9 56.8h4.53v1.26h-4.53zM148.3 61.8h4.53v1.26h-4.53zM161.9 61.8h4.53v1.26h-4.53zM103.0 63.0h4.53v1.26h-4.53zM98.5 64.3h4.53v1.26h-4.53zM93.9 69.3h4.53v1.26h-4.53zM98.5 74.3h4.53v1.26h-4.53zM161.9 75.6h4.53v1.26h-4.53zM112.1 78.1h4.53v1.26h-4.53zM107.5 86.9h4.53v1.26h-4.53zM112.1 88.2h4.53v1.26h-4.53zM93.9 89.4h4.53v1.26h-4.53zM107.5 93.2h4.53v1.26h-4.53zM166.4 94.4h4.53v1.26h-4.53zM125.6 95.7h4.53v1.26h-4.53zM166.4 98.2h4.53v1.26h-4.53zM107.5 99.5h4.53v1.26h-4.53zM84.9 100.7h4.53v1.26h-4.53zM89.4 100.7h4.53v1.26h-4.53zM143.8 103.2h4.53v1.26h-4.53zM75.8 104.5h4.53v1.26h-4.53zM139.2 104.5h4.53v1.26h-4.53zM107.5 105.7h4.53v1.26h-4.53zM112.1 108.3h4.53v1.26h-4.53zM148.3 108.3h4.53v1.26h-4.53zM175.5 108.3h4.53v1.26h-4.53zM93.9 109.5h4.53v1.26h-4.53zM98.5 110.8h4.53v1.26h-4.53zM112.1 112.0h4.53v1.26h-4.53zM89.4 113.3h4.53v1.26h-4.53zM107.5 113.3h4.53v1.26h-4.53zM121.1 113.3h4.53v1.26h-4.53zM84.9 115.8h4.53v1.26h-4.53zM107.5 117.1h4.53v1.26h-4.53zM175.5 117.1h4.53v1.26h-4.53zM103.0 118.3h4.53v1.26h-4.53zM98.5 125.8h4.53v1.26h-4.53zM139.2 125.8h4.53v1.26h-4.53zM98.5 129.6h4.53v1.26h-4.53zM161.9 134.6h4.53v1.26h-4.53zM107.5 135.9h4.53v1.26h-4.53zM134.7 139.7h4.53v1.26h-4.53zM143.8 139.7h4.53v1.26h-4.53zM103.0 140.9h4.53v1.26h-4.53zM161.9 142.2h4.53v1.26h-4.53zM139.2 143.4h4.53v1.26h-4.53zM166.4 144.7h4.53v1.26h-4.53zM207.2 148.5h4.53v1.26h-4.53zM211.7 148.5h4.53v1.26h-4.53zM211.7 153.5h4.53v1.26h-4.53zM180.0 156.0h4.53v1.26h-4.53zM184.5 156.0h4.53v1.26h-4.53zM220.7 156.0h4.53v1.26h-4.53zM216.2 157.2h4.53v1.26h-4.53zM189.0 159.8h4.53v1.26h-4.53zM198.1 159.8h4.53v1.26h-4.53zM184.5 161.0h4.53v1.26h-4.53zM189.0 162.3h4.53v1.26h-4.53zM193.6 163.5h4.53v1.26h-4.53zM198.1 164.8h4.53v1.26h-4.53zM216.2 164.8h4.53v1.26h-4.53zM189.0 166.0h4.53v1.26h-4.53zM198.1 166.0h4.53v1.26h-4.53zM189.0 168.5h4.53v1.26h-4.53zM198.1 168.5h4.53v1.26h-4.53zM220.7 169.8h4.53v1.26h-4.53zM184.5 172.3h4.53v1.26h-4.53zM207.2 172.3h4.53v1.26h-4.53zM189.0 173.6h4.53v1.26h-4.53zM184.5 174.8h4.53v1.26h-4.53zM180.0 184.9h4.53v1.26h-4.53zM216.2 187.4h4.53v1.26h-4.53zM184.5 189.9h4.53v1.26h-4.53zM211.7 189.9h4.53v1.26h-4.53zM225.3 189.9h4.53v1.26h-4.53zM189.0 193.7h4.53v1.26h-4.53zM211.7 194.9h4.53v1.26h-4.53zM193.6 196.2h4.53v1.26h-4.53zM211.7 201.2h4.53v1.26h-4.53zM198.1 202.5h4.53v1.26h-4.53zM211.7 203.7h4.53v1.26h-4.53zM225.3 205.0h4.53v1.26h-4.53zM198.1 207.5h4.53v1.26h-4.53zM184.5 208.7h4.53v1.26h-4.53zM211.7 213.8h4.53v1.26h-4.53zM184.5 215.0h4.53v1.26h-4.53zM202.6 216.3h4.53v1.26h-4.53zM198.1 218.8h4.53v1.26h-4.53zM189.0 220.0h4.53v1.26h-4.53zM225.3 220.0h4.53v1.26h-4.53z"/>
<path fill="#554400" d="M107.5 34.2h4.53v1.26h-4.53zM143.8 56.8h4.53v1.26h-4.53zM175.5 63.0h4.53v1.26h-4.53zM143.8 91.9h4.53v1.26h-4.53zM152.8 95.7h4.53v1.26h-4.53zM89.4 118.3h4.53v1.26h-4.53zM139.2 122.1h4.53v1.26h-4.53zM103.0 135.9h4.53v1.26h-4.53zM121.1 142.2h4.53v1.26h-4.53zM125.6 159.8h4.53v1.26h-4.53zM148.3 205.0h4.53v1.26h-4.53z"/>
<path fill="#990000" d="M121.1 34.2h4.53v1.26h-4.53zM116.6 35.4h4.53v1.26h-4.53zM98.5 36.7h4.53v1.26h-4.53zM107.5 40.4h4.53v1.26h-4.53zM75.8 41.7h4.53v1.26h-4.53zM89.4 41.7h4.53v1.26h-4.53zM71.3 42.9h4.53v1.26h-4.53zM121.1 44.2h4.53v1.26h-4.53zM80.4 45.5h4.53v1.26h-4.53zM98.5 46.7h4.53v1.26h-4.53zM166.4 48.0h4.53v1.26h-4.53zM84.9 50.5h4.53v1.26h-4.53zM134.7 50.5h4.53v1.26h-4.53zM84.9 53.0h4.53v1.26h-4.53zM166.4 54.3h4.53v1.26h-4.53zM103.0 59.3h4.53v1.26h-4.53zM107.5 59.3h4.53v1.26h-4.53zM71.3 60.5h4.53v1.26h-4.53zM161.9 63.0h4.53v1.26h-4.53zM170.9 69.3h4.53v1.26h-4.53zM148.3 70.6h4.53v1.26h-4.53zM71.3 71.8h4.53v1.26h-4.53zM170.9 73.1h4.53v1.26h-4.53zM112.1 74.3h4.53v1.26h-4.53zM80.4 76.9h4.53v1.26h-4.53zM189.0 76.9h4.53v1.26h-4.53zM220.7 76.9h4.53v1.26h-4.53zM103.0 79.4h4.53v1.26h-4.53zM84.9 80.6h4.53v1.26h-4.53zM103.0 81.9h4.53v1.26h-4.53zM112.1 85.7h4.53v1.26h-4.53zM170.9 88.2h4.53v1.26h-4.53zM103.0 89.4h4.53v1.26h-4.53zM125.6 89.4h4.53v1.26h-4.53zM103.0 90.7h4.53v1.26h-4.53zM116.6 93.2h4.53v1.26h-4.53zM112.1 97.0h4.53v1.26h-4.53zM121.1 98.2h4.53v1.26h-4.53zM148.3 98.2h4.53v1.26h-4.53zM112.1 102.0h4.53v1.26h-4.53zM130.2 102.0h4.53v1.26h-4.53zM166.4 102.0h4.53v1.26h-4.53zM175.5 102.0h4.53v1.26h-4.53zM84.9 104.5h4.53v1.26h-4.53zM93.9 104.5h4.53v1.26h-4.53zM98.5 105.7h4.53v1.26h-4.53zM125.6 107.0h4.53v1.26h-4.53zM130.2 109.5h4.53v1.26h-4.53zM152.8 112.0h4.53v1.26h-4.53zM148.3 113.3h4.53v1.26h-4.53zM116.6 117.1h4.53v1.26h-4.53zM89.4 122.1h4.53v1.26h-4.53zM75.8 123.3h4.53v1.26h-4.53zM107.5 123.3h4.53v1.26h-4.53zM139.2 123.3h4.53v1.26h-4.53zM225.3 124.6h4.53v1.26h-4.53zM166.4 125.8h4.53v1.26h-4.53zM143.8 132.1h4.53v1.26h-4.53zM75.8 135.9h4.53v1.26h-4.53zM175.5 135.9h4.53v1.26h-4.53zM107.5 147.2h4.53v1.26h-4.53zM134.7 147.2h4.53v1.26h-4.53zM166.4 147.2h4.53v1.26h-4.53zM180.0 151.0h4.53v1.26h-4.53zM193.6 151.0h4.53v1.26h-4.53zM75.8 152.2h4.53v1.26h-4.53zM89.4 152.2h4.53v1.26h-4.53zM198.1 154.7h4.53v1.26h-4.53zM98.5 156.0h4.53v1.26h-4.53zM193.6 156.0h4.53v1.26h-4.53zM98.5 157.2h4.53v1.26h-4.53zM161.9 157.2h4.53v1.26h-4.53zM202.6 157.2h4.53v1.26h-4.53zM180.0 158.5h4.53v1.26h-4.53zM211.7 159.8h4.53v1.26h-4.53zM71.3 161.0h4.53v1.26h-4.53zM98.5 161.0h4.53v1.26h-4.53zM75.8 162.3h4.53v1.26h-4.53zM93.9 162.3h4.53v1.26h-4.53zM175.5 163.5h4.53v1.26h-4.53zM103.0 164.8h4.53v1.26h-4.53zM71.3 166.0h4.53v1.26h-4.53zM93.9 166.0h4.53v1.26h-4.53zM103.0 166.0h4.53v1.26h-4.53zM220.7 166.0h4.53v1.26h-4.53zM75.8 168.5h4.53v1.26h-4.53zM112.1 168.5h4.53v1.26h-4.53zM112.1 169.8h4.53v1.26h-4.53zM202.6 169.8h4.53v1.26h-4.53zM89.4 171.1h4.53v1.26h-4.53zM180.0 171.1h4.53v1.26h-4.53zM202.6 171.1h4.53v1.26h-4.53zM216.2 171.1h4.53v1.26h-4.53zM125.6 174.8h4.53v1.26h-4.53zM175.5 176.1h4.53v1.26h-4.53zM75.8 177.3h4.53v1.26h-4.53zM193.6 177.3h4.53v1.26h-4.53zM216.2 177.3h4.53v1.26h-4.53zM84.9 178.6h4.53v1.26h-4.53zM89.4 179.9h4.53v1.26h-4.53zM103.0 179.9h4.53v1.26h-4.53zM189.0 179.9h4.53v1.26h-4.53zM216.2 179.9h4.53v1.26h-4.53zM211.7 181.1h4.53v1.26h-4.53zM93.9 182.4h4.53v1.26h-4.53zM166.4 182.4h4.53v1.26h-4.53zM189.0 182.4h4.53v1.26h-4.53zM98.5 183.6h4.53v1.26h-4.53zM166.4 186.1h4.53v1.26h-4.53zM216.2 186.1h4.53v1.26h-4.53zM189.0 188.6h4.53v1.26h-4.53zM180.0 189.9h4.53v1.26h-4.53zM202.6 189.9h4.53v1.26h-4.53zM103.0 191.2h4.53v1.26h-4.53zM143.8 191.2h4.53v1.26h-4.53zM207.2 191.2h4.53v1.26h-4.53zM220.7 191.2h4.53v1.26h-4.53zM89.4 192.4h4.53v1.26h-4.53zM93.9 192.4h4.53v1.26h-4.53zM75.8 193.7h4.53v1.26h-4.53zM125.6 193.7h4.53v1.26h-4.53zM161.9 193.7h4.53v1.26h-4.53zM139.2 196.2h4.53v1.26h-4.53zM198.1 199.9h4.53v1.26h-4.53zM112.1 201.2h4.53v1.26h-4.53zM134.7 202.5h4.53v1.26h-4.53zM121.1 205.0h4.53v1.26h-4.53zM143.8 205.0h4.53v1.26h-4.53zM198.1 205.0h4.53v1.26h-4.53zM207.2 208.7h4.53v1.26h-4.53zM107.5 210.0h4.53v1.26h-4.53zM161.9 210.0h4.53v1.26h-4.53zM207.2 210.0h4.53v1.26h-4.53zM166.4 211.3h4.53v1.26h-4.53zM180.0 211.3h4.53v1.26h-4.53zM80.4 212.5h4.53v1.26h-4.53zM134.7 212.5h4.53v1.26h-4.53zM193.6 213.8h4.53v1.26h-4.53zM202.6 215.0h4.53v1.26h-4.53zM125.6 216.3h4.53v1.26h-4.53zM198.1 216.3h4.53v1.26h-4.53zM207.2 217.5h4.53v1.26h-4.53zM148.3 218.8h4.53v1.26h-4.53zM161.9 218.8h4.53v1.26h-4.53z"/>
<path fill="#225500" d="M130.2 34.2h4.53v1.26h-4.53zM170.9 37.9h4.53v1.26h-4.53zM143.8 39.2h4.53v1.26h-4.53zM134.7 41.7h4.53v1.26h-4.53zM161.9 50.5h4.53v1.26h-4.53zM161.9 66.8h4.53v1.26h-4.53zM80.4 97.0h4.53v1.26h-4.53zM139.2 100.7h4.53v1.26h-4.53zM161.9 100.7h4.53v1.26h-4.53zM71.3 102.0h4.53v1.26h-4.53zM89.4 107.0h4.53v1.26h-4.53zM170.9 107.0h4.53v1.26h-4.53zM130.2 115.8h4.53v1.26h-4.53zM143.8 115.8h4.53v1.26h-4.53zM130.2 120.8h4.53v1.26h-4.53zM125.6 134.6h4.53v1.26h-4.53zM161.9 138.4h4.53v1.26h-4.53zM216.2 140.9h4.53v1.26h-4.53zM161.9 153.5h4.53v1.26h-4.53zM175.5 161.0h4.53v1.26h-4.53zM107.5 164.8h4.53v1.26h-4.53zM130.2 166.0h4.53v1.26h-4.53zM107.5 167.3h4.53v1.26h-4.53zM121.1 188.6h4.53v1.26h-4.53zM220.7 193.7h4.53v1.26h-4.53zM80.4 199.9h4.53v1.26h-4.53zM121.1 203.7h4.53v1.26h-4.53zM170.9 203.7h4.53v1.26h-4.53zM75.8 205.0h4.53v1.26h-4.53zM211.7 207.5h4.53v1.26h-4.53zM170.9 216.3h4.53v1.26h-4.53zM175.5 220.0h4.53v1.26h-4.53z"/>
<path fill="#334400" d="M139.2 34.2h4.53v1.26h-4.53zM80.4 63.0h4.53v1.26h-4.53zM143.8 63.0h4.53v1.26h-4.53zM107.5 79.4h4.53v1.26h-4.53zM148.3 84.4h4.53v1.26h-4.53zM225.3 86.9h4.53v1.26h-4.53zM71.3 89.4h4.53v1.26h-4.53zM98.5 102.0h4.53v1.26h-4.53zM166.4 107.0h4.53v1.26h-4.53zM125.6 109.5h4.53v1.26h-4.53zM98.5 120.8h4.53v1.26h-4.53zM71.3 138.4h4.53v1.26h-4.53zM166.4 138.4h4.53v1.26h-4.53zM130.2 139.7h4.53v1.26h-4.53zM103.0 143.4h4.53v1.26h-4.53zM143.8 156.0h4.53v1.26h-4.53zM161.9 159.8h4.53v1.26h-4.53zM84.9 166.0h4.53v1.26h-4.53zM134.7 168.5h4.53v1.26h-4.53zM180.0 169.8h4.53v1.26h-4.53zM134.7 171.1h4.53v1.26h-4.53zM175.5 171.1h4.53v1.26h-4.53zM161.9 179.9h4.53v1.26h-4.53zM93.9 181.1h4.53v1.26h-4.53zM139.2 183.6h4.53v1.26h-4.53zM175.5 184.9h4.53v1.26h-4.53zM152.8 197.4h4.53v1.26h-4.53zM211.7 202.5h4.53v1.26h-4.53zM107.5 206.2h4.53v1.26h-4.53zM125.6 206.2h4.53v1.26h-4.53zM225.3 218.8h4.53v1.26h-4.53zM103.0 220.0h4.53v1.26h-4.53zM130.2 220.0h4.53v1.26h-4.53z"/>
<path fill="#333300" d="M143.8 34.2h4.53v1.26h-4.53zM170.9 34.2h4.53v1.26h-4.53zM161.9 36.7h4.53v1.26h-4.53zM84.9 37.9h4.53v1.26h-4.53zM166.4 40.4h4.53v1.26h-4.53zM175.5 40.4h4.53v1.26h-4.53zM189.0 45.5h4.53v1.26h-4.53zM98.5 55.5h4.53v1.26h-4.53zM198.1 68.1h4.53v1.26h-4.53zM98.5 70.6h4.53v1.26h-4.53zM216.2 100.7h4.53v1.26h-4.53zM116.6 103.2h4.53v1.26h-4.53zM166.4 110.8h4.53v1.26h-4.53zM166.4 120.8h4.53v1.26h-4.53zM207.2 129.6h4.53v1.26h-4.53zM216.2 130.9h4.53v1.26h-4.53zM75.8 153.5h4.53v1.26h-4.53zM157.3 153.5h4.53v1.26h-4.53zM175.5 153.5h4.53v1.26h-4.53zM148.3 158.5h4.53v1.26h-4.53zM107.5 161.0h4.53v1.26h-4.53zM89.4 164.8h4.53v1.26h-4.53zM170.9 168.5h4.53v1.26h-4.53zM107.5 169.8h4.53v1.26h-4.53zM116.6 177.3h4.53v1.26h-4.53zM75.8 192.4h4.53v1.26h-4.53zM116.6 194.9h4.53v1.26h-4.53zM121.1 196.2h4.53v1.26h-4.53zM143.8 197.4h4.53v1.26h-4.53zM80.4 198.7h4.53v1.26h-4.53zM116.6 201.2h4.53v1.26h-4.53zM202.6 202.5h4.53v1.26h-4.53zM143.8 206.2h4.53v1.26h-4.53zM207.2 207.5h4.53v1.26h-4.53zM98.5 208.7h4.53v1.26h-4.53zM202.6 210.0h4.53v1.26h-4.53zM193.6 212.5h4.53v1.26h-4.53zM107.5 213.8h4.53v1.26h-4.53zM71.3 220.0h4.53v1.26h-4.53zM152.8 220.0h4.53v1.26h-4.53z"/>
<path fill="#335500" d="M152.8 34.2h4.53v1.26h-4.53zM143.8 40.4h4.53v1.26h-4.53zM134.7 51.7h4.53v1.26h-4.53zM112.1 56.8h4.53v1.26h-4.53zM152.8 58.0h4.53v1.26h-4.53zM189.0 70.6h4.53v1.26h-4.53zM130.2 76.9h4.53v1.26h-4.53zM89.4 80.6h4.53v1.26h-4.53zM161.9 88.2h4.53v1.26h-4.53zM75.8 93.2h4.53v1.26h-4.53zM116.6 94.4h4.53v1.26h-4.53zM143.8 97.0h4.53v1.26h-4.53zM98.5 112.0h4.53v1.26h-4.53zM143.8 123.3h4.53v1.26h-4.53zM170.9 134.6h4.53v1.26h-4.53zM112.1 142.2h4.53v1.26h-4.53zM211.7 145.9h4.53v1.26h-4.53zM116.6 148.5h4.53v1.26h-4.53zM107.5 152.2h4.53v1.26h-4.53zM166.4 154.7h4.53v1.26h-4.53zM80.4 176.1h4.53v1.26h-4.53zM220.7 178.6h4.53v1.26h-4.53zM89.4 198.7h4.53v1.26h-4.53zM184.5 213.8h4.53v1.26h-4.53zM130.2 216.3h4.53v1.26h-4.53z"/>
<path fill="#550000" d="M157.3 34.2h4.53v1.26h-4.53zM143.8 35.4h4.53v1.26h-4.53zM112.1 37.9h4.53v1.26h-4.53zM157.3 37.9h4.53v1.26h-4.53zM189.0 37.9h4.53v1.26h-4.53zM157.3 40.4h4.53v1.26h-4.53zM130.2 41.7h4.53v1.26h-4.53zM157.3 44.2h4.53v1.26h-4.53zM157.3 45.5h4.53v1.26h-4.53zM157.3 46.7h4.53v1.26h-4.53zM71.3 49.2h4.53v1.26h-4.53zM84.9 55.5h4.53v1.26h-4.53zM193.6 56.8h4.53v1.26h-4.53zM157.3 59.3h4.53v1.26h-4.53zM84.9 60.5h4.53v1.26h-4.53zM220.7 60.5h4.53v1.26h-4.53zM93.9 65.6h4.53v1.26h-4.53zM157.3 69.3h4.53v1.26h-4.53zM157.3 75.6h4.53v1.26h-4.53zM71.3 80.6h4.53v1.26h-4.53zM130.2 81.9h4.53v1.26h-4.53zM112.1 86.9h4.53v1.26h-4.53zM220.7 89.4h4.53v1.26h-4.53zM139.2 90.7h4.53v1.26h-4.53zM198.1 94.4h4.53v1.26h-4.53zM207.2 94.4h4.53v1.26h-4.53zM220.7 94.4h4.53v1.26h-4.53zM98.5 95.7h4.53v1.26h-4.53zM157.3 98.2h4.53v1.26h-4.53zM157.3 105.7h4.53v1.26h-4.53zM157.3 107.0h4.53v1.26h-4.53zM80.4 108.3h4.53v1.26h-4.53zM134.7 108.3h4.53v1.26h-4.53zM180.0 108.3h4.53v1.26h-4.53zM189.0 108.3h4.53v1.26h-4.53zM202.6 108.3h4.53v1.26h-4.53zM216.2 108.3h4.53v1.26h-4.53zM93.9 110.8h4.53v1.26h-4.53zM225.3 114.5h4.53v1.26h-4.53zM80.4 118.3h4.53v1.26h-4.53zM157.3 118.3h4.53v1.26h-4.53zM84.9 119.6h4.53v1.26h-4.53zM107.5 119.6h4.53v1.26h-4.53zM157.3 120.8h4.53v1.26h-4.53zM175.5 120.8h4.53v1.26h-4.53zM184.5 120.8h4.53v1.26h-4.53zM112.1 122.1h4.53v1.26h-4.53zM71.3 123.3h4.53v1.26h-4.53zM103.0 123.3h4.53v1.26h-4.53zM80.4 124.6h4.53v1.26h-4.53zM84.9 124.6h4.53v1.26h-4.53zM157.3 124.6h4.53v1.26h-4.53zM166.4 124.6h4.53v1.26h-4.53zM175.5 125.8h4.53v1.26h-4.53zM157.3 128.4h4.53v1.26h-4.53zM193.6 129.6h4.53v1.26h-4.53zM89.4 133.4h4.53v1.26h-4.53zM125.6 133.4h4.53v1.26h-4.53zM139.2 135.9h4.53v1.26h-4.53zM198.1 135.9h4.53v1.26h-4.53zM157.3 144.7h4.53v1.26h-4.53zM170.9 147.2h4.53v1.26h-4.53zM107.5 149.7h4.53v1.26h-4.53zM112.1 151.0h4.53v1.26h-4.53zM116.6 156.0h4.53v1.26h-4.53zM98.5 158.5h4.53v1.26h-4.53zM103.0 158.5h4.53v1.26h-4.53zM148.3 159.8h4.53v1.26h-4.53zM170.9 159.8h4.53v1.26h-4.53zM148.3 161.0h4.53v1.26h-4.53zM202.6 161.0h4.53v1.26h-4.53zM107.5 163.5h4.53v1.26h-4.53zM211.7 163.5h4.53v1.26h-4.53zM161.9 164.8h4.53v1.26h-4.53zM220.7 167.3h4.53v1.26h-4.53zM89.4 168.5h4.53v1.26h-4.53zM75.8 169.8h4.53v1.26h-4.53zM98.5 171.1h4.53v1.26h-4.53zM134.7 172.3h4.53v1.26h-4.53zM180.0 173.6h4.53v1.26h-4.53zM166.4 177.3h4.53v1.26h-4.53zM202.6 179.9h4.53v1.26h-4.53zM166.4 184.9h4.53v1.26h-4.53zM98.5 186.1h4.53v1.26h-4.53zM116.6 186.1h4.53v1.26h-4.53zM80.4 189.9h4.53v1.26h-4.53zM134.7 189.9h4.53v1.26h-4.53zM161.9 189.9h4.53v1.26h-4.53zM166.4 192.4h4.53v1.26h-4.53zM130.2 196.2h4.53v1.26h-4.53zM125.6 198.7h4.53v1.26h-4.53zM157.3 199.9h4.53v1.26h-4.53zM202.6 199.9h4.53v1.26h-4.53zM107.5 201.2h4.53v1.26h-4.53zM143.8 201.2h4.53v1.26h-4.53zM202.6 201.2h4.53v1.26h-4.53zM207.2 202.5h4.53v1.26h-4.53zM112.1 206.2h4.53v1.26h-4.53zM193.6 206.2h4.53v1.26h-4.53zM211.7 206.2h4.53v1.26h-4.53zM75.8 212.5h4.53v1.26h-4.53zM71.3 213.8h4.53v1.26h-4.53zM84.9 215.0h4.53v1.26h-4.53zM112.1 215.0h4.53v1.26h-4.53zM112.1 218.8h4.53v1.26h-4.53zM220.7 218.8h4.53v1.26h-4.53z"/>
<path fill="#332200" d="M75.8 35.4h4.53v1.26h-4.53zM93.9 36.7h4.53v1.26h-4.53zM216.2 37.9h4.53v1.26h-4.53zM170.9 39.2h4.53v1.26h-4.53zM116.6 45.5h4.53v1.26h-4.53zM161.9 45.5h4.53v1.26h-4.53zM211.7 46.7h4.53v1.26h-4.53zM71.3 50.5h4.53v1.26h-4.53zM134.7 56.8h4.53v1.26h-4.53zM211.7 56.8h4.53v1.26h-4.53zM80.4 59.3h4.53v1.26h-4.53zM161.9 59.3h4.53v1.26h-4.53zM180.0 69.3h4.53v1.26h-4.53zM80.4 73.1h4.53v1.26h-4.53zM98.5 73.1h4.53v1.26h-4.53zM193.6 73.1h4.53v1.26h-4.53zM121.1 78.1h4.53v1.26h-4.53zM198.1 81.9h4.53v1.26h-4.53zM166.4 88.2h4.53v1.26h-4.53zM170.9 91.9h4.53v1.26h-4.53zM216.2 94.4h4.53v1.26h-4.53zM134.7 98.2h4.53v1.26h-4.53zM125.6 100.7h4.53v1.26h-4.53zM107.5 104.5h4.53v1.26h-4.53zM71.3 108.3h4.53v1.26h-4.53zM75.8 109.5h4.53v1.26h-4.53zM161.9 112.0h4.53v1.26h-4.53zM184.5 112.0h4.53v1.26h-4.53zM107.5 114.5h4.53v1.26h-4.53zM125.6 117.1h4.53v1.26h-4.53zM89.4 119.6h4.53v1.26h-4.53zM161.9 119.6h4.53v1.26h-4.53zM80.4 123.3h4.53v1.26h-4.53zM184.5 124.6h4.53v1.26h-4.53zM71.3 130.9h4.53v1.26h-4.53zM175.5 130.9h4.53v1.26h-4.53zM220.7 134.6h4.53v1.26h-4.53zM103.0 137.1h4.53v1.26h-4.53zM166.4 137.1h4.53v1.26h-4.53zM98.5 140.9h4.53v1.26h-4.53zM202.6 142.2h4.53v1.26h-4.53zM89.4 148.5h4.53v1.26h-4.53zM139.2 154.7h4.53v1.26h-4.53zM220.7 154.7h4.53v1.26h-4.53zM125.6 161.0h4.53v1.26h-4.53zM134.7 164.8h4.53v1.26h-4.53zM184.5 166.0h4.53v1.26h-4.53zM121.1 167.3h4.53v1.26h-4.53zM152.8 168.5h4.53v1.26h-4.53zM89.4 169.8h4.53v1.26h-4.53zM80.4 171.1h4.53v1.26h-4.53zM89.4 172.3h4.53v1.26h-4.53zM152.8 174.8h4.53v1.26h-4.53zM121.1 178.6h4.53v1.26h-4.53zM112.1 182.4h4.53v1.26h-4.53zM216.2 183.6h4.53v1.26h-4.53zM93.9 184.9h4.53v1.26h-4.53zM170.9 186.1h4.53v1.26h-4.53zM130.2 187.4h4.53v1.26h-4.53zM107.5 188.6h4.53v1.26h-4.53zM193.6 194.9h4.53v1.26h-4.53zM121.1 197.4h4.53v1.26h-4.53zM103.0 198.7h4.53v1.26h-4.53zM220.7 198.7h4.53v1.26h-4.53zM175.5 207.5h4.53v1.26h-4.53zM189.0 210.0h4.53v1.26h-4.53zM98.5 211.3h4.53v1.26h-4.53zM202.6 211.3h4.53v1.26h-4.53zM211.7 215.0h4.53v1.26h-4.53zM80.4 217.5h4.53v1.26h-4.53zM130.2 217.5h4.53v1.26h-4.53z"/>
<path fill="#447700" d="M166.4 35.4h4.53v1.26h-4.53zM121.1 53.0h4.53v1.26h-4.53zM166.4 128.4h4.53v1.26h-4.53zM125.6 138.4h4.53v1.26h-4.53zM175.5 139.7h4.53v1.26h-4.53zM170.9 144.7h4.53v1.26h-4.53z"/>
<path fill="#221100" d="M170.9 35.4h4.53v1.26h-4.53zM93.9 39.2h4.53v1.26h-4.53zM134.7 40.4h4.53v1.26h-4.53zM125.6 48.0h4.53v1.26h-4.53zM107.5 61.8h4.53v1.26h-4.53zM143.8 64.3h4.53v1.26h-4.53zM157.3 66.8h4.53v1.26h-4.53zM216.2 71.8h4.53v1.26h-4.53zM202.6 73.1h4.53v1.26h-4.53zM107.5 75.6h4.53v1.26h-4.53zM157.3 79.4h4.53v1.26h-4.53zM157.3 91.9h4.53v1.26h-4.53zM170.9 93.2h4.53v1.26h-4.53zM157.3 97.0h4.53v1.26h-4.53zM193.6 104.5h4.53v1.26h-4.53zM207.2 110.8h4.53v1.26h-4.53zM125.6 128.4h4.53v1.26h-4.53zM125.6 130.9h4.53v1.26h-4.53zM157.3 143.4h4.53v1.26h-4.53zM202.6 151.0h4.53v1.26h-4.53zM75.8 157.2h4.53v1.26h-4.53zM166.4 164.8h4.53v1.26h-4.53zM202.6 164.8h4.53v1.26h-4.53zM157.3 166.0h4.53v1.26h-4.53zM84.9 187.4h4.53v1.26h-4.53zM220.7 205.0h4.53v1.26h-4.53zM125.6 217.5h4.53v1.26h-4.53z"/>
<path fill="#442200" d="M143.8 36.7h4.53v1.26h-4.53zM180.0 40.4h4.53v1.26h-4.53zM189.0 46.7h4.53v1.26h-4.53zM125.6 55.5h4.53v1.26h-4.53zM170.9 55.5h4.53v1.26h-4.53zM98.5 58.0h4.53v1.26h-4.53zM134.7 60.5h4.53v1.26h-4.53zM103.0 61.8h4.53v1.26h-4.53zM211.7 66.8h4.53v1.26h-4.53zM98.5 69.3h4.53v1.26h-4.53zM125.6 73.1h4.53v1.26h-4.53zM193.6 81.9h4.53v1.26h-4.53zM207.2 86.9h4.53v1.26h-4.53zM80.4 90.7h4.53v1.26h-4.53zM139.2 93.2h4.53v1.26h-4.53zM125.6 98.2h4.53v1.26h-4.53zM116.6 99.5h4.53v1.26h-4.53zM152.8 107.0h4.53v1.26h-4.53zM75.8 112.0h4.53v1.26h-4.53zM121.1 117.1h4.53v1.26h-4.53zM175.5 119.6h4.53v1.26h-4.53zM134.7 124.6h4.53v1.26h-4.53zM175.5 127.1h4.53v1.26h-4.53zM121.1 139.7h4.53v1.26h-4.53zM134.7 144.7h4.53v1.26h-4.53zM207.2 147.2h4.53v1.26h-4.53zM207.2 151.0h4.53v1.26h-4.53zM211.7 154.7h4.53v1.26h-4.53zM107.5 156.0h4.53v1.26h-4.53zM189.0 156.0h4.53v1.26h-4.53zM220.7 161.0h4.53v1.26h-4.53zM148.3 167.3h4.53v1.26h-4.53zM148.3 169.8h4.53v1.26h-4.53zM216.2 173.6h4.53v1.26h-4.53zM198.1 176.1h4.53v1.26h-4.53zM216.2 176.1h4.53v1.26h-4.53zM170.9 177.3h4.53v1.26h-4.53zM143.8 183.6h4.53v1.26h-4.53zM152.8 192.4h4.53v1.26h-4.53zM180.0 192.4h4.53v1.26h-4.53zM112.1 194.9h4.53v1.26h-4.53zM180.0 198.7h4.53v1.26h-4.53zM84.9 199.9h4.53v1.26h-4.53zM93.9 199.9h4.53v1.26h-4.53zM80.4 207.5h4.53v1.26h-4.53zM134.7 211.3h4.53v1.26h-4.53zM216.2 211.3h4.53v1.26h-4.53zM180.0 212.5h4.53v1.26h-4.53zM198.1 220.0h4.53v1.26h-4.53z"/>
<path fill="#443300" d="M152.8 36.7h4.53v1.26h-4.53zM134.7 45.5h4.53v1.26h-4.53zM139.2 45.5h4.53v1.26h-4.53zM80.4 48.0h4.53v1.26h-4.53zM139.2 53.0h4.53v1.26h-4.53zM103.0 55.5h4.53v1.26h-4.53zM107.5 55.5h4.53v1.26h-4.53zM80.4 61.8h4.53v1.26h-4.53zM93.9 68.1h4.53v1.26h-4.53zM130.2 69.3h4.53v1.26h-4.53zM139.2 73.1h4.53v1.26h-4.53zM143.8 74.3h4.53v1.26h-4.53zM175.5 85.7h4.53v1.26h-4.53zM116.6 105.7h4.53v1.26h-4.53zM103.0 107.0h4.53v1.26h-4.53zM152.8 109.5h4.53v1.26h-4.53zM170.9 118.3h4.53v1.26h-4.53zM116.6 119.6h4.53v1.26h-4.53zM112.1 120.8h4.53v1.26h-4.53zM112.1 125.8h4.53v1.26h-4.53zM143.8 127.1h4.53v1.26h-4.53zM170.9 128.4h4.53v1.26h-4.53zM112.1 143.4h4.53v1.26h-4.53zM130.2 144.7h4.53v1.26h-4.53zM139.2 179.9h4.53v1.26h-4.53zM207.2 181.1h4.53v1.26h-4.53zM220.7 182.4h4.53v1.26h-4.53zM166.4 194.9h4.53v1.26h-4.53zM75.8 196.2h4.53v1.26h-4.53zM193.6 197.4h4.53v1.26h-4.53zM107.5 202.5h4.53v1.26h-4.53zM125.6 202.5h4.53v1.26h-4.53zM116.6 207.5h4.53v1.26h-4.53zM180.0 216.3h4.53v1.26h-4.53z"/>
<path fill="#111100" d="M157.3 36.7h4.53v1.26h-4.53zM157.3 54.3h4.53v1.26h-4.53zM157.3 63.0h4.53v1.26h-4.53zM157.3 76.9h4.53v1.26h-4.53zM157.3 80.6h4.53v1.26h-4.53zM157.3 81.9h4.53v1.26h-4.53zM157.3 88.2h4.53v1.26h-4.53zM116.6 90.7h4.53v1.26h-4.53zM157.3 90.7h4.53v1.26h-4.53zM157.3 95.7h4.53v1.26h-4.53zM216.2 102.0h4.53v1.26h-4.53zM157.3 130.9h4.53v1.26h-4.53zM157.3 133.4h4.53v1.26h-4.53zM116.6 152.2h4.53v1.26h-4.53zM202.6 152.2h4.53v1.26h-4.53zM112.1 158.5h4.53v1.26h-4.53zM175.5 202.5h4.53v1.26h-4.53zM107.5 203.7h4.53v1.26h-4.53zM139.2 205.0h4.53v1.26h-4.53z"/>
<path fill="#cc0000" d="M166.4 36.7h4.53v1.26h-4.53zM170.9 36.7h4.53v1.26h-4.53zM71.3 37.9h4.53v1.26h-4.53zM143.8 37.9h4.53v1.26h-4.53zM139.2 40.4h4.53v1.26h-4.53zM71.3 44.2h4.53v1.26h-4.53zM116.6 44.2h4.53v1.26h-4.53zM152.8 44.2h4.53v1.26h-4.53zM175.5 48.0h4.53v1.26h-4.53zM75.8 49.2h4.53v1.26h-4.53zM134.7 49.2h4.53v1.26h-4.53zM143.8 50.5h4.53v1.26h-4.53zM130.2 55.5h4.53v1.26h-4.53zM89.4 56.8h4.53v1.26h-4.53zM84.9 58.0h4.53v1.26h-4.53zM112.1 58.0h4.53v1.26h-4.53zM161.9 58.0h4.53v1.26h-4.53zM125.6 61.8h4.53v1.26h-4.53zM107.5 63.0h4.53v1.26h-4.53zM139.2 64.3h4.53v1.26h-4.53zM170.9 66.8h4.53v1.26h-4.53zM71.3 68.1h4.53v1.26h-4.53zM148.3 71.8h4.53v1.26h-4.53zM93.9 73.1h4.53v1.26h-4.53zM189.0 73.1h4.53v1.26h-4.53zM175.5 75.6h4.53v1.26h-4.53zM198.1 76.9h4.53v1.26h-4.53zM211.7 76.9h4.53v1.26h-4.53zM130.2 78.1h4.53v1.26h-4.53zM148.3 78.1h4.53v1.26h-4.53zM98.5 79.4h4.53v1.26h-4.53zM71.3 83.1h4.53v1.26h-4.53zM112.1 83.1h4.53v1.26h-4.53zM107.5 84.4h4.53v1.26h-4.53zM130.2 84.4h4.53v1.26h-4.53zM166.4 89.4h4.53v1.26h-4.53zM130.2 94.4h4.53v1.26h-4.53zM148.3 95.7h4.53v1.26h-4.53zM166.4 95.7h4.53v1.26h-4.53zM98.5 97.0h4.53v1.26h-4.53zM139.2 97.0h4.53v1.26h-4.53zM71.3 98.2h4.53v1.26h-4.53zM93.9 100.7h4.53v1.26h-4.53zM89.4 102.0h4.53v1.26h-4.53zM112.1 103.2h4.53v1.26h-4.53zM84.9 108.3h4.53v1.26h-4.53zM107.5 108.3h4.53v1.26h-4.53zM139.2 108.3h4.53v1.26h-4.53zM112.1 113.3h4.53v1.26h-4.53zM89.4 114.5h4.53v1.26h-4.53zM116.6 114.5h4.53v1.26h-4.53zM121.1 114.5h4.53v1.26h-4.53zM152.8 114.5h4.53v1.26h-4.53zM134.7 115.8h4.53v1.26h-4.53zM170.9 115.8h4.53v1.26h-4.53zM225.3 120.8h4.53v1.26h-4.53zM143.8 122.1h4.53v1.26h-4.53zM89.4 123.3h4.53v1.26h-4.53zM125.6 124.6h4.53v1.26h-4.53zM107.5 125.8h4.53v1.26h-4.53zM89.4 130.9h4.53v1.26h-4.53zM193.6 130.9h4.53v1.26h-4.53zM161.9 132.1h4.53v1.26h-4.53zM148.3 134.6h4.53v1.26h-4.53zM225.3 134.6h4.53v1.26h-4.53zM148.3 135.9h4.53v1.26h-4.53zM166.4 145.9h4.53v1.26h-4.53zM112.1 148.5h4.53v1.26h-4.53zM193.6 148.5h4.53v1.26h-4.53zM189.0 149.7h4.53v1.26h-4.53zM148.3 152.2h4.53v1.26h-4.53zM116.6 153.5h4.53v1.26h-4.53zM193.6 153.5h4.53v1.26h-4.53zM112.1 154.7h4.53v1.26h-4.53zM189.0 154.7h4.53v1.26h-4.53zM202.6 154.7h4.53v1.26h-4.53zM112.1 157.2h4.53v1.26h-4.53zM189.0 157.2h4.53v1.26h-4.53zM225.3 158.5h4.53v1.26h-4.53zM216.2 162.3h4.53v1.26h-4.53zM75.8 164.8h4.53v1.26h-4.53zM125.6 164.8h4.53v1.26h-4.53zM184.5 164.8h4.53v1.26h-4.53zM225.3 164.8h4.53v1.26h-4.53zM202.6 166.0h4.53v1.26h-4.53zM161.9 173.6h4.53v1.26h-4.53zM207.2 173.6h4.53v1.26h-4.53zM211.7 173.6h4.53v1.26h-4.53zM198.1 174.8h4.53v1.26h-4.53zM75.8 176.1h4.53v1.26h-4.53zM225.3 176.1h4.53v1.26h-4.53zM220.7 177.3h4.53v1.26h-4.53zM225.3 178.6h4.53v1.26h-4.53zM170.9 179.9h4.53v1.26h-4.53zM225.3 179.9h4.53v1.26h-4.53zM161.9 181.1h4.53v1.26h-4.53zM107.5 182.4h4.53v1.26h-4.53zM216.2 182.4h4.53v1.26h-4.53zM148.3 183.6h4.53v1.26h-4.53zM193.6 183.6h4.53v1.26h-4.53zM193.6 184.9h4.53v1.26h-4.53zM180.0 187.4h4.53v1.26h-4.53zM193.6 188.6h4.53v1.26h-4.53zM139.2 189.9h4.53v1.26h-4.53zM170.9 189.9h4.53v1.26h-4.53zM112.1 191.2h4.53v1.26h-4.53zM198.1 191.2h4.53v1.26h-4.53zM211.7 191.2h4.53v1.26h-4.53zM225.3 191.2h4.53v1.26h-4.53zM193.6 192.4h4.53v1.26h-4.53zM207.2 192.4h4.53v1.26h-4.53zM193.6 193.7h4.53v1.26h-4.53zM180.0 194.9h4.53v1.26h-4.53zM98.5 196.2h4.53v1.26h-4.53zM143.8 196.2h4.53v1.26h-4.53zM157.3 196.2h4.53v1.26h-4.53zM170.9 196.2h4.53v1.26h-4.53zM175.5 196.2h4.53v1.26h-4.53zM211.7 197.4h4.53v1.26h-4.53zM161.9 198.7h4.53v1.26h-4.53zM166.4 198.7h4.53v1.26h-4.53zM175.5 198.7h4.53v1.26h-4.53zM216.2 198.7h4.53v1.26h-4.53zM103.0 199.9h4.53v1.26h-4.53zM107.5 199.9h4.53v1.26h-4.53zM98.5 201.2h4.53v1.26h-4.53zM180.0 201.2h4.53v1.26h-4.53zM207.2 201.2h4.53v1.26h-4.53zM225.3 201.2h4.53v1.26h-4.53zM216.2 202.5h4.53v1.26h-4.53zM184.5 203.7h4.53v1.26h-4.53zM193.6 203.7h4.53v1.26h-4.53zM216.2 203.7h4.53v1.26h-4.53zM107.5 205.0h4.53v1.26h-4.53zM71.3 206.2h4.53v1.26h-4.53zM220.7 206.2h4.53v1.26h-4.53zM220.7 207.5h4.53v1.26h-4.53zM112.1 208.7h4.53v1.26h-4.53zM198.1 208.7h4.53v1.26h-4.53zM202.6 208.7h4.53v1.26h-4.53zM84.9 210.0h4.53v1.26h-4.53zM207.2 211.3h4.53v1.26h-4.53zM121.1 212.5h4.53v1.26h-4.53zM148.3 212.5h4.53v1.26h-4.53zM161.9 212.5h4.53v1.26h-4.53zM207.2 212.5h4.53v1.26h-4.53zM75.8 213.8h4.53v1.26h-4.53zM220.7 215.0h4.53v1.26h-4.53zM75.8 216.3h4.53v1.26h-4.53zM84.9 216.3h4.53v1.26h-4.53zM93.9 216.3h4.53v1.26h-4.53zM112.1 216.3h4.53v1.26h-4.53zM216.2 216.3h4.53v1.26h-4.53zM107.5 220.0h4.53v1.26h-4.53zM157.3 220.0h4.53v1.26h-4.53z"/>
<path fill="#885500" d="M107.5 37.9h4.53v1.26h-4.53zM121.1 64.3h4.53v1.26h-4.53zM134.7 128.4h4.53v1.26h-4.53z"/>
<path fill="#226600" d="M148.3 37.9h4.53v1.26h-4.53zM107.5 44.2h4.53v1.26h-4.53zM134.7 54.3h4.53v1.26h-4.53zM71.3 56.8h4.53v1.26h-4.53zM193.6 58.0h4.53v1.26h-4.53zM175.5 66.8h4.53v1.26h-4.53zM143.8 79.4h4.53v1.26h-4.53zM121.1 80.6h4.53v1.26h-4.53zM71.3 127.1h4.53v1.26h-4.53zM121.1 130.9h4.53v1.26h-4.53zM134.7 133.4h4.53v1.26h-4.53zM225.3 133.4h4.53v1.26h-4.53zM93.9 139.7h4.53v1.26h-4.53zM180.0 148.5h4.53v1.26h-4.53zM130.2 151.0h4.53v1.26h-4.53zM121.1 154.7h4.53v1.26h-4.53zM93.9 168.5h4.53v1.26h-4.53zM116.6 168.5h4.53v1.26h-4.53zM103.0 173.6h4.53v1.26h-4.53zM157.3 181.1h4.53v1.26h-4.53zM157.3 183.6h4.53v1.26h-4.53zM93.9 194.9h4.53v1.26h-4.53zM98.5 197.4h4.53v1.26h-4.53zM143.8 198.7h4.53v1.26h-4.53zM71.3 203.7h4.53v1.26h-4.53zM130.2 212.5h4.53v1.26h-4.53z"/>
<path fill="#337700" d="M103.0 39.2h4.53v1.26h-4.53zM175.5 61.8h4.53v1.26h-4.53zM125.6 74.3h4.53v1.26h-4.53zM116.6 84.4h4.53v1.26h-4.53zM134.7 88.2h4.53v1.26h-4.53zM121.1 103.2h4.53v1.26h-4.53zM121.1 115.8h4.53v1.26h-4.53zM112.1 118.3h4.53v1.26h-4.53zM134.7 122.1h4.53v1.26h-4.53zM121.1 125.8h4.53v1.26h-4.53zM98.5 147.2h4.53v1.26h-4.53zM80.4 151.0h4.53v1.26h-4.53zM184.5 153.5h4.53v1.26h-4.53zM125.6 163.5h4.53v1.26h-4.53zM148.3 172.3h4.53v1.26h-4.53zM134.7 174.8h4.53v1.26h-4.53zM157.3 203.7h4.53v1.26h-4.53zM180.0 217.5h4.53v1.26h-4.53z"/>
<path fill="#774400" d="M107.5 39.2h4.53v1.26h-4.53zM98.5 50.5h4.53v1.26h-4.53zM166.4 58.0h4.53v1.26h-4.53zM166.4 74.3h4.53v1.26h-4.53zM116.6 122.1h4.53v1.26h-4.53zM193.6 174.8h4.53v1.26h-4.53z"/>
<path fill="#661100" d="M152.8 39.2h4.53v1.26h-4.53zM143.8 80.6h4.53v1.26h-4.53zM116.6 104.5h4.53v1.26h-4.53zM121.1 107.0h4.53v1.26h-4.53zM170.9 151.0h4.53v1.26h-4.53zM166.4 153.5h4.53v1.26h-4.53zM170.9 191.2h4.53v1.26h-4.53zM184.5 191.2h4.53v1.26h-4.53zM202.6 191.2h4.53v1.26h-4.53z"/>
<path fill="#773300" d="M161.9 39.2h4.53v1.26h-4.53zM130.2 59.3h4.53v1.26h-4.53zM170.9 76.9h4.53v1.26h-4.53zM103.0 83.1h4.53v1.26h-4.53zM225.3 163.5h4.53v1.26h-4.53zM211.7 187.4h4.53v1.26h-4.53z"/>
<path fill="#112200" d="M193.6 39.2h4.53v1.26h-4.53zM225.3 39.2h4.53v1.26h-4.53zM207.2 40.4h4.53v1.26h-4.53zM180.0 46.7h4.53v1.26h-4.53zM157.3 51.7h4.53v1.26h-4.53zM184.5 60.5h4.53v1.26h-4.53zM157.3 61.8h4.53v1.26h-4.53zM157.3 65.6h4.53v1.26h-4.53zM157.3 78.1h4.53v1.26h-4.53zM157.3 83.1h4.53v1.26h-4.53zM207.2 89.4h4.53v1.26h-4.53zM211.7 89.4h4.53v1.26h-4.53zM189.0 90.7h4.53v1.26h-4.53zM71.3 105.7h4.53v1.26h-4.53zM89.4 110.8h4.53v1.26h-4.53zM148.3 120.8h4.53v1.26h-4.53zM75.8 132.1h4.53v1.26h-4.53zM157.3 142.2h4.53v1.26h-4.53zM116.6 144.7h4.53v1.26h-4.53zM175.5 148.5h4.53v1.26h-4.53zM103.0 156.0h4.53v1.26h-4.53zM166.4 161.0h4.53v1.26h-4.53zM107.5 174.8h4.53v1.26h-4.53zM80.4 179.9h4.53v1.26h-4.53zM84.9 179.9h4.53v1.26h-4.53zM184.5 179.9h4.53v1.26h-4.53zM152.8 187.4h4.53v1.26h-4.53zM116.6 191.2h4.53v1.26h-4.53zM175.5 203.7h4.53v1.26h-4.53zM125.6 210.0h4.53v1.26h-4.53z"/>
<path fill="#552200" d="M75.8 40.4h4.53v1.26h-4.53zM93.9 45.5h4.53v1.26h-4.53zM166.4 51.7h4.53v1.26h-4.53zM89.4 54.3h4.53v1.26h-4.53zM216.2 56.8h4.53v1.26h-4.53zM130.2 58.0h4.53v1.26h-4.53zM175.5 58.0h4.53v1.26h-4.53zM125.6 60.5h4.53v1.26h-4.53zM152.8 60.5h4.53v1.26h-4.53zM152.8 69.3h4.53v1.26h-4.53zM220.7 71.8h4.53v1.26h-4.53zM125.6 80.6h4.53v1.26h-4.53zM170.9 83.1h4.53v1.26h-4.53zM148.3 89.4h4.53v1.26h-4.53zM84.9 90.7h4.53v1.26h-4.53zM121.1 93.2h4.53v1.26h-4.53zM121.1 95.7h4.53v1.26h-4.53zM103.0 102.0h4.53v1.26h-4.53zM80.4 109.5h4.53v1.26h-4.53zM80.4 110.8h4.53v1.26h-4.53zM125.6 113.3h4.53v1.26h-4.53zM207.2 113.3h4.53v1.26h-4.53zM107.5 133.4h4.53v1.26h-4.53zM98.5 135.9h4.53v1.26h-4.53zM98.5 162.3h4.53v1.26h-4.53zM189.0 167.3h4.53v1.26h-4.53zM180.0 176.1h4.53v1.26h-4.53zM193.6 176.1h4.53v1.26h-4.53zM107.5 177.3h4.53v1.26h-4.53zM161.9 177.3h4.53v1.26h-4.53zM189.0 183.6h4.53v1.26h-4.53zM216.2 205.0h4.53v1.26h-4.53z"/>
<path fill="#113300" d="M80.4 40.4h4.53v1.26h-4.53zM80.4 53.0h4.53v1.26h-4.53zM184.5 55.5h4.53v1.26h-4.53zM80.4 60.5h4.53v1.26h-4.53zM148.3 73.1h4.53v1.26h-4.53zM202.6 89.4h4.53v1.26h-4.53zM184.5 99.5h4.53v1.26h-4.53zM134.7 100.7h4.53v1.26h-4.53zM184.5 107.0h4.53v1.26h-4.53zM71.3 109.5h4.53v1.26h-4.53zM170.9 120.8h4.53v1.26h-4.53zM170.9 125.8h4.53v1.26h-4.53zM207.2 140.9h4.53v1.26h-4.53zM184.5 142.2h4.53v1.26h-4.53zM71.3 159.8h4.53v1.26h-4.53zM80.4 159.8h4.53v1.26h-4.53zM148.3 177.3h4.53v1.26h-4.53zM157.3 179.9h4.53v1.26h-4.53zM71.3 184.9h4.53v1.26h-4.53zM98.5 184.9h4.53v1.26h-4.53zM121.1 187.4h4.53v1.26h-4.53zM107.5 196.2h4.53v1.26h-4.53z"/>
<path fill="#880000" d="M93.9 40.4h4.53v1.26h-4.53zM103.0 40.4h4.53v1.26h-4.53zM170.9 42.9h4.53v1.26h-4.53zM75.8 44.2h4.53v1.26h-4.53zM130.2 44.2h4.53v1.26h-4.53zM143.8 44.2h4.53v1.26h-4.53zM148.3 44.2h4.53v1.26h-4.53zM121.1 45.5h4.53v1.26h-4.53zM148.3 45.5h4.53v1.26h-4.53zM75.8 46.7h4.53v1.26h-4.53zM89.4 46.7h4.53v1.26h-4.53zM152.8 46.7h4.53v1.26h-4.53zM152.8 49.2h4.53v1.26h-4.53zM170.9 49.2h4.53v1.26h-4.53zM89.4 50.5h4.53v1.26h-4.53zM148.3 50.5h4.53v1.26h-4.53zM71.3 53.0h4.53v1.26h-4.53zM134.7 53.0h4.53v1.26h-4.53zM152.8 53.0h4.53v1.26h-4.53zM143.8 54.3h4.53v1.26h-4.53zM184.5 56.8h4.53v1.26h-4.53zM207.2 56.8h4.53v1.26h-4.53zM71.3 59.3h4.53v1.26h-4.53zM148.3 59.3h4.53v1.26h-4.53zM75.8 60.5h4.53v1.26h-4.53zM184.5 61.8h4.53v1.26h-4.53zM71.3 63.0h4.53v1.26h-4.53zM175.5 64.3h4.53v1.26h-4.53zM80.4 66.8h4.53v1.26h-4.53zM89.4 70.6h4.53v1.26h-4.53zM207.2 73.1h4.53v1.26h-4.53zM130.2 75.6h4.53v1.26h-4.53zM125.6 78.1h4.53v1.26h-4.53zM170.9 80.6h4.53v1.26h-4.53zM98.5 81.9h4.53v1.26h-4.53zM116.6 83.1h4.53v1.26h-4.53zM71.3 84.4h4.53v1.26h-4.53zM139.2 84.4h4.53v1.26h-4.53zM75.8 86.9h4.53v1.26h-4.53zM103.0 86.9h4.53v1.26h-4.53zM121.1 88.2h4.53v1.26h-4.53zM93.9 93.2h4.53v1.26h-4.53zM148.3 99.5h4.53v1.26h-4.53zM107.5 103.2h4.53v1.26h-4.53zM112.1 104.5h4.53v1.26h-4.53zM98.5 107.0h4.53v1.26h-4.53zM107.5 107.0h4.53v1.26h-4.53zM130.2 108.3h4.53v1.26h-4.53zM121.1 109.5h4.53v1.26h-4.53zM166.4 109.5h4.53v1.26h-4.53zM103.0 110.8h4.53v1.26h-4.53zM71.3 118.3h4.53v1.26h-4.53zM166.4 122.1h4.53v1.26h-4.53zM98.5 130.9h4.53v1.26h-4.53zM130.2 130.9h4.53v1.26h-4.53zM161.9 130.9h4.53v1.26h-4.53zM89.4 139.7h4.53v1.26h-4.53zM107.5 139.7h4.53v1.26h-4.53zM143.8 142.2h4.53v1.26h-4.53zM175.5 142.2h4.53v1.26h-4.53zM71.3 143.4h4.53v1.26h-4.53zM125.6 145.9h4.53v1.26h-4.53zM143.8 147.2h4.53v1.26h-4.53zM161.9 147.2h4.53v1.26h-4.53zM202.6 147.2h4.53v1.26h-4.53zM220.7 147.2h4.53v1.26h-4.53zM220.7 148.5h4.53v1.26h-4.53zM225.3 148.5h4.53v1.26h-4.53zM220.7 151.0h4.53v1.26h-4.53zM189.0 152.2h4.53v1.26h-4.53zM211.7 152.2h4.53v1.26h-4.53zM220.7 152.2h4.53v1.26h-4.53zM189.0 153.5h4.53v1.26h-4.53zM220.7 153.5h4.53v1.26h-4.53zM98.5 154.7h4.53v1.26h-4.53zM161.9 154.7h4.53v1.26h-4.53zM225.3 154.7h4.53v1.26h-4.53zM207.2 157.2h4.53v1.26h-4.53zM211.7 158.5h4.53v1.26h-4.53zM89.4 159.8h4.53v1.26h-4.53zM207.2 159.8h4.53v1.26h-4.53zM170.9 161.0h4.53v1.26h-4.53zM189.0 163.5h4.53v1.26h-4.53zM207.2 163.5h4.53v1.26h-4.53zM189.0 164.8h4.53v1.26h-4.53zM84.9 168.5h4.53v1.26h-4.53zM103.0 168.5h4.53v1.26h-4.53zM121.1 168.5h4.53v1.26h-4.53zM166.4 168.5h4.53v1.26h-4.53zM134.7 169.8h4.53v1.26h-4.53zM184.5 171.1h4.53v1.26h-4.53zM161.9 172.3h4.53v1.26h-4.53zM225.3 172.3h4.53v1.26h-4.53zM220.7 173.6h4.53v1.26h-4.53zM143.8 174.8h4.53v1.26h-4.53zM112.1 176.1h4.53v1.26h-4.53zM148.3 176.1h4.53v1.26h-4.53zM202.6 176.1h4.53v1.26h-4.53zM220.7 176.1h4.53v1.26h-4.53zM130.2 178.6h4.53v1.26h-4.53zM148.3 181.1h4.53v1.26h-4.53zM193.6 181.1h4.53v1.26h-4.53zM161.9 182.4h4.53v1.26h-4.53zM103.0 184.9h4.53v1.26h-4.53zM152.8 184.9h4.53v1.26h-4.53zM139.2 186.1h4.53v1.26h-4.53zM202.6 188.6h4.53v1.26h-4.53zM207.2 188.6h4.53v1.26h-4.53zM125.6 192.4h4.53v1.26h-4.53zM89.4 193.7h4.53v1.26h-4.53zM184.5 194.9h4.53v1.26h-4.53zM166.4 196.2h4.53v1.26h-4.53zM211.7 196.2h4.53v1.26h-4.53zM225.3 196.2h4.53v1.26h-4.53zM166.4 197.4h4.53v1.26h-4.53zM170.9 197.4h4.53v1.26h-4.53zM202.6 197.4h4.53v1.26h-4.53zM225.3 197.4h4.53v1.26h-4.53zM84.9 198.7h4.53v1.26h-4.53zM93.9 198.7h4.53v1.26h-4.53zM134.7 199.9h4.53v1.26h-4.53zM143.8 199.9h4.53v1.26h-4.53zM148.3 199.9h4.53v1.26h-4.53zM184.5 199.9h4.53v1.26h-4.53zM193.6 199.9h4.53v1.26h-4.53zM71.3 201.2h4.53v1.26h-4.53zM166.4 201.2h4.53v1.26h-4.53zM98.5 202.5h4.53v1.26h-4.53zM157.3 202.5h4.53v1.26h-4.53zM103.0 205.0h4.53v1.26h-4.53zM112.1 205.0h4.53v1.26h-4.53zM80.4 206.2h4.53v1.26h-4.53zM84.9 206.2h4.53v1.26h-4.53zM207.2 206.2h4.53v1.26h-4.53zM121.1 208.7h4.53v1.26h-4.53zM170.9 208.7h4.53v1.26h-4.53zM75.8 210.0h4.53v1.26h-4.53zM116.6 210.0h4.53v1.26h-4.53zM134.7 210.0h4.53v1.26h-4.53zM175.5 210.0h4.53v1.26h-4.53zM71.3 211.3h4.53v1.26h-4.53zM107.5 212.5h4.53v1.26h-4.53zM161.9 213.8h4.53v1.26h-4.53zM189.0 213.8h4.53v1.26h-4.53zM139.2 216.3h4.53v1.26h-4.53zM202.6 217.5h4.53v1.26h-4.53zM220.7 217.5h4.53v1.26h-4.53zM112.1 220.0h4.53v1.26h-4.53z"/>
<path fill="#881100" d="M112.1 41.7h4.53v1.26h-4.53zM93.9 50.5h4.53v1.26h-4.53zM75.8 68.1h4.53v1.26h-4.53zM148.3 105.7h4.53v1.26h-4.53z"/>
<path fill="#336600" d="M116.6 41.7h4.53v1.26h-4.53zM93.9 64.3h4.53v1.26h-4.53zM125.6 68.1h4.53v1.26h-4.53zM93.9 78.1h4.53v1.26h-4.53zM84.9 86.9h4.53v1.26h-4.53zM148.3 107.0h4.53v1.26h-4.53zM84.9 118.3h4.53v1.26h-4.53zM125.6 129.6h4.53v1.26h-4.53zM130.2 174.8h4.53v1.26h-4.53zM143.8 177.3h4.53v1.26h-4.53zM134.7 186.1h4.53v1.26h-4.53zM216.2 207.5h4.53v1.26h-4.53zM103.0 213.8h4.53v1.26h-4.53zM143.8 213.8h4.53v1.26h-4.53z"/>
<path fill="#772200" d="M84.9 42.9h4.53v1.26h-4.53zM130.2 42.9h4.53v1.26h-4.53zM139.2 44.2h4.53v1.26h-4.53zM134.7 75.6h4.53v1.26h-4.53zM134.7 109.5h4.53v1.26h-4.53zM130.2 122.1h4.53v1.26h-4.53zM130.2 125.8h4.53v1.26h-4.53zM107.5 132.1h4.53v1.26h-4.53zM116.6 135.9h4.53v1.26h-4.53zM202.6 198.7h4.53v1.26h-4.53zM193.6 216.3h4.53v1.26h-4.53z"/>
<path fill="#444400" d="M103.0 42.9h4.53v1.26h-4.53zM130.2 46.7h4.53v1.26h-4.53zM98.5 65.6h4.53v1.26h-4.53zM107.5 66.8h4.53v1.26h-4.53zM121.1 69.3h4.53v1.26h-4.53zM116.6 70.6h4.53v1.26h-4.53zM84.9 78.1h4.53v1.26h-4.53zM112.1 81.9h4.53v1.26h-4.53zM93.9 84.4h4.53v1.26h-4.53zM143.8 89.4h4.53v1.26h-4.53zM166.4 90.7h4.53v1.26h-4.53zM103.0 93.2h4.53v1.26h-4.53zM170.9 113.3h4.53v1.26h-4.53zM125.6 118.3h4.53v1.26h-4.53zM71.3 120.8h4.53v1.26h-4.53zM216.2 124.6h4.53v1.26h-4.53zM143.8 130.9h4.53v1.26h-4.53zM161.9 133.4h4.53v1.26h-4.53zM84.9 135.9h4.53v1.26h-4.53zM161.9 139.7h4.53v1.26h-4.53zM112.1 144.7h4.53v1.26h-4.53zM148.3 149.7h4.53v1.26h-4.53zM93.9 161.0h4.53v1.26h-4.53zM202.6 162.3h4.53v1.26h-4.53zM75.8 167.3h4.53v1.26h-4.53zM180.0 179.9h4.53v1.26h-4.53zM130.2 181.1h4.53v1.26h-4.53zM89.4 191.2h4.53v1.26h-4.53zM130.2 192.4h4.53v1.26h-4.53zM98.5 206.2h4.53v1.26h-4.53zM89.4 210.0h4.53v1.26h-4.53z"/>
<path fill="#553300" d="M112.1 42.9h4.53v1.26h-4.53zM125.6 46.7h4.53v1.26h-4.53zM93.9 74.3h4.53v1.26h-4.53zM152.8 83.1h4.53v1.26h-4.53zM170.9 86.9h4.53v1.26h-4.53zM175.5 114.5h4.53v1.26h-4.53zM80.4 142.2h4.53v1.26h-4.53zM152.8 147.2h4.53v1.26h-4.53zM80.4 149.7h4.53v1.26h-4.53zM103.0 149.7h4.53v1.26h-4.53zM148.3 157.2h4.53v1.26h-4.53zM220.7 179.9h4.53v1.26h-4.53zM152.8 198.7h4.53v1.26h-4.53zM112.1 199.9h4.53v1.26h-4.53zM125.6 199.9h4.53v1.26h-4.53zM202.6 205.0h4.53v1.26h-4.53zM161.9 206.2h4.53v1.26h-4.53z"/>
<path fill="#555500" d="M125.6 42.9h4.53v1.26h-4.53zM116.6 49.2h4.53v1.26h-4.53zM161.9 93.2h4.53v1.26h-4.53zM130.2 97.0h4.53v1.26h-4.53zM170.9 148.5h4.53v1.26h-4.53z"/>
<path fill="#557700" d="M166.4 42.9h4.53v1.26h-4.53zM166.4 59.3h4.53v1.26h-4.53zM107.5 64.3h4.53v1.26h-4.53zM112.1 65.6h4.53v1.26h-4.53zM103.0 109.5h4.53v1.26h-4.53zM134.7 113.3h4.53v1.26h-4.53z"/>
<path fill="#331100" d="M75.8 45.5h4.53v1.26h-4.53zM130.2 88.2h4.53v1.26h-4.53zM175.5 90.7h4.53v1.26h-4.53zM84.9 95.7h4.53v1.26h-4.53zM148.3 119.6h4.53v1.26h-4.53zM207.2 119.6h4.53v1.26h-4.53zM220.7 120.8h4.53v1.26h-4.53zM139.2 134.6h4.53v1.26h-4.53zM189.0 151.0h4.53v1.26h-4.53zM202.6 156.0h4.53v1.26h-4.53zM112.1 171.1h4.53v1.26h-4.53zM189.0 186.1h4.53v1.26h-4.53zM211.7 208.7h4.53v1.26h-4.53zM80.4 211.3h4.53v1.26h-4.53zM216.2 218.8h4.53v1.26h-4.53z"/>
<path fill="#882200" d="M89.4 45.5h4.53v1.26h-4.53zM103.0 45.5h4.53v1.26h-4.53zM112.1 53.0h4.53v1.26h-4.53zM75.8 64.3h4.53v1.26h-4.53zM112.1 71.8h4.53v1.26h-4.53zM93.9 75.6h4.53v1.26h-4.53zM175.5 84.4h4.53v1.26h-4.53zM130.2 86.9h4.53v1.26h-4.53zM143.8 95.7h4.53v1.26h-4.53zM130.2 107.0h4.53v1.26h-4.53zM152.8 115.8h4.53v1.26h-4.53zM116.6 140.9h4.53v1.26h-4.53zM225.3 167.3h4.53v1.26h-4.53z"/>
<path fill="#222200" d="M143.8 46.7h4.53v1.26h-4.53zM93.9 58.0h4.53v1.26h-4.53zM170.9 58.0h4.53v1.26h-4.53zM216.2 58.0h4.53v1.26h-4.53zM193.6 61.8h4.53v1.26h-4.53zM202.6 61.8h4.53v1.26h-4.53zM75.8 65.6h4.53v1.26h-4.53zM143.8 65.6h4.53v1.26h-4.53zM121.1 68.1h4.53v1.26h-4.53zM134.7 68.1h4.53v1.26h-4.53zM220.7 69.3h4.53v1.26h-4.53zM184.5 73.1h4.53v1.26h-4.53zM71.3 75.6h4.53v1.26h-4.53zM75.8 75.6h4.53v1.26h-4.53zM89.4 75.6h4.53v1.26h-4.53zM130.2 79.4h4.53v1.26h-4.53zM202.6 80.6h4.53v1.26h-4.53zM80.4 81.9h4.53v1.26h-4.53zM202.6 83.1h4.53v1.26h-4.53zM143.8 85.7h4.53v1.26h-4.53zM193.6 89.4h4.53v1.26h-4.53zM175.5 91.9h4.53v1.26h-4.53zM189.0 94.4h4.53v1.26h-4.53zM193.6 94.4h4.53v1.26h-4.53zM211.7 95.7h4.53v1.26h-4.53zM121.1 97.0h4.53v1.26h-4.53zM116.6 98.2h4.53v1.26h-4.53zM143.8 98.2h4.53v1.26h-4.53zM71.3 100.7h4.53v1.26h-4.53zM193.6 100.7h4.53v1.26h-4.53zM207.2 100.7h4.53v1.26h-4.53zM107.5 102.0h4.53v1.26h-4.53zM143.8 102.0h4.53v1.26h-4.53zM170.9 102.0h4.53v1.26h-4.53zM175.5 103.2h4.53v1.26h-4.53zM180.0 104.5h4.53v1.26h-4.53zM80.4 107.0h4.53v1.26h-4.53zM211.7 108.3h4.53v1.26h-4.53zM180.0 109.5h4.53v1.26h-4.53zM161.9 110.8h4.53v1.26h-4.53zM180.0 110.8h4.53v1.26h-4.53zM93.9 117.1h4.53v1.26h-4.53zM75.8 118.3h4.53v1.26h-4.53zM134.7 120.8h4.53v1.26h-4.53zM207.2 120.8h4.53v1.26h-4.53zM98.5 124.6h4.53v1.26h-4.53zM193.6 124.6h4.53v1.26h-4.53zM125.6 125.8h4.53v1.26h-4.53zM121.1 127.1h4.53v1.26h-4.53zM130.2 129.6h4.53v1.26h-4.53zM198.1 129.6h4.53v1.26h-4.53zM139.2 130.9h4.53v1.26h-4.53zM207.2 130.9h4.53v1.26h-4.53zM220.7 130.9h4.53v1.26h-4.53zM93.9 142.2h4.53v1.26h-4.53zM112.1 145.9h4.53v1.26h-4.53zM80.4 147.2h4.53v1.26h-4.53zM139.2 148.5h4.53v1.26h-4.53zM75.8 149.7h4.53v1.26h-4.53zM121.1 156.0h4.53v1.26h-4.53zM207.2 156.0h4.53v1.26h-4.53zM80.4 157.2h4.53v1.26h-4.53zM121.1 161.0h4.53v1.26h-4.53zM225.3 166.0h4.53v1.26h-4.53zM152.8 171.1h4.53v1.26h-4.53zM80.4 181.1h4.53v1.26h-4.53zM103.0 181.1h4.53v1.26h-4.53zM116.6 181.1h4.53v1.26h-4.53zM184.5 181.1h4.53v1.26h-4.53zM93.9 183.6h4.53v1.26h-4.53zM107.5 183.6h4.53v1.26h-4.53zM80.4 184.9h4.53v1.26h-4.53zM175.5 187.4h4.53v1.26h-4.53zM103.0 192.4h4.53v1.26h-4.53zM130.2 193.7h4.53v1.26h-4.53zM161.9 196.2h4.53v1.26h-4.53zM93.9 197.4h4.53v1.26h-4.53zM161.9 197.4h4.53v1.26h-4.53zM207.2 198.7h4.53v1.26h-4.53zM89.4 199.9h4.53v1.26h-4.53zM193.6 202.5h4.53v1.26h-4.53zM211.7 205.0h4.53v1.26h-4.53zM198.1 212.5h4.53v1.26h-4.53zM216.2 212.5h4.53v1.26h-4.53zM170.9 213.8h4.53v1.26h-4.53zM216.2 215.0h4.53v1.26h-4.53zM161.9 220.0h4.53v1.26h-4.53z"/>
<path fill="#662200" d="M175.5 46.7h4.53v1.26h-4.53zM134.7 55.5h4.53v1.26h-4.53zM148.3 74.3h4.53v1.26h-4.53zM143.8 83.1h4.53v1.26h-4.53zM161.9 113.3h4.53v1.26h-4.53zM112.1 123.3h4.53v1.26h-4.53zM180.0 130.9h4.53v1.26h-4.53zM148.3 137.1h4.53v1.26h-4.53zM112.1 152.2h4.53v1.26h-4.53zM220.7 159.8h4.53v1.26h-4.53zM180.0 162.3h4.53v1.26h-4.53zM161.9 163.5h4.53v1.26h-4.53zM116.6 164.8h4.53v1.26h-4.53zM125.6 167.3h4.53v1.26h-4.53zM134.7 167.3h4.53v1.26h-4.53zM116.6 171.1h4.53v1.26h-4.53zM103.0 174.8h4.53v1.26h-4.53zM121.1 176.1h4.53v1.26h-4.53zM207.2 176.1h4.53v1.26h-4.53zM166.4 178.6h4.53v1.26h-4.53zM143.8 193.7h4.53v1.26h-4.53zM211.7 193.7h4.53v1.26h-4.53zM84.9 197.4h4.53v1.26h-4.53zM216.2 197.4h4.53v1.26h-4.53zM220.7 202.5h4.53v1.26h-4.53zM166.4 213.8h4.53v1.26h-4.53zM121.1 216.3h4.53v1.26h-4.53z"/>
<path fill="#441100" d="M125.6 49.2h4.53v1.26h-4.53zM143.8 58.0h4.53v1.26h-4.53zM161.9 78.1h4.53v1.26h-4.53zM189.0 89.4h4.53v1.26h-4.53zM216.2 95.7h4.53v1.26h-4.53zM143.8 113.3h4.53v1.26h-4.53zM189.0 143.4h4.53v1.26h-4.53zM143.8 159.8h4.53v1.26h-4.53zM207.2 171.1h4.53v1.26h-4.53zM139.2 178.6h4.53v1.26h-4.53zM112.1 186.1h4.53v1.26h-4.53zM93.9 203.7h4.53v1.26h-4.53zM211.7 210.0h4.53v1.26h-4.53z"/>
<path fill="#446600" d="M75.8 50.5h4.53v1.26h-4.53zM98.5 53.0h4.53v1.26h-4.53zM93.9 88.2h4.53v1.26h-4.53zM193.6 117.1h4.53v1.26h-4.53zM75.8 172.3h4.53v1.26h-4.53zM121.1 174.8h4.53v1.26h-4.53zM175.5 197.4h4.53v1.26h-4.53zM143.8 208.7h4.53v1.26h-4.53z"/>
<path fill="#666600" d="M121.1 50.5h4.53v1.26h-4.53zM93.9 54.3h4.53v1.26h-4.53zM170.9 143.4h4.53v1.26h-4.53z"/>
<path fill="#445500" d="M125.6 51.7h4.53v1.26h-4.53zM166.4 60.5h4.53v1.26h-4.53zM130.2 68.1h4.53v1.26h-4.53zM139.2 89.4h4.53v1.26h-4.53zM130.2 93.2h4.53v1.26h-4.53zM121.1 119.6h4.53v1.26h-4.53zM148.3 122.1h4.53v1.26h-4.53zM121.1 157.2h4.53v1.26h-4.53zM134.7 162.3h4.53v1.26h-4.53zM89.4 163.5h4.53v1.26h-4.53zM75.8 199.9h4.53v1.26h-4.53zM175.5 205.0h4.53v1.26h-4.53z"/>
<path fill="#663300" d="M75.8 53.0h4.53v1.26h-4.53zM107.5 54.3h4.53v1.26h-4.53zM89.4 58.0h4.53v1.26h-4.53zM130.2 61.8h4.53v1.26h-4.53zM89.4 64.3h4.53v1.26h-4.53zM103.0 66.8h4.53v1.26h-4.53zM202.6 107.0h4.53v1.26h-4.53zM116.6 118.3h4.53v1.26h-4.53zM130.2 159.8h4.53v1.26h-4.53zM98.5 164.8h4.53v1.26h-4.53zM184.5 178.6h4.53v1.26h-4.53zM71.3 179.9h4.53v1.26h-4.53zM80.4 197.4h4.53v1.26h-4.53zM148.3 213.8h4.53v1.26h-4.53zM157.3 217.5h4.53v1.26h-4.53z"/>
<path fill="#001100" d="M157.3 53.0h4.53v1.26h-4.53zM157.3 71.8h4.53v1.26h-4.53zM157.3 93.2h4.53v1.26h-4.53zM157.3 129.6h4.53v1.26h-4.53z"/>
<path fill="#883300" d="M98.5 54.3h4.53v1.26h-4.53zM75.8 70.6h4.53v1.26h-4.53zM75.8 71.8h4.53v1.26h-4.53zM89.4 71.8h4.53v1.26h-4.53zM103.0 84.4h4.53v1.26h-4.53zM148.3 100.7h4.53v1.26h-4.53zM116.6 110.8h4.53v1.26h-4.53zM134.7 117.1h4.53v1.26h-4.53z"/>
<path fill="#115500" d="M103.0 54.3h4.53v1.26h-4.53zM211.7 60.5h4.53v1.26h-4.53zM80.4 78.1h4.53v1.26h-4.53zM143.8 86.9h4.53v1.26h-4.53zM71.3 90.7h4.53v1.26h-4.53zM166.4 127.1h4.53v1.26h-4.53zM103.0 148.5h4.53v1.26h-4.53zM198.1 152.2h4.53v1.26h-4.53zM116.6 154.7h4.53v1.26h-4.53zM157.3 171.1h4.53v1.26h-4.53zM89.4 189.9h4.53v1.26h-4.53zM157.3 189.9h4.53v1.26h-4.53zM157.3 194.9h4.53v1.26h-4.53zM130.2 206.2h4.53v1.26h-4.53zM148.3 217.5h4.53v1.26h-4.53z"/>
<path fill="#220000" d="M157.3 55.5h4.53v1.26h-4.53zM157.3 58.0h4.53v1.26h-4.53zM157.3 68.1h4.53v1.26h-4.53zM157.3 109.5h4.53v1.26h-4.53zM157.3 117.1h4.53v1.26h-4.53zM157.3 123.3h4.53v1.26h-4.53zM157.3 125.8h4.53v1.26h-4.53zM157.3 134.6h4.53v1.26h-4.53zM157.3 137.1h4.53v1.26h-4.53z"/>
<path fill="#884400" d="M175.5 56.8h4.53v1.26h-4.53zM161.9 60.5h4.53v1.26h-4.53zM148.3 69.3h4.53v1.26h-4.53zM121.1 74.3h4.53v1.26h-4.53zM143.8 114.5h4.53v1.26h-4.53zM166.4 135.9h4.53v1.26h-4.53z"/>
<path fill="#665500" d="M125.6 66.8h4.53v1.26h-4.53zM166.4 80.6h4.53v1.26h-4.53zM139.2 109.5h4.53v1.26h-4.53zM112.1 161.0h4.53v1.26h-4.53zM139.2 163.5h4.53v1.26h-4.53z"/>
<path fill="#116600" d="M134.7 69.3h4.53v1.26h-4.53zM175.5 81.9h4.53v1.26h-4.53zM71.3 103.2h4.53v1.26h-4.53zM98.5 104.5h4.53v1.26h-4.53zM84.9 140.9h4.53v1.26h-4.53zM98.5 168.5h4.53v1.26h-4.53zM157.3 174.8h4.53v1.26h-4.53zM103.0 207.5h4.53v1.26h-4.53zM107.5 216.3h4.53v1.26h-4.53z"/>
<path fill="#002200" d="M157.3 70.6h4.53v1.26h-4.53zM211.7 107.0h4.53v1.26h-4.53zM198.1 108.3h4.53v1.26h-4.53zM157.3 114.5h4.53v1.26h-4.53zM157.3 115.8h4.53v1.26h-4.53zM157.3 122.1h4.53v1.26h-4.53zM157.3 138.4h4.53v1.26h-4.53zM157.3 139.7h4.53v1.26h-4.53zM157.3 140.9h4.53v1.26h-4.53z"/>
<path fill="#775500" d="M75.8 73.1h4.53v1.26h-4.53zM121.1 120.8h4.53v1.26h-4.53z"/>
<path fill="#556600" d="M130.2 73.1h4.53v1.26h-4.53zM116.6 109.5h4.53v1.26h-4.53zM89.4 127.1h4.53v1.26h-4.53zM103.0 139.7h4.53v1.26h-4.53zM175.5 186.1h4.53v1.26h-4.53z"/>
<path fill="#551100" d="M161.9 76.9h4.53v1.26h-4.53zM71.3 95.7h4.53v1.26h-4.53zM116.6 100.7h4.53v1.26h-4.53zM161.9 108.3h4.53v1.26h-4.53zM161.9 143.4h4.53v1.26h-4.53zM125.6 173.6h4.53v1.26h-4.53zM148.3 197.4h4.53v1.26h-4.53zM157.3 198.7h4.53v1.26h-4.53zM134.7 220.0h4.53v1.26h-4.53z"/>
<path fill="#776600" d="M170.9 90.7h4.53v1.26h-4.53zM75.8 124.6h4.53v1.26h-4.53z"/>
<path fill="#664400" d="M161.9 105.7h4.53v1.26h-4.53zM107.5 122.1h4.53v1.26h-4.53zM84.9 143.4h4.53v1.26h-4.53zM134.7 188.6h4.53v1.26h-4.53z"/>
<path fill="#117700" d="M216.2 115.8h4.53v1.26h-4.53zM157.3 145.9h4.53v1.26h-4.53zM166.4 148.5h4.53v1.26h-4.53zM175.5 151.0h4.53v1.26h-4.53zM71.3 193.7h4.53v1.26h-4.53zM75.8 201.2h4.53v1.26h-4.53zM84.9 203.7h4.53v1.26h-4.53zM198.1 203.7h4.53v1.26h-4.53zM80.4 205.0h4.53v1.26h-4.53zM193.6 218.8h4.53v1.26h-4.53z"/>
<rect x="240.00" y="14.60" width="8.80" height="6.00" fill="#2E5597" />
<text x="251.0" y="20.5" font-size="7.6" fill="#111" stroke="#111" stroke-width="0.07" text-anchor="start" >CR</text>
<rect x="266.20" y="14.60" width="8.80" height="6.00" fill="#00B0F0" />
<text x="277.2" y="20.5" font-size="7.6" fill="#111" stroke="#111" stroke-width="0.07" text-anchor="start" >PR</text>
<rect x="292.00" y="14.60" width="8.80" height="6.00" fill="#00B050" />
<text x="303.0" y="20.5" font-size="7.6" fill="#111" stroke="#111" stroke-width="0.07" text-anchor="start" >LS</text>
<rect x="240.00" y="24.30" width="8.80" height="6.00" fill="#FF77CC" />
<text x="251.0" y="30.200000000000003" font-size="7.6" fill="#111" stroke="#111" stroke-width="0.07" text-anchor="start" >SD</text>
<rect x="266.20" y="24.30" width="8.80" height="6.00" fill="#FF0000" />
<text x="277.2" y="30.200000000000003" font-size="7.6" fill="#111" stroke="#111" stroke-width="0.07" text-anchor="start" >PD</text>
<defs><linearGradient id="gA" x1="0" x2="1" y1="0" y2="1" gradientUnits="objectBoundingBox"></linearGradient><linearGradient id="gAh" x1="0" x2="1"><stop offset="0" stop-color="#6CBF30"/><stop offset="0.40" stop-color="#62B52C"/><stop offset="0.49" stop-color="#000"/><stop offset="0.57" stop-color="#E81C18"/><stop offset="1" stop-color="#E81C18"/></linearGradient><linearGradient id="gB" x1="0" x2="1"><stop offset="0" stop-color="#000"/><stop offset="1" stop-color="#FFFF00"/></linearGradient></defs>
<rect x="244.20" y="207.90" width="35.80" height="4.90" fill="url(#gAh)" />
<rect x="246.00" y="212.80" width="0.80" height="1.00" fill="#bbb" />
<rect x="253.90" y="212.80" width="0.80" height="1.00" fill="#bbb" />
<rect x="261.90" y="212.80" width="0.80" height="1.00" fill="#bbb" />
<rect x="269.80" y="212.80" width="0.80" height="1.00" fill="#bbb" />
<rect x="277.80" y="212.80" width="0.80" height="1.00" fill="#bbb" />
<text x="246.2" y="220.2" font-size="5.0" fill="#111" stroke="#111" stroke-width="0.07" text-anchor="middle" >-4</text>
<text x="253.9" y="220.2" font-size="5.0" fill="#111" stroke="#111" stroke-width="0.07" text-anchor="middle" >-2</text>
<text x="262.6" y="220.2" font-size="5.0" fill="#111" stroke="#111" stroke-width="0.07" text-anchor="middle" >0</text>
<text x="270.4" y="220.2" font-size="5.0" fill="#111" stroke="#111" stroke-width="0.07" text-anchor="middle" >2</text>
<text x="278.0" y="220.2" font-size="5.0" fill="#111" stroke="#111" stroke-width="0.07" text-anchor="middle" >4</text>
<text x="328.9" y="12.1" font-size="15.8" fill="#111" stroke="#111" stroke-width="0.07" text-anchor="start" >B</text>
<text x="443.6" y="29.8" font-size="8.33" fill="#111" stroke="#111" stroke-width="0.07" text-anchor="end" >Clinical Response</text>
<text x="459.3" y="11.0" font-size="9.6" fill="#1E961E" stroke="#1E961E" stroke-width="0.07" text-anchor="start" textLength="80.0" lengthAdjust="spacingAndGlyphs">Clinically Benefited</text>
<text x="550.0" y="11.0" font-size="9.4" fill="#FF2222" stroke="#FF2222" stroke-width="0.07" text-anchor="start" textLength="59.3" lengthAdjust="spacingAndGlyphs">Non-Benefited</text>
<rect x="447.20" y="16.50" width="104.40" height="3.00" fill="#009000" />
<rect x="552.80" y="16.50" width="53.40" height="3.00" fill="#FF0000" />
<rect x="446.55" y="20.90" width="4.61" height="9.00" fill="#2E5597" opacity="0.2"/>
<rect x="446.90" y="20.90" width="3.10" height="9.00" fill="#2E5597" />
<rect x="451.16" y="20.90" width="4.61" height="9.00" fill="#2E5597" opacity="0.2"/>
<rect x="451.51" y="20.90" width="3.10" height="9.00" fill="#2E5597" />
<rect x="455.76" y="20.90" width="4.61" height="9.00" fill="#2E5597" opacity="0.2"/>
<rect x="456.11" y="20.90" width="3.10" height="9.00" fill="#2E5597" />
<rect x="460.37" y="20.90" width="4.61" height="9.00" fill="#2E5597" opacity="0.2"/>
<rect x="460.72" y="20.90" width="3.10" height="9.00" fill="#2E5597" />
<rect x="464.97" y="20.90" width="4.61" height="9.00" fill="#2E5597" opacity="0.2"/>
<rect x="465.32" y="20.90" width="3.10" height="9.00" fill="#2E5597" />
<rect x="469.58" y="20.90" width="4.61" height="9.00" fill="#2E5597" opacity="0.2"/>
<rect x="469.93" y="20.90" width="3.10" height="9.00" fill="#2E5597" />
<rect x="474.19" y="20.90" width="4.61" height="9.00" fill="#2E5597" opacity="0.2"/>
<rect x="474.54" y="20.90" width="3.10" height="9.00" fill="#2E5597" />
<rect x="478.79" y="20.90" width="4.61" height="9.00" fill="#00B0F0" opacity="0.2"/>
<rect x="479.14" y="20.90" width="3.10" height="9.00" fill="#00B0F0" />
<rect x="483.40" y="20.90" width="4.61" height="9.00" fill="#00B0F0" opacity="0.2"/>
<rect x="483.75" y="20.90" width="3.10" height="9.00" fill="#00B0F0" />
<rect x="488.00" y="20.90" width="4.61" height="9.00" fill="#00B0F0" opacity="0.2"/>
<rect x="488.35" y="20.90" width="3.10" height="9.00" fill="#00B0F0" />
<rect x="492.61" y="20.90" width="4.61" height="9.00" fill="#00B0F0" opacity="0.2"/>
<rect x="492.96" y="20.90" width="3.10" height="9.00" fill="#00B0F0" />
<rect x="497.22" y="20.90" width="4.61" height="9.00" fill="#00B0F0" opacity="0.2"/>
<rect x="497.57" y="20.90" width="3.10" height="9.00" fill="#00B0F0" />
<rect x="501.82" y="20.90" width="4.61" height="9.00" fill="#00B0F0" opacity="0.2"/>
<rect x="502.17" y="20.90" width="3.10" height="9.00" fill="#00B0F0" />
<rect x="506.43" y="20.90" width="4.61" height="9.00" fill="#00B0F0" opacity="0.2"/>
<rect x="506.78" y="20.90" width="3.10" height="9.00" fill="#00B0F0" />
<rect x="511.03" y="20.90" width="4.61" height="9.00" fill="#00B050" opacity="0.2"/>
<rect x="511.38" y="20.90" width="3.10" height="9.00" fill="#00B050" />
<rect x="515.64" y="20.90" width="4.61" height="9.00" fill="#00B050" opacity="0.2"/>
<rect x="515.99" y="20.90" width="3.10" height="9.00" fill="#00B050" />
<rect x="520.25" y="20.90" width="4.61" height="9.00" fill="#00B050" opacity="0.2"/>
<rect x="520.60" y="20.90" width="3.10" height="9.00" fill="#00B050" />
<rect x="524.85" y="20.90" width="4.61" height="9.00" fill="#00B050" opacity="0.2"/>
<rect x="525.20" y="20.90" width="3.10" height="9.00" fill="#00B050" />
<rect x="529.46" y="20.90" width="4.61" height="9.00" fill="#00B050" opacity="0.2"/>
<rect x="529.81" y="20.90" width="3.10" height="9.00" fill="#00B050" />
<rect x="534.06" y="20.90" width="4.61" height="9.00" fill="#00B050" opacity="0.2"/>
<rect x="534.41" y="20.90" width="3.10" height="9.00" fill="#00B050" />
<rect x="538.67" y="20.90" width="4.61" height="9.00" fill="#00B050" opacity="0.2"/>
<rect x="539.02" y="20.90" width="3.10" height="9.00" fill="#00B050" />
<rect x="543.28" y="20.90" width="4.61" height="9.00" fill="#00B050" opacity="0.2"/>
<rect x="543.63" y="20.90" width="3.10" height="9.00" fill="#00B050" />
<rect x="547.88" y="20.90" width="4.61" height="9.00" fill="#00B050" opacity="0.2"/>
<rect x="548.23" y="20.90" width="3.10" height="9.00" fill="#00B050" />
<rect x="552.49" y="20.90" width="4.61" height="9.00" fill="#FF77CC" opacity="0.2"/>
<rect x="552.84" y="20.90" width="3.10" height="9.00" fill="#FF77CC" />
<rect x="557.09" y="20.90" width="4.61" height="9.00" fill="#FF77CC" opacity="0.2"/>
<rect x="557.44" y="20.90" width="3.10" height="9.00" fill="#FF77CC" />
<rect x="561.70" y="20.90" width="4.61" height="9.00" fill="#FF0000" opacity="0.2"/>
<rect x="562.05" y="20.90" width="3.10" height="9.00" fill="#FF0000" />
<rect x="566.31" y="20.90" width="4.61" height="9.00" fill="#FF0000" opacity="0.2"/>
<rect x="566.66" y="20.90" width="3.10" height="9.00" fill="#FF0000" />
<rect x="570.91" y="20.90" width="4.61" height="9.00" fill="#FF0000" opacity="0.2"/>
<rect x="571.26" y="20.90" width="3.10" height="9.00" fill="#FF0000" />
<rect x="575.52" y="20.90" width="4.61" height="9.00" fill="#FF0000" opacity="0.2"/>
<rect x="575.87" y="20.90" width="3.10" height="9.00" fill="#FF0000" />
<rect x="580.12" y="20.90" width="4.61" height="9.00" fill="#FF0000" opacity="0.2"/>
<rect x="580.47" y="20.90" width="3.10" height="9.00" fill="#FF0000" />
<rect x="584.73" y="20.90" width="4.61" height="9.00" fill="#FF0000" opacity="0.2"/>
<rect x="585.08" y="20.90" width="3.10" height="9.00" fill="#FF0000" />
<rect x="589.34" y="20.90" width="4.61" height="9.00" fill="#FF0000" opacity="0.2"/>
<rect x="589.69" y="20.90" width="3.10" height="9.00" fill="#FF0000" />
<rect x="593.94" y="20.90" width="4.61" height="9.00" fill="#FF0000" opacity="0.2"/>
<rect x="594.29" y="20.90" width="3.10" height="9.00" fill="#FF0000" />
<rect x="598.55" y="20.90" width="4.61" height="9.00" fill="#FF0000" opacity="0.2"/>
<rect x="598.90" y="20.90" width="3.10" height="9.00" fill="#FF0000" />
<rect x="603.15" y="20.90" width="4.61" height="9.00" fill="#FF0000" opacity="0.2"/>
<rect x="603.50" y="20.90" width="3.10" height="9.00" fill="#FF0000" />
<rect x="446.5" y="34.05" width="161.40" height="176.65" fill="#000"/>
<path fill="#2a2a00" d="M446.5 34.0h4.61v8.03h-4.61zM534.1 34.0h4.61v8.03h-4.61zM561.8 34.0h4.61v8.03h-4.61zM594.1 34.0h4.61v8.03h-4.61z"/>
<path fill="#5a5a00" d="M451.1 34.0h4.61v8.03h-4.61zM464.9 34.0h4.61v8.03h-4.61zM469.6 34.0h4.61v8.03h-4.61zM478.8 34.0h4.61v8.03h-4.61zM488.0 34.0h4.61v8.03h-4.61zM492.6 34.0h4.61v8.03h-4.61zM515.7 34.0h4.61v8.03h-4.61zM520.3 34.0h4.61v8.03h-4.61zM529.5 34.0h4.61v8.03h-4.61zM538.7 34.0h4.61v8.03h-4.61zM552.6 34.0h4.61v8.03h-4.61zM557.2 34.0h4.61v8.03h-4.61zM566.4 34.0h4.61v8.03h-4.61z"/>
<path fill="#404000" d="M455.7 34.0h4.61v8.03h-4.61zM460.3 34.0h4.61v8.03h-4.61zM474.2 34.0h4.61v8.03h-4.61zM506.4 34.0h4.61v8.03h-4.61zM524.9 34.0h4.61v8.03h-4.61zM543.3 34.0h4.61v8.03h-4.61zM571.0 34.0h4.61v8.03h-4.61zM575.6 34.0h4.61v8.03h-4.61zM584.8 34.0h4.61v8.03h-4.61zM603.3 34.0h4.61v8.03h-4.61z"/>
<path fill="#171700" d="M483.4 34.0h4.61v8.03h-4.61zM589.5 34.0h4.61v8.03h-4.61z"/>
<path fill="#767600" d="M497.2 34.0h4.61v8.03h-4.61zM501.8 34.0h4.61v8.03h-4.61zM511.1 34.0h4.61v8.03h-4.61zM548.0 34.0h4.61v8.03h-4.61zM580.2 34.0h4.61v8.03h-4.61zM598.7 34.0h4.61v8.03h-4.61z"/>
<path fill="#1b1b00" d="M478.8 42.1h4.61v8.03h-4.61zM506.4 42.1h4.61v8.03h-4.61zM464.9 50.1h4.61v8.03h-4.61zM543.3 50.1h4.61v8.03h-4.61zM561.8 50.1h4.61v8.03h-4.61zM584.8 50.1h4.61v8.03h-4.61zM446.5 66.2h4.61v8.03h-4.61zM451.1 66.2h4.61v8.03h-4.61zM464.9 66.2h4.61v8.03h-4.61zM474.2 66.2h4.61v8.03h-4.61zM488.0 66.2h4.61v8.03h-4.61zM515.7 66.2h4.61v8.03h-4.61zM520.3 66.2h4.61v8.03h-4.61zM529.5 66.2h4.61v8.03h-4.61zM543.3 66.2h4.61v8.03h-4.61zM552.6 66.2h4.61v8.03h-4.61zM557.2 66.2h4.61v8.03h-4.61zM575.6 66.2h4.61v8.03h-4.61zM580.2 66.2h4.61v8.03h-4.61zM589.5 66.2h4.61v8.03h-4.61zM594.1 66.2h4.61v8.03h-4.61zM598.7 66.2h4.61v8.03h-4.61zM478.8 82.2h4.61v8.03h-4.61zM534.1 82.2h4.61v8.03h-4.61zM584.8 82.2h4.61v8.03h-4.61zM451.1 90.3h4.61v8.03h-4.61zM460.3 90.3h4.61v8.03h-4.61zM469.6 90.3h4.61v8.03h-4.61zM474.2 90.3h4.61v8.03h-4.61zM497.2 90.3h4.61v8.03h-4.61zM501.8 90.3h4.61v8.03h-4.61zM520.3 90.3h4.61v8.03h-4.61zM524.9 90.3h4.61v8.03h-4.61zM548.0 90.3h4.61v8.03h-4.61zM557.2 90.3h4.61v8.03h-4.61zM561.8 90.3h4.61v8.03h-4.61zM566.4 90.3h4.61v8.03h-4.61zM571.0 90.3h4.61v8.03h-4.61zM580.2 90.3h4.61v8.03h-4.61zM584.8 90.3h4.61v8.03h-4.61zM598.7 90.3h4.61v8.03h-4.61zM446.5 98.3h4.61v8.03h-4.61zM455.7 98.3h4.61v8.03h-4.61zM474.2 98.3h4.61v8.03h-4.61zM488.0 98.3h4.61v8.03h-4.61zM492.6 98.3h4.61v8.03h-4.61zM506.4 98.3h4.61v8.03h-4.61zM511.1 98.3h4.61v8.03h-4.61zM515.7 98.3h4.61v8.03h-4.61zM520.3 98.3h4.61v8.03h-4.61zM524.9 98.3h4.61v8.03h-4.61zM552.6 98.3h4.61v8.03h-4.61zM557.2 98.3h4.61v8.03h-4.61zM575.6 98.3h4.61v8.03h-4.61zM594.1 98.3h4.61v8.03h-4.61zM460.3 106.3h4.61v8.03h-4.61zM469.6 106.3h4.61v8.03h-4.61zM488.0 106.3h4.61v8.03h-4.61zM515.7 106.3h4.61v8.03h-4.61zM552.6 106.3h4.61v8.03h-4.61zM589.5 106.3h4.61v8.03h-4.61zM603.3 106.3h4.61v8.03h-4.61zM483.4 114.3h4.61v8.03h-4.61zM543.3 114.3h4.61v8.03h-4.61zM488.0 122.4h4.61v8.03h-4.61zM552.6 122.4h4.61v8.03h-4.61zM584.8 122.4h4.61v8.03h-4.61zM594.1 122.4h4.61v8.03h-4.61zM460.3 138.4h4.61v8.03h-4.61zM478.8 138.4h4.61v8.03h-4.61zM506.4 138.4h4.61v8.03h-4.61zM524.9 138.4h4.61v8.03h-4.61zM534.1 138.4h4.61v8.03h-4.61zM538.7 138.4h4.61v8.03h-4.61zM543.3 138.4h4.61v8.03h-4.61zM557.2 138.4h4.61v8.03h-4.61zM575.6 138.4h4.61v8.03h-4.61zM584.8 138.4h4.61v8.03h-4.61zM589.5 138.4h4.61v8.03h-4.61zM594.1 138.4h4.61v8.03h-4.61zM603.3 138.4h4.61v8.03h-4.61zM548.0 146.5h4.61v8.03h-4.61zM552.6 146.5h4.61v8.03h-4.61zM464.9 154.5h4.61v8.03h-4.61zM483.4 154.5h4.61v8.03h-4.61zM506.4 154.5h4.61v8.03h-4.61zM543.3 154.5h4.61v8.03h-4.61zM566.4 154.5h4.61v8.03h-4.61zM589.5 154.5h4.61v8.03h-4.61zM603.3 154.5h4.61v8.03h-4.61zM446.5 162.5h4.61v8.03h-4.61zM460.3 162.5h4.61v8.03h-4.61zM474.2 162.5h4.61v8.03h-4.61zM478.8 162.5h4.61v8.03h-4.61zM488.0 162.5h4.61v8.03h-4.61zM506.4 162.5h4.61v8.03h-4.61zM511.1 162.5h4.61v8.03h-4.61zM515.7 162.5h4.61v8.03h-4.61zM524.9 162.5h4.61v8.03h-4.61zM566.4 162.5h4.61v8.03h-4.61zM575.6 162.5h4.61v8.03h-4.61zM584.8 162.5h4.61v8.03h-4.61zM603.3 162.5h4.61v8.03h-4.61zM529.5 170.6h4.61v8.03h-4.61zM543.3 170.6h4.61v8.03h-4.61zM561.8 170.6h4.61v8.03h-4.61zM580.2 170.6h4.61v8.03h-4.61zM589.5 170.6h4.61v8.03h-4.61zM603.3 170.6h4.61v8.03h-4.61zM460.3 178.6h4.61v8.03h-4.61zM515.7 178.6h4.61v8.03h-4.61zM594.1 178.6h4.61v8.03h-4.61zM446.5 194.6h4.61v8.03h-4.61zM451.1 194.6h4.61v8.03h-4.61zM455.7 194.6h4.61v8.03h-4.61zM464.9 194.6h4.61v8.03h-4.61zM478.8 194.6h4.61v8.03h-4.61zM492.6 194.6h4.61v8.03h-4.61zM515.7 194.6h4.61v8.03h-4.61zM520.3 194.6h4.61v8.03h-4.61zM524.9 194.6h4.61v8.03h-4.61zM538.7 194.6h4.61v8.03h-4.61zM552.6 194.6h4.61v8.03h-4.61zM557.2 194.6h4.61v8.03h-4.61zM566.4 194.6h4.61v8.03h-4.61zM571.0 194.6h4.61v8.03h-4.61zM580.2 194.6h4.61v8.03h-4.61zM584.8 194.6h4.61v8.03h-4.61zM594.1 194.6h4.61v8.03h-4.61zM598.7 194.6h4.61v8.03h-4.61z"/>
<path fill="#090900" d="M501.8 42.1h4.61v8.03h-4.61zM524.9 42.1h4.61v8.03h-4.61zM483.4 50.1h4.61v8.03h-4.61zM603.3 50.1h4.61v8.03h-4.61zM571.0 58.1h4.61v8.03h-4.61zM469.6 66.2h4.61v8.03h-4.61zM483.4 66.2h4.61v8.03h-4.61zM492.6 66.2h4.61v8.03h-4.61zM497.2 66.2h4.61v8.03h-4.61zM506.4 66.2h4.61v8.03h-4.61zM534.1 66.2h4.61v8.03h-4.61zM571.0 66.2h4.61v8.03h-4.61zM603.3 66.2h4.61v8.03h-4.61zM474.2 82.2h4.61v8.03h-4.61zM488.0 82.2h4.61v8.03h-4.61zM548.0 82.2h4.61v8.03h-4.61zM580.2 82.2h4.61v8.03h-4.61zM589.5 82.2h4.61v8.03h-4.61zM446.5 90.3h4.61v8.03h-4.61zM464.9 90.3h4.61v8.03h-4.61zM506.4 90.3h4.61v8.03h-4.61zM529.5 90.3h4.61v8.03h-4.61zM589.5 90.3h4.61v8.03h-4.61zM451.1 98.3h4.61v8.03h-4.61zM460.3 98.3h4.61v8.03h-4.61zM478.8 98.3h4.61v8.03h-4.61zM497.2 98.3h4.61v8.03h-4.61zM548.0 98.3h4.61v8.03h-4.61zM571.0 98.3h4.61v8.03h-4.61zM598.7 98.3h4.61v8.03h-4.61zM492.6 106.3h4.61v8.03h-4.61zM548.0 106.3h4.61v8.03h-4.61zM594.1 106.3h4.61v8.03h-4.61zM598.7 106.3h4.61v8.03h-4.61zM446.5 114.3h4.61v8.03h-4.61zM469.6 114.3h4.61v8.03h-4.61zM520.3 114.3h4.61v8.03h-4.61zM584.8 114.3h4.61v8.03h-4.61zM589.5 114.3h4.61v8.03h-4.61zM478.8 122.4h4.61v8.03h-4.61zM515.7 122.4h4.61v8.03h-4.61zM580.2 122.4h4.61v8.03h-4.61zM446.5 146.5h4.61v8.03h-4.61zM451.1 146.5h4.61v8.03h-4.61zM455.7 146.5h4.61v8.03h-4.61zM492.6 146.5h4.61v8.03h-4.61zM506.4 146.5h4.61v8.03h-4.61zM534.1 146.5h4.61v8.03h-4.61zM566.4 146.5h4.61v8.03h-4.61zM580.2 146.5h4.61v8.03h-4.61zM589.5 146.5h4.61v8.03h-4.61zM446.5 154.5h4.61v8.03h-4.61zM455.7 154.5h4.61v8.03h-4.61zM501.8 154.5h4.61v8.03h-4.61zM515.7 154.5h4.61v8.03h-4.61zM529.5 154.5h4.61v8.03h-4.61zM451.1 162.5h4.61v8.03h-4.61zM455.7 162.5h4.61v8.03h-4.61zM492.6 162.5h4.61v8.03h-4.61zM520.3 162.5h4.61v8.03h-4.61zM529.5 162.5h4.61v8.03h-4.61zM538.7 162.5h4.61v8.03h-4.61zM552.6 162.5h4.61v8.03h-4.61zM571.0 162.5h4.61v8.03h-4.61zM580.2 162.5h4.61v8.03h-4.61zM598.7 162.5h4.61v8.03h-4.61zM446.5 170.6h4.61v8.03h-4.61zM451.1 178.6h4.61v8.03h-4.61zM478.8 178.6h4.61v8.03h-4.61zM506.4 178.6h4.61v8.03h-4.61zM524.9 178.6h4.61v8.03h-4.61zM538.7 178.6h4.61v8.03h-4.61zM543.3 178.6h4.61v8.03h-4.61zM557.2 178.6h4.61v8.03h-4.61zM571.0 178.6h4.61v8.03h-4.61zM575.6 178.6h4.61v8.03h-4.61zM603.3 178.6h4.61v8.03h-4.61zM543.3 194.6h4.61v8.03h-4.61z"/>
<path fill="#4c4c00" d="M589.5 50.1h4.61v8.03h-4.61zM478.8 66.2h4.61v8.03h-4.61zM488.0 90.3h4.61v8.03h-4.61zM492.6 90.3h4.61v8.03h-4.61zM515.7 90.3h4.61v8.03h-4.61zM488.0 130.4h4.61v8.03h-4.61zM543.3 130.4h4.61v8.03h-4.61zM571.0 130.4h4.61v8.03h-4.61zM584.8 130.4h4.61v8.03h-4.61zM455.7 138.4h4.61v8.03h-4.61zM464.9 138.4h4.61v8.03h-4.61zM488.0 138.4h4.61v8.03h-4.61zM497.2 138.4h4.61v8.03h-4.61zM501.8 138.4h4.61v8.03h-4.61zM520.3 138.4h4.61v8.03h-4.61zM571.0 138.4h4.61v8.03h-4.61zM469.6 162.5h4.61v8.03h-4.61zM464.9 170.6h4.61v8.03h-4.61zM469.6 170.6h4.61v8.03h-4.61zM524.9 170.6h4.61v8.03h-4.61zM566.4 170.6h4.61v8.03h-4.61z"/>
<path fill="#313100" d="M455.7 66.2h4.61v8.03h-4.61zM501.8 66.2h4.61v8.03h-4.61zM538.7 66.2h4.61v8.03h-4.61zM561.8 66.2h4.61v8.03h-4.61zM584.8 66.2h4.61v8.03h-4.61zM584.8 74.2h4.61v8.03h-4.61zM589.5 74.2h4.61v8.03h-4.61zM561.8 82.2h4.61v8.03h-4.61zM455.7 90.3h4.61v8.03h-4.61zM478.8 90.3h4.61v8.03h-4.61zM511.1 90.3h4.61v8.03h-4.61zM538.7 90.3h4.61v8.03h-4.61zM552.6 90.3h4.61v8.03h-4.61zM603.3 90.3h4.61v8.03h-4.61zM534.1 98.3h4.61v8.03h-4.61zM538.7 98.3h4.61v8.03h-4.61zM580.2 98.3h4.61v8.03h-4.61zM451.1 106.3h4.61v8.03h-4.61zM474.2 106.3h4.61v8.03h-4.61zM511.1 106.3h4.61v8.03h-4.61zM561.8 106.3h4.61v8.03h-4.61zM571.0 106.3h4.61v8.03h-4.61zM483.4 130.4h4.61v8.03h-4.61zM501.8 130.4h4.61v8.03h-4.61zM515.7 130.4h4.61v8.03h-4.61zM534.1 130.4h4.61v8.03h-4.61zM580.2 130.4h4.61v8.03h-4.61zM589.5 130.4h4.61v8.03h-4.61zM451.1 138.4h4.61v8.03h-4.61zM474.2 138.4h4.61v8.03h-4.61zM483.4 138.4h4.61v8.03h-4.61zM492.6 138.4h4.61v8.03h-4.61zM511.1 138.4h4.61v8.03h-4.61zM515.7 138.4h4.61v8.03h-4.61zM529.5 138.4h4.61v8.03h-4.61zM548.0 138.4h4.61v8.03h-4.61zM552.6 138.4h4.61v8.03h-4.61zM561.8 138.4h4.61v8.03h-4.61zM566.4 138.4h4.61v8.03h-4.61zM580.2 138.4h4.61v8.03h-4.61zM598.7 138.4h4.61v8.03h-4.61zM501.8 162.5h4.61v8.03h-4.61zM557.2 162.5h4.61v8.03h-4.61zM488.0 170.6h4.61v8.03h-4.61zM460.3 194.6h4.61v8.03h-4.61zM474.2 194.6h4.61v8.03h-4.61zM488.0 194.6h4.61v8.03h-4.61zM506.4 194.6h4.61v8.03h-4.61zM511.1 194.6h4.61v8.03h-4.61z"/>
<path fill="#8b8b00" d="M464.9 106.3h4.61v8.03h-4.61zM460.3 130.4h4.61v8.03h-4.61zM469.6 130.4h4.61v8.03h-4.61zM506.4 130.4h4.61v8.03h-4.61zM511.1 130.4h4.61v8.03h-4.61zM529.5 130.4h4.61v8.03h-4.61zM548.0 130.4h4.61v8.03h-4.61zM460.3 170.6h4.61v8.03h-4.61zM520.3 170.6h4.61v8.03h-4.61zM552.6 170.6h4.61v8.03h-4.61zM571.0 170.6h4.61v8.03h-4.61zM575.6 170.6h4.61v8.03h-4.61zM594.1 170.6h4.61v8.03h-4.61zM598.7 170.6h4.61v8.03h-4.61z"/>
<path fill="#afaf00" d="M543.3 106.3h4.61v8.03h-4.61zM474.2 130.4h4.61v8.03h-4.61zM524.9 130.4h4.61v8.03h-4.61zM538.7 130.4h4.61v8.03h-4.61zM497.2 170.6h4.61v8.03h-4.61zM506.4 170.6h4.61v8.03h-4.61zM557.2 170.6h4.61v8.03h-4.61z"/>
<path fill="#6a6a00" d="M584.8 106.3h4.61v8.03h-4.61zM446.5 130.4h4.61v8.03h-4.61zM451.1 130.4h4.61v8.03h-4.61zM455.7 130.4h4.61v8.03h-4.61zM464.9 130.4h4.61v8.03h-4.61zM478.8 130.4h4.61v8.03h-4.61zM492.6 130.4h4.61v8.03h-4.61zM552.6 130.4h4.61v8.03h-4.61zM557.2 130.4h4.61v8.03h-4.61zM561.8 130.4h4.61v8.03h-4.61zM594.1 130.4h4.61v8.03h-4.61zM603.3 130.4h4.61v8.03h-4.61zM469.6 138.4h4.61v8.03h-4.61zM451.1 170.6h4.61v8.03h-4.61zM455.7 170.6h4.61v8.03h-4.61zM474.2 170.6h4.61v8.03h-4.61zM478.8 170.6h4.61v8.03h-4.61zM492.6 170.6h4.61v8.03h-4.61zM511.1 170.6h4.61v8.03h-4.61zM515.7 170.6h4.61v8.03h-4.61zM538.7 170.6h4.61v8.03h-4.61z"/>
<path fill="#ffff00" d="M497.2 130.4h4.61v8.03h-4.61z"/>
<path fill="#d6d600" d="M520.3 130.4h4.61v8.03h-4.61zM566.4 130.4h4.61v8.03h-4.61zM575.6 130.4h4.61v8.03h-4.61zM598.7 130.4h4.61v8.03h-4.61zM446.5 138.4h4.61v8.03h-4.61z"/>
<text x="443.7" y="41.4" font-size="6.9" fill="#111" stroke="#111" stroke-width="0.07" text-anchor="end" >* Follicular Helper T Cells</text>
<text x="443.7" y="49.36" font-size="6.9" fill="#111" stroke="#111" stroke-width="0.07" text-anchor="end" >Naive B Cells</text>
<text x="443.7" y="57.32" font-size="6.9" fill="#111" stroke="#111" stroke-width="0.07" text-anchor="end" >Activated Mast Cells</text>
<text x="443.7" y="65.28" font-size="6.9" fill="#111" stroke="#111" stroke-width="0.07" text-anchor="end" >Regulatory T Cells (Tregs)</text>
<text x="443.7" y="73.24" font-size="6.9" fill="#111" stroke="#111" stroke-width="0.07" text-anchor="end" >Monocytes</text>
<text x="443.7" y="81.2" font-size="6.9" fill="#111" stroke="#111" stroke-width="0.07" text-anchor="end" >Neutrophils</text>
<text x="443.7" y="89.16" font-size="6.9" fill="#111" stroke="#111" stroke-width="0.07" text-anchor="end" >Resting Memory CD4 T Cells</text>
<text x="443.7" y="97.12" font-size="6.9" fill="#111" stroke="#111" stroke-width="0.07" text-anchor="end" >Activated NK Cells</text>
<text x="443.7" y="105.08" font-size="6.9" fill="#111" stroke="#111" stroke-width="0.07" text-anchor="end" >Resting Mast Cells</text>
<text x="443.7" y="113.04" font-size="6.9" fill="#111" stroke="#111" stroke-width="0.07" text-anchor="end" >M0 Macrophages</text>
<text x="443.7" y="121.0" font-size="6.9" fill="#111" stroke="#111" stroke-width="0.07" text-anchor="end" >Naive CD4 T Cells</text>
<text x="443.7" y="128.96" font-size="6.9" fill="#111" stroke="#111" stroke-width="0.07" text-anchor="end" >Resting Dendritic Cells</text>
<text x="443.7" y="136.92" font-size="6.9" fill="#111" stroke="#111" stroke-width="0.07" text-anchor="end" >M2 Macrophages</text>
<text x="443.7" y="144.88" font-size="6.9" fill="#111" stroke="#111" stroke-width="0.07" text-anchor="end" >Memory B Cells</text>
<text x="443.7" y="152.84" font-size="6.9" fill="#111" stroke="#111" stroke-width="0.07" text-anchor="end" >Activated Dendritic Cells</text>
<text x="443.7" y="160.8" font-size="6.9" fill="#111" stroke="#111" stroke-width="0.07" text-anchor="end" >Resting NK Cells</text>
<text x="443.7" y="168.76" font-size="6.9" fill="#111" stroke="#111" stroke-width="0.07" text-anchor="end" >Plasma Cells</text>
<text x="443.7" y="176.72" font-size="6.9" fill="#111" stroke="#111" stroke-width="0.07" text-anchor="end" >CD8 T Cells</text>
<text x="443.7" y="184.68" font-size="6.9" fill="#111" stroke="#111" stroke-width="0.07" text-anchor="end" >Activated Memory CD4 T Cells</text>
<text x="443.7" y="192.64" font-size="6.9" fill="#111" stroke="#111" stroke-width="0.07" text-anchor="end" >Eosinophils</text>
<text x="443.7" y="200.6" font-size="6.9" fill="#111" stroke="#111" stroke-width="0.07" text-anchor="end" >M1 Macrophages</text>
<text x="443.7" y="208.56" font-size="6.9" fill="#111" stroke="#111" stroke-width="0.07" text-anchor="end" >Gamma Delta T Cells</text>
<rect x="613.00" y="12.90" width="9.00" height="6.00" fill="#2E5597" />
<text x="624.0" y="18.8" font-size="7.6" fill="#111" stroke="#111" stroke-width="0.07" text-anchor="start" >CR</text>
<rect x="639.20" y="12.90" width="9.00" height="6.00" fill="#00B0F0" />
<text x="650.2" y="18.8" font-size="7.6" fill="#111" stroke="#111" stroke-width="0.07" text-anchor="start" >PR</text>
<rect x="665.00" y="12.90" width="9.00" height="6.00" fill="#00B050" />
<text x="676.0" y="18.8" font-size="7.6" fill="#111" stroke="#111" stroke-width="0.07" text-anchor="start" >LS</text>
<rect x="613.00" y="22.60" width="9.00" height="6.00" fill="#FF77CC" />
<text x="624.0" y="28.5" font-size="7.6" fill="#111" stroke="#111" stroke-width="0.07" text-anchor="start" >SD</text>
<rect x="639.20" y="22.60" width="9.00" height="6.00" fill="#FF0000" />
<text x="650.2" y="28.5" font-size="7.6" fill="#111" stroke="#111" stroke-width="0.07" text-anchor="start" >PD</text>
<text x="619.0" y="193.8" font-size="8.5" fill="#111" stroke="#111" stroke-width="0.07" text-anchor="start" >* <tspan font-style="italic">p</tspan> &lt; 0.05</text>
<rect x="620.40" y="197.50" width="36.60" height="5.40" fill="url(#gB)" />
<rect x="621.20" y="202.90" width="0.80" height="1.00" fill="#bbb" />
<rect x="636.60" y="202.90" width="0.80" height="1.00" fill="#bbb" />
<rect x="653.20" y="202.90" width="0.80" height="1.00" fill="#bbb" />
<text x="621.6" y="210.6" font-size="5.0" fill="#111" stroke="#111" stroke-width="0.07" text-anchor="middle" >0</text>
<text x="636.6" y="210.6" font-size="5.0" fill="#111" stroke="#111" stroke-width="0.07" text-anchor="middle" >0.2</text>
<text x="653.3" y="210.6" font-size="5.0" fill="#111" stroke="#111" stroke-width="0.07" text-anchor="middle" >0.4</text>
<text x="0.8" y="269.9" font-size="15.8" fill="#111" stroke="#111" stroke-width="0.07" text-anchor="start" >C</text>
<text x="134.0" y="287.4" font-size="10.5" fill="#111" stroke="#111" stroke-width="0.07" text-anchor="middle" >Follicular Helper T Cells</text>
<text x="142.7" y="301.0" font-size="7.4" fill="#111" stroke="#111" stroke-width="0.07" text-anchor="middle" ><tspan font-style="italic">p</tspan> = 0.0373</text>
<line x1="118.5" y1="305.3" x2="167.4" y2="305.3" stroke="#888" stroke-width="1" />
<line x1="118.5" y1="305.3" x2="118.5" y2="310.4" stroke="#888" stroke-width="1" />
<line x1="167.4" y1="305.3" x2="167.4" y2="310.4" stroke="#888" stroke-width="1" />
<line x1="98.0" y1="310.4" x2="142.1" y2="310.4" stroke="#888" stroke-width="1" />
<line x1="154.7" y1="310.4" x2="181.2" y2="310.4" stroke="#888" stroke-width="1" />
<line x1="81.5" y1="310.3" x2="81.5" y2="425.9" stroke="#333" stroke-width="1" />
<line x1="81.0" y1="425.4" x2="196.5" y2="425.4" stroke="#333" stroke-width="1" />
<line x1="77.0" y1="311.0" x2="81.5" y2="311.0" stroke="#333" stroke-width="1" />
<text x="76.8" y="315.2" font-size="7.2" fill="#111" stroke="#111" stroke-width="0.07" text-anchor="end" >0.20</text>
<line x1="77.0" y1="339.59999999999997" x2="81.5" y2="339.59999999999997" stroke="#333" stroke-width="1" />
<text x="76.8" y="343.03" font-size="7.2" fill="#111" stroke="#111" stroke-width="0.07" text-anchor="end" >0.15</text>
<line x1="77.0" y1="368.2" x2="81.5" y2="368.2" stroke="#333" stroke-width="1" />
<text x="76.8" y="370.86" font-size="7.2" fill="#111" stroke="#111" stroke-width="0.07" text-anchor="end" >0.10</text>
<line x1="77.0" y1="396.79999999999995" x2="81.5" y2="396.79999999999995" stroke="#333" stroke-width="1" />
<text x="76.8" y="398.69" font-size="7.2" fill="#111" stroke="#111" stroke-width="0.07" text-anchor="end" >0.05</text>
<line x1="77.0" y1="425.4" x2="81.5" y2="425.4" stroke="#333" stroke-width="1" />
<text x="76.8" y="426.52" font-size="7.2" fill="#111" stroke="#111" stroke-width="0.07" text-anchor="end" >0.00</text>
<line x1="96.0" y1="425.4" x2="96.0" y2="429.0" stroke="#333" stroke-width="1" />
<line x1="117.6" y1="425.4" x2="117.6" y2="429.0" stroke="#333" stroke-width="1" />
<line x1="139.2" y1="425.4" x2="139.2" y2="429.0" stroke="#333" stroke-width="1" />
<line x1="160.7" y1="425.4" x2="160.7" y2="429.0" stroke="#333" stroke-width="1" />
<line x1="182.2" y1="425.4" x2="182.2" y2="429.0" stroke="#333" stroke-width="1" />
<text x="94.8" y="437.0" font-size="8.3" fill="#111" stroke="#111" stroke-width="0.07" text-anchor="middle" >CR</text>
<text x="116.8" y="437.0" font-size="8.3" fill="#111" stroke="#111" stroke-width="0.07" text-anchor="middle" >PR</text>
<text x="137.5" y="437.0" font-size="8.3" fill="#111" stroke="#111" stroke-width="0.07" text-anchor="middle" >LS</text>
<text x="157.2" y="437.0" font-size="8.3" fill="#111" stroke="#111" stroke-width="0.07" text-anchor="middle" >SD</text>
<text x="178.5" y="437.0" font-size="8.3" fill="#111" stroke="#111" stroke-width="0.07" text-anchor="middle" >PD</text>
<text transform="translate(55.0,364.8) rotate(-90)" font-size="10" fill="#111" text-anchor="middle">Score</text>
<line x1="89.2" y1="353.4" x2="103.1" y2="353.4" stroke="#1F3A8F" stroke-width="1" />
<line x1="110.4" y1="346.9" x2="124.8" y2="346.9" stroke="#A8D8F5" stroke-width="1.3" />
<line x1="132.0" y1="340.3" x2="146.3" y2="340.3" stroke="#1A8C1A" stroke-width="1.2" />
<line x1="153.7" y1="353.3" x2="168.0" y2="353.3" stroke="#F4A0B4" stroke-width="1.2" />
<line x1="175.2" y1="372.6" x2="189.7" y2="372.6" stroke="#F58080" stroke-width="1.3" />
<path d="M186.5 434.4L191.8 431.5L191.8 437.29999999999995Z" fill="#111"/>
<line x1="191.5" y1="434.4" x2="195.7" y2="434.4" stroke="#111" stroke-width="1.8" />
<text x="199.4" y="432.5" font-size="6.25" fill="#111" stroke="#111" stroke-width="0.07" text-anchor="start" >Clinical</text>
<text x="199.4" y="440.1" font-size="6.25" fill="#111" stroke="#111" stroke-width="0.07" text-anchor="start" >Response</text>
<rect x="87.90" y="443.20" width="55.10" height="2.40" fill="#1A9A1A" />
<rect x="150.90" y="443.20" width="32.10" height="2.40" fill="#FF1010" />
<text x="114.1" y="455.0" font-size="8.4" fill="#1E961E" stroke="#1E961E" stroke-width="0.07" text-anchor="middle" >Clinically</text>
<text x="115.5" y="465.0" font-size="8.4" fill="#1E961E" stroke="#1E961E" stroke-width="0.07" text-anchor="middle" >Benefited</text>
<text x="115.6" y="475.6" font-size="8.4" fill="#1E961E" stroke="#1E961E" stroke-width="0.07" text-anchor="middle" >(n=23)</text>
<text x="166.8" y="455.0" font-size="8.3" fill="#FF2222" stroke="#FF2222" stroke-width="0.07" text-anchor="middle" >Non-</text>
<text x="166.8" y="465.0" font-size="8.3" fill="#FF2222" stroke="#FF2222" stroke-width="0.07" text-anchor="middle" >Benefited</text>
<text x="166.8" y="475.6" font-size="8.3" fill="#FF2222" stroke="#FF2222" stroke-width="0.07" text-anchor="middle" >(n=12)</text>
<text x="293.2" y="270.7" font-size="15.8" fill="#111" stroke="#111" stroke-width="0.07" text-anchor="start" >D</text>
<text x="412.0" y="287.3" font-size="10.4" fill="#111" stroke="#111" stroke-width="0.07" text-anchor="middle" >TCR Repertoire</text>
<line x1="356.6" y1="311.1" x2="356.6" y2="424.0" stroke="#333" stroke-width="1" />
<line x1="356.1" y1="423.5" x2="469.2" y2="423.5" stroke="#333" stroke-width="1" />
<line x1="353.2" y1="337.5" x2="356.6" y2="337.5" stroke="#333" stroke-width="1" />
<text x="352.1" y="340.25" font-size="7.6" fill="#111" stroke="#111" stroke-width="0.07" text-anchor="end" >0.10</text>
<line x1="353.2" y1="380.5" x2="356.6" y2="380.5" stroke="#333" stroke-width="1" />
<text x="352.1" y="383.25" font-size="7.6" fill="#111" stroke="#111" stroke-width="0.07" text-anchor="end" >0.05</text>
<line x1="353.2" y1="423.5" x2="356.6" y2="423.5" stroke="#333" stroke-width="1" />
<text x="352.1" y="426.25" font-size="7.6" fill="#111" stroke="#111" stroke-width="0.07" text-anchor="end" >0.00</text>
<text x="371.1" y="437.2" font-size="8.3" fill="#111" stroke="#111" stroke-width="0.07" text-anchor="middle" >CR</text>
<text x="392.5" y="437.2" font-size="8.3" fill="#111" stroke="#111" stroke-width="0.07" text-anchor="middle" >PR</text>
<text x="412.5" y="437.2" font-size="8.3" fill="#111" stroke="#111" stroke-width="0.07" text-anchor="middle" >LS</text>
<text x="433.1" y="437.2" font-size="8.3" fill="#111" stroke="#111" stroke-width="0.07" text-anchor="middle" >SD</text>
<text x="454.3" y="437.2" font-size="8.3" fill="#111" stroke="#111" stroke-width="0.07" text-anchor="middle" >PD</text>
<text transform="translate(330.4,363.8) rotate(-90)" font-size="10.4" fill="#111" text-anchor="middle">Diversity Index</text>
<line x1="363.8" y1="390.2" x2="378.0" y2="390.2" stroke="#2E5597" stroke-width="1" />
<line x1="385.0" y1="379.7" x2="398.7" y2="379.7" stroke="#80D4F5" stroke-width="1.3" />
<line x1="405.8" y1="381.0" x2="420.0" y2="381.0" stroke="#80D8A8" stroke-width="1.3" />
<path d="M463.7 433.8L469.0 430.90000000000003L469.0 436.7Z" fill="#111"/>
<line x1="468.7" y1="433.8" x2="473.0" y2="433.8" stroke="#111" stroke-width="1.8" />
<text x="476.4" y="432.5" font-size="6.25" fill="#111" stroke="#111" stroke-width="0.07" text-anchor="start" >Clinical</text>
<text x="476.4" y="440.1" font-size="6.25" fill="#111" stroke="#111" stroke-width="0.07" text-anchor="start" >Response</text>
<rect x="364.30" y="443.50" width="55.20" height="2.30" fill="#1A9A1A" />
<rect x="427.70" y="443.50" width="32.10" height="2.30" fill="#FF1010" />
<text x="390.6" y="454.8" font-size="8.4" fill="#1E961E" stroke="#1E961E" stroke-width="0.07" text-anchor="middle" >Clinically</text>
<text x="392.0" y="465.2" font-size="8.4" fill="#1E961E" stroke="#1E961E" stroke-width="0.07" text-anchor="middle" >Benefited</text>
<text x="391.9" y="475.6" font-size="8.4" fill="#1E961E" stroke="#1E961E" stroke-width="0.07" text-anchor="middle" >(n=13)</text>
<text x="443.7" y="454.8" font-size="8.3" fill="#FF2222" stroke="#FF2222" stroke-width="0.07" text-anchor="middle" >Non-</text>
<text x="443.7" y="465.4" font-size="8.3" fill="#FF2222" stroke="#FF2222" stroke-width="0.07" text-anchor="middle" >Benefited</text>
<text x="443.7" y="475.6" font-size="8.3" fill="#FF2222" stroke="#FF2222" stroke-width="0.07" text-anchor="middle" >(n=10)</text>
<circle cx="96.1" cy="328.4" r="1.9" fill="#1F3A8F"/>
<circle cx="96.1" cy="342.9" r="1.9" fill="#1F3A8F"/>
<circle cx="92.8" cy="350.1" r="1.9" fill="#1F3A8F"/>
<circle cx="99.6" cy="353.4" r="1.9" fill="#1F3A8F"/>
<circle cx="96.1" cy="361.8" r="1.9" fill="#1F3A8F"/>
<circle cx="96.1" cy="369.9" r="1.9" fill="#1F3A8F"/>
<circle cx="96.1" cy="378.6" r="1.9" fill="#1F3A8F"/>
<circle cx="117.6" cy="320.5" r="1.9" fill="#5AAEE8"/>
<circle cx="117.6" cy="329.7" r="1.9" fill="#5AAEE8"/>
<circle cx="117.6" cy="333.4" r="1.9" fill="#5AAEE8"/>
<circle cx="117.6" cy="346.9" r="1.9" fill="#5AAEE8"/>
<circle cx="117.6" cy="355.1" r="1.9" fill="#5AAEE8"/>
<circle cx="117.6" cy="364.9" r="1.9" fill="#5AAEE8"/>
<circle cx="117.6" cy="395.3" r="1.9" fill="#5AAEE8"/>
<circle cx="139.2" cy="325.3" r="1.9" fill="#1A8C1A"/>
<circle cx="142.8" cy="331.2" r="1.9" fill="#1A8C1A"/>
<circle cx="135.8" cy="334.5" r="1.9" fill="#1A8C1A"/>
<circle cx="142.8" cy="338.0" r="1.9" fill="#1A8C1A"/>
<circle cx="135.8" cy="340.3" r="1.9" fill="#1A8C1A"/>
<circle cx="142.8" cy="343.0" r="1.9" fill="#1A8C1A"/>
<circle cx="139.2" cy="350.8" r="1.9" fill="#1A8C1A"/>
<circle cx="139.2" cy="355.3" r="1.9" fill="#1A8C1A"/>
<circle cx="139.2" cy="376.3" r="1.9" fill="#1A8C1A"/>
<circle cx="157.0" cy="354.2" r="1.9" fill="#F4A0B4"/>
<circle cx="164.2" cy="352.5" r="1.9" fill="#F4A0B4"/>
<circle cx="182.2" cy="329.2" r="1.9" fill="#FF1010"/>
<circle cx="182.2" cy="338.0" r="1.9" fill="#FF1010"/>
<circle cx="182.2" cy="348.0" r="1.9" fill="#FF1010"/>
<circle cx="182.2" cy="358.0" r="1.9" fill="#FF1010"/>
<circle cx="182.2" cy="367.5" r="1.9" fill="#FF1010"/>
<circle cx="178.7" cy="378.0" r="1.9" fill="#FF1010"/>
<circle cx="185.7" cy="380.1" r="1.9" fill="#FF1010"/>
<circle cx="182.2" cy="383.6" r="1.9" fill="#FF1010"/>
<circle cx="182.2" cy="395.4" r="1.9" fill="#FF1010"/>
<circle cx="182.2" cy="405.5" r="1.9" fill="#FF1010"/>
<circle cx="370.8" cy="361.3" r="1.9" fill="#2E5597"/>
<circle cx="367.5" cy="389.3" r="1.9" fill="#2E5597"/>
<circle cx="374.2" cy="390.8" r="1.9" fill="#2E5597"/>
<circle cx="370.8" cy="398.0" r="1.9" fill="#2E5597"/>
<circle cx="391.7" cy="336.2" r="1.9" fill="#00B0F0"/>
<circle cx="391.7" cy="379.7" r="1.9" fill="#00B0F0"/>
<circle cx="391.7" cy="400.5" r="1.9" fill="#00B0F0"/>
<circle cx="412.9" cy="350.0" r="1.9" fill="#00B050"/>
<circle cx="412.9" cy="369.2" r="1.9" fill="#00B050"/>
<circle cx="412.9" cy="376.7" r="1.9" fill="#00B050"/>
<circle cx="412.9" cy="385.0" r="1.9" fill="#00B050"/>
<circle cx="412.9" cy="395.8" r="1.9" fill="#00B050"/>
<circle cx="412.9" cy="407.2" r="1.9" fill="#00B050"/>
<circle cx="433.8" cy="318.7" r="1.9" fill="#FF66CC"/>
<circle cx="454.8" cy="325.0" r="1.9" fill="#FF0000"/>
<circle cx="454.8" cy="373.0" r="1.9" fill="#FF0000"/>
<circle cx="449.5" cy="388.7" r="1.9" fill="#FF0000"/>
<circle cx="454.8" cy="389.3" r="1.9" fill="#FF0000"/>
<circle cx="460.3" cy="388.7" r="1.9" fill="#FF0000"/>
<circle cx="449.5" cy="396.2" r="1.9" fill="#FF0000"/>
<circle cx="460.3" cy="397.5" r="1.9" fill="#FF0000"/>
<circle cx="454.8" cy="400.0" r="1.9" fill="#FF0000"/>
<circle cx="454.8" cy="410.5" r="1.9" fill="#FF0000"/>
</svg>
</body></html>
